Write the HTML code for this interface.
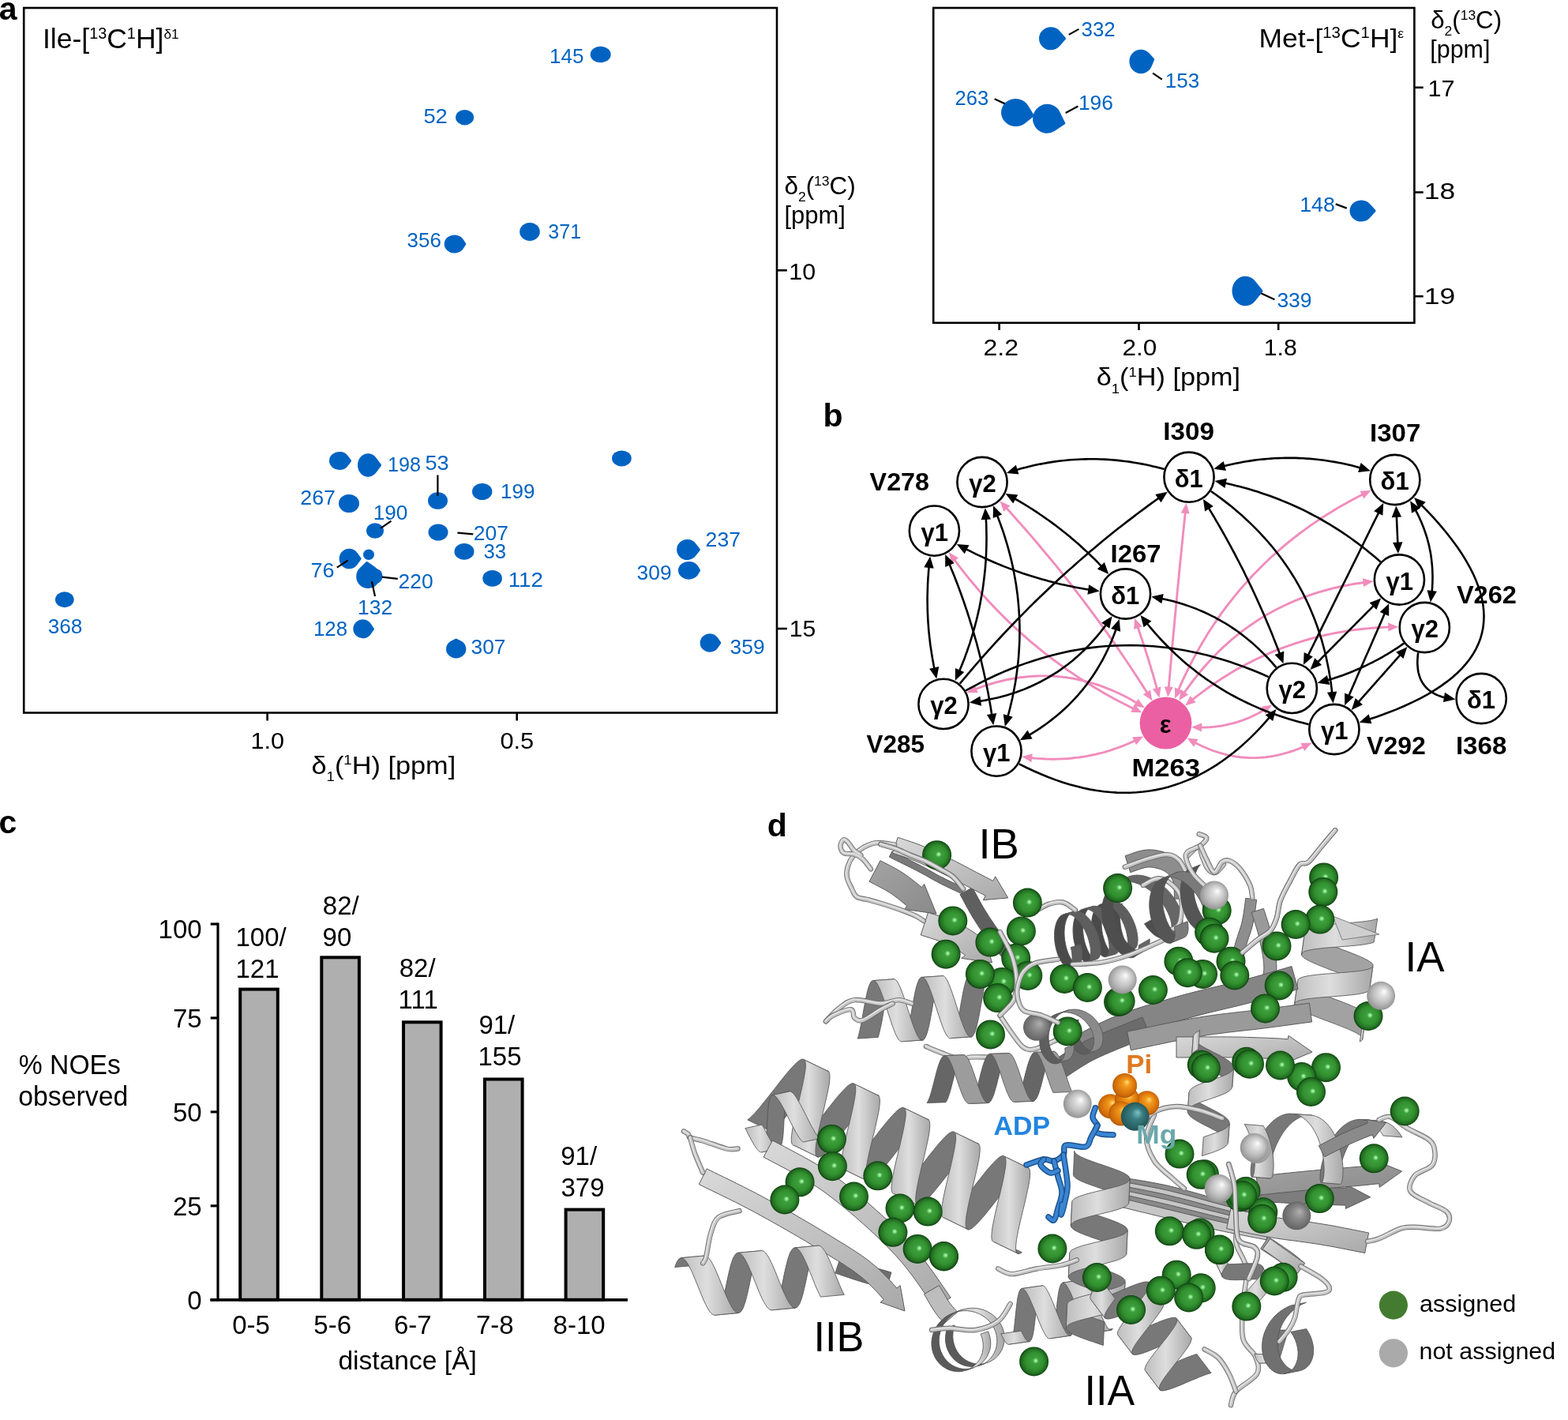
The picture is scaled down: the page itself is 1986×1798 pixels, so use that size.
<!DOCTYPE html>
<html><head><meta charset="utf-8"><title>Figure</title>
<style>html,body{margin:0;padding:0;background:#fff;}svg{display:block;}text{font-family:"Liberation Sans", Arial, Helvetica, sans-serif;}</style></head>
<body><svg width="1986" height="1798" viewBox="0 0 1986 1798" font-family='"Liberation Sans", Arial, Helvetica, sans-serif'>
<defs>
<radialGradient id="gG" cx="0.5" cy="0.5" r="0.5" fx="0.57" fy="0.47">
<stop offset="0" stop-color="#b2ffb2"/><stop offset="0.07" stop-color="#8fe88f"/><stop offset="0.2" stop-color="#3d9f3d"/><stop offset="0.6" stop-color="#32912f"/><stop offset="0.86" stop-color="#226e22"/><stop offset="1" stop-color="#0d3f0d"/></radialGradient>
<radialGradient id="gD" cx="0.5" cy="0.5" r="0.55" fx="0.62" fy="0.35">
<stop offset="0" stop-color="#5aa55a"/><stop offset="0.3" stop-color="#236f23"/><stop offset="0.8" stop-color="#195519"/><stop offset="1" stop-color="#0f3c0f"/></radialGradient>
<radialGradient id="gW" cx="0.5" cy="0.5" r="0.55" fx="0.62" fy="0.35">
<stop offset="0" stop-color="#ffffff"/><stop offset="0.2" stop-color="#e4e4e4"/><stop offset="0.6" stop-color="#bdbdbd"/><stop offset="1" stop-color="#8a8a8a"/></radialGradient>
<radialGradient id="gK" cx="0.5" cy="0.5" r="0.55" fx="0.62" fy="0.35">
<stop offset="0" stop-color="#b0b0b0"/><stop offset="0.4" stop-color="#8a8a8a"/><stop offset="1" stop-color="#5e5e5e"/></radialGradient>
<radialGradient id="gO" cx="0.5" cy="0.5" r="0.55" fx="0.6" fy="0.35">
<stop offset="0" stop-color="#ffe27a"/><stop offset="0.25" stop-color="#f39a1c"/><stop offset="0.8" stop-color="#d06a08"/><stop offset="1" stop-color="#9a4d05"/></radialGradient>
<radialGradient id="gT" cx="0.5" cy="0.5" r="0.55" fx="0.6" fy="0.35">
<stop offset="0" stop-color="#7fc4c4"/><stop offset="0.35" stop-color="#3b7f82"/><stop offset="1" stop-color="#1f4f52"/></radialGradient>
<linearGradient id="gS" x1="0" y1="0" x2="1" y2="1">
<stop offset="0" stop-color="#d9d9d9"/><stop offset="0.5" stop-color="#c2c2c2"/><stop offset="1" stop-color="#a9a9a9"/></linearGradient>
<linearGradient id="gS2" x1="0" y1="0" x2="1" y2="1">
<stop offset="0" stop-color="#a4a4a4"/><stop offset="1" stop-color="#8a8a8a"/></linearGradient>
<linearGradient id="gHf" x1="0" y1="0" x2="1" y2="0">
<stop offset="0" stop-color="#bdbdbd"/><stop offset="0.45" stop-color="#dedede"/><stop offset="1" stop-color="#a8a8a8"/></linearGradient>
</defs>
<rect width="1986" height="1798" fill="#fff"/>
<text x="-1.2" y="24.5" font-size="41" font-weight="bold" fill="#000">a</text>
<rect x="30.2" y="10" width="953.8" height="892.5" fill="none" stroke="#000" stroke-width="2.6"/>
<line x1="338.6" y1="902.5" x2="338.6" y2="912.5" stroke="#000" stroke-width="2.6"/>
<line x1="654.7" y1="902.5" x2="654.7" y2="912.5" stroke="#000" stroke-width="2.6"/>
<line x1="984" y1="342.3" x2="996.8" y2="342.3" stroke="#000" stroke-width="2.6"/>
<line x1="984" y1="796" x2="996.8" y2="796" stroke="#000" stroke-width="2.6"/>
<text x="317.4" y="948.2" font-size="29" fill="#000" textLength="42.6" lengthAdjust="spacingAndGlyphs">1.0</text>
<text x="633.4" y="948.3" font-size="29" fill="#000" textLength="42.8" lengthAdjust="spacingAndGlyphs">0.5</text>
<text x="999.3" y="354.1" font-size="30" fill="#000" textLength="33.8" lengthAdjust="spacingAndGlyphs">10</text>
<text x="999.7" y="806.3" font-size="30" fill="#000" textLength="33.5" lengthAdjust="spacingAndGlyphs">15</text>
<text id="ta1" x="54.0" y="61.0" font-size="35" fill="#000" textLength="172.6" lengthAdjust="spacingAndGlyphs">Ile-[<tspan font-size="19.5" dy="-12.5">13</tspan><tspan dy="12.5">C</tspan><tspan font-size="19.5" dy="-12.5">1</tspan><tspan dy="12.5">H]</tspan><tspan font-size="17" dy="-12.5">δ1</tspan></text>
<text id="ta2" x="993.4" y="246.3" font-size="30.5" fill="#000" textLength="90.4" lengthAdjust="spacingAndGlyphs">δ<tspan font-size="17" dy="9">2</tspan><tspan dy="-9">(</tspan><tspan font-size="17" dy="-11">13</tspan><tspan dy="11">C)</tspan></text>
<text id="ta3" x="993.4" y="283.2" font-size="30.5" fill="#000" textLength="77.5" lengthAdjust="spacingAndGlyphs">[ppm]</text>
<text id="ta4" x="394.5" y="979.8" font-size="30.5" fill="#000" textLength="182.7" lengthAdjust="spacingAndGlyphs">δ<tspan font-size="16.5" dy="9.5">1</tspan><tspan dy="-9.5">(</tspan><tspan font-size="16.5" dy="-11.5">1</tspan><tspan dy="11.5">H) [ppm]</tspan></text>
<ellipse cx="760.7" cy="69" rx="13.0" ry="10.25" fill="#0063c2"/>
<ellipse cx="588.6" cy="148.7" rx="11.5" ry="9.7" fill="#0063c2"/>
<path d="M1.150,0 L0.870,0.494 A1,1 0 1 1 0.870,-0.494 Z" fill="#0063c2" stroke="#0063c2" stroke-width="3" stroke-linejoin="round" vector-effect="non-scaling-stroke" transform="translate(576.5,309) rotate(0) scale(11.442,10.000) translate(-0.075,0)"/>
<ellipse cx="671" cy="293.4" rx="12.8" ry="11.5" fill="#0063c2"/>
<path d="M1.200,0 L0.833,0.553 A1,1 0 1 1 0.833,-0.553 Z" fill="#0063c2" stroke="#0063c2" stroke-width="3" stroke-linejoin="round" vector-effect="non-scaling-stroke" transform="translate(431,583.5) rotate(0) scale(11.364,10.000) translate(-0.100,0)"/>
<path d="M1.300,0 L0.769,0.639 A1,1 0 1 1 0.769,-0.639 Z" fill="#0063c2" stroke="#0063c2" stroke-width="3" stroke-linejoin="round" vector-effect="non-scaling-stroke" transform="translate(468,589) rotate(0) scale(11.739,13.250) translate(-0.150,0)"/>
<ellipse cx="554.5" cy="634" rx="12.5" ry="10.8" fill="#0063c2"/>
<ellipse cx="610.7" cy="622.5" rx="12.7" ry="10.5" fill="#0063c2"/>
<ellipse cx="442" cy="637.5" rx="13.0" ry="11.5" fill="#0063c2"/>
<ellipse cx="475" cy="672" rx="11.0" ry="9.75" fill="#0063c2"/>
<ellipse cx="555" cy="674" rx="12.5" ry="10.5" fill="#0063c2"/>
<ellipse cx="588" cy="698.4" rx="12.5" ry="10.35" fill="#0063c2"/>
<path d="M1.250,0 L0.800,0.600 A1,1 0 1 1 0.800,-0.600 Z" fill="#0063c2" stroke="#0063c2" stroke-width="3" stroke-linejoin="round" vector-effect="non-scaling-stroke" transform="translate(443.6,707.5) rotate(0) scale(11.111,11.250) translate(-0.125,0)"/>
<ellipse cx="467" cy="702.3" rx="7.0" ry="6.8" fill="#0063c2"/>
<path d="M1.300,0 L0.769,0.639 A1,1 0 1 1 0.769,-0.639 Z" fill="#0063c2" stroke="#0063c2" stroke-width="3" stroke-linejoin="round" vector-effect="non-scaling-stroke" transform="translate(466,728) rotate(-95) scale(13.478,13.500) translate(-0.150,0)"/>
<ellipse cx="477.5" cy="729.5" rx="7.0" ry="9.0" fill="#0063c2"/>
<path d="M1.200,0 L0.833,0.553 A1,1 0 1 1 0.833,-0.553 Z" fill="#0063c2" stroke="#0063c2" stroke-width="3" stroke-linejoin="round" vector-effect="non-scaling-stroke" transform="translate(460.6,796.3) rotate(0) scale(10.727,10.500) translate(-0.100,0)"/>
<path d="M1.150,0 L0.870,0.494 A1,1 0 1 1 0.870,-0.494 Z" fill="#0063c2" stroke="#0063c2" stroke-width="3" stroke-linejoin="round" vector-effect="non-scaling-stroke" transform="translate(577.7,821) rotate(-90) scale(10.233,11.200) translate(-0.075,0)"/>
<ellipse cx="623.6" cy="732.4" rx="12.3" ry="10.3" fill="#0063c2"/>
<ellipse cx="787.4" cy="580.4" rx="12.35" ry="10.0" fill="#0063c2"/>
<path d="M1.250,0 L0.800,0.600 A1,1 0 1 1 0.800,-0.600 Z" fill="#0063c2" stroke="#0063c2" stroke-width="3" stroke-linejoin="round" vector-effect="non-scaling-stroke" transform="translate(872,696) rotate(0) scale(11.867,11.500) translate(-0.125,0)"/>
<path d="M1.100,0 L0.909,0.417 A1,1 0 1 1 0.909,-0.417 Z" fill="#0063c2" stroke="#0063c2" stroke-width="3" stroke-linejoin="round" vector-effect="non-scaling-stroke" transform="translate(873,722.3) rotate(0) scale(11.905,9.800) translate(-0.050,0)"/>
<path d="M1.200,0 L0.833,0.553 A1,1 0 1 1 0.833,-0.553 Z" fill="#0063c2" stroke="#0063c2" stroke-width="3" stroke-linejoin="round" vector-effect="non-scaling-stroke" transform="translate(900,814) rotate(0) scale(10.773,10.200) translate(-0.100,0)"/>
<ellipse cx="81.8" cy="759.2" rx="11.85" ry="10.0" fill="#0063c2"/>
<line x1="554.4" y1="601.5" x2="554.4" y2="627.8" stroke="#000" stroke-width="2.2"/>
<line x1="495.5" y1="659.7" x2="482.2" y2="668.8" stroke="#000" stroke-width="2.2"/>
<line x1="579.4" y1="674.7" x2="599.3" y2="676.3" stroke="#000" stroke-width="2.2"/>
<line x1="440.6" y1="709.6" x2="426.8" y2="718.6" stroke="#000" stroke-width="2.2"/>
<line x1="483.8" y1="730.7" x2="503.8" y2="732.9" stroke="#000" stroke-width="2.2"/>
<line x1="470.9" y1="736.2" x2="475" y2="755.1" stroke="#000" stroke-width="2.2"/>
<text x="695.9" y="80.3" font-size="25.2" fill="#0063c2" textLength="43.5" lengthAdjust="spacingAndGlyphs">145</text>
<text x="536.4" y="156.3" font-size="25.2" fill="#0063c2" textLength="30.4" lengthAdjust="spacingAndGlyphs">52</text>
<text x="515.6" y="312.6" font-size="25.2" fill="#0063c2" textLength="43.2" lengthAdjust="spacingAndGlyphs">356</text>
<text x="694.3" y="302.3" font-size="25.2" fill="#0063c2" textLength="41.8" lengthAdjust="spacingAndGlyphs">371</text>
<text x="491.1" y="597.0" font-size="25.2" fill="#0063c2" textLength="42.0" lengthAdjust="spacingAndGlyphs">198</text>
<text x="538.4" y="594.6" font-size="25.2" fill="#0063c2" textLength="30.2" lengthAdjust="spacingAndGlyphs">53</text>
<text x="633.9" y="631.1" font-size="25.2" fill="#0063c2" textLength="43.5" lengthAdjust="spacingAndGlyphs">199</text>
<text x="380.3" y="639.0" font-size="25.2" fill="#0063c2" textLength="44.6" lengthAdjust="spacingAndGlyphs">267</text>
<text x="472.7" y="658.4" font-size="25.2" fill="#0063c2" textLength="43.7" lengthAdjust="spacingAndGlyphs">190</text>
<text x="599.7" y="683.8" font-size="25.2" fill="#0063c2" textLength="44.2" lengthAdjust="spacingAndGlyphs">207</text>
<text x="612.4" y="707.0" font-size="25.2" fill="#0063c2" textLength="28.7" lengthAdjust="spacingAndGlyphs">33</text>
<text x="393.5" y="730.7" font-size="25.2" fill="#0063c2" textLength="30.0" lengthAdjust="spacingAndGlyphs">76</text>
<text x="504.6" y="745.2" font-size="25.2" fill="#0063c2" textLength="44.0" lengthAdjust="spacingAndGlyphs">220</text>
<text x="453.0" y="777.7" font-size="25.2" fill="#0063c2" textLength="44.1" lengthAdjust="spacingAndGlyphs">132</text>
<text x="397.0" y="804.7" font-size="25.2" fill="#0063c2" textLength="43.1" lengthAdjust="spacingAndGlyphs">128</text>
<text x="596.6" y="828.0" font-size="25.2" fill="#0063c2" textLength="43.9" lengthAdjust="spacingAndGlyphs">307</text>
<text x="643.7" y="743.2" font-size="25.2" fill="#0063c2" textLength="44.2" lengthAdjust="spacingAndGlyphs">112</text>
<text x="893.6" y="692.2" font-size="25.2" fill="#0063c2" textLength="44.4" lengthAdjust="spacingAndGlyphs">237</text>
<text x="806.6" y="734.4" font-size="25.2" fill="#0063c2" textLength="44.0" lengthAdjust="spacingAndGlyphs">309</text>
<text x="924.6" y="828.4" font-size="25.2" fill="#0063c2" textLength="44.0" lengthAdjust="spacingAndGlyphs">359</text>
<text x="60.7" y="802.0" font-size="25.2" fill="#0063c2" textLength="43.6" lengthAdjust="spacingAndGlyphs">368</text>
<rect x="1182.2" y="10" width="609.2" height="398.8" fill="none" stroke="#000" stroke-width="2.6"/>
<line x1="1265.6" y1="408.8" x2="1265.6" y2="418" stroke="#000" stroke-width="2.6"/>
<line x1="1442.5" y1="408.8" x2="1442.5" y2="418" stroke="#000" stroke-width="2.6"/>
<line x1="1619.2" y1="408.8" x2="1619.2" y2="418" stroke="#000" stroke-width="2.6"/>
<line x1="1791.4" y1="110.8" x2="1802.7" y2="110.8" stroke="#000" stroke-width="2.6"/>
<line x1="1791.4" y1="243.5" x2="1802.7" y2="243.5" stroke="#000" stroke-width="2.6"/>
<line x1="1791.4" y1="375.2" x2="1802.7" y2="375.2" stroke="#000" stroke-width="2.6"/>
<text x="1245.5" y="450.0" font-size="29" fill="#000" textLength="44.5" lengthAdjust="spacingAndGlyphs">2.2</text>
<text x="1421.4" y="450.0" font-size="29" fill="#000" textLength="43.8" lengthAdjust="spacingAndGlyphs">2.0</text>
<text x="1600.8" y="450.0" font-size="29" fill="#000" textLength="41.9" lengthAdjust="spacingAndGlyphs">1.8</text>
<text x="1808.5" y="121.9" font-size="29" fill="#000" textLength="34.1" lengthAdjust="spacingAndGlyphs">17</text>
<text x="1803.8" y="252.4" font-size="29" fill="#000" textLength="39.3" lengthAdjust="spacingAndGlyphs">18</text>
<text x="1803.8" y="385.3" font-size="29" fill="#000" textLength="39.5" lengthAdjust="spacingAndGlyphs">19</text>
<text id="tm1" x="1594.5" y="60.4" font-size="34" fill="#000" textLength="183.8" lengthAdjust="spacingAndGlyphs">Met-[<tspan font-size="19.5" dy="-12.5">13</tspan><tspan dy="12.5">C</tspan><tspan font-size="19.5" dy="-12.5">1</tspan><tspan dy="12.5">H]</tspan><tspan font-size="17" dy="-12.5">ε</tspan></text>
<text id="tm2" x="1812.2" y="36.3" font-size="30.5" fill="#000" textLength="89.9" lengthAdjust="spacingAndGlyphs">δ<tspan font-size="17" dy="9">2</tspan><tspan dy="-9">(</tspan><tspan font-size="17" dy="-11">13</tspan><tspan dy="11">C)</tspan></text>
<text id="tm3" x="1811.3" y="72.5" font-size="30.5" fill="#000" textLength="76.1" lengthAdjust="spacingAndGlyphs">[ppm]</text>
<text id="tm4" x="1388.7" y="488.1" font-size="30.5" fill="#000" textLength="182.3" lengthAdjust="spacingAndGlyphs">δ<tspan font-size="16.5" dy="9.5">1</tspan><tspan dy="-9.5">(</tspan><tspan font-size="16.5" dy="-11.5">1</tspan><tspan dy="11.5">H) [ppm]</tspan></text>
<path d="M1.300,0 L0.769,0.639 A1,1 0 1 1 0.769,-0.639 Z" fill="#0063c2" stroke="#0063c2" stroke-width="3" stroke-linejoin="round" vector-effect="non-scaling-stroke" transform="translate(1333,48.8) rotate(0) scale(13.478,13.000) translate(-0.150,0)"/>
<path d="M1.200,0 L0.833,0.553 A1,1 0 1 1 0.833,-0.553 Z" fill="#0063c2" stroke="#0063c2" stroke-width="3" stroke-linejoin="round" vector-effect="non-scaling-stroke" transform="translate(1446.4,77.7) rotate(-10) scale(13.182,13.800) translate(-0.100,0)"/>
<path d="M1.300,0 L0.769,0.639 A1,1 0 1 1 0.769,-0.639 Z" fill="#0063c2" stroke="#0063c2" stroke-width="3" stroke-linejoin="round" vector-effect="non-scaling-stroke" transform="translate(1289,143) rotate(10) scale(16.957,16.000) translate(-0.150,0)"/>
<path d="M1.350,0 L0.741,0.672 A1,1 0 1 1 0.741,-0.672 Z" fill="#0063c2" stroke="#0063c2" stroke-width="3" stroke-linejoin="round" vector-effect="non-scaling-stroke" transform="translate(1329,151) rotate(15) scale(16.596,17.000) translate(-0.175,0)"/>
<path d="M1.300,0 L0.769,0.639 A1,1 0 1 1 0.769,-0.639 Z" fill="#0063c2" stroke="#0063c2" stroke-width="3" stroke-linejoin="round" vector-effect="non-scaling-stroke" transform="translate(1726,267) rotate(0) scale(13.043,12.000) translate(-0.150,0)"/>
<path d="M1.350,0 L0.741,0.672 A1,1 0 1 1 0.741,-0.672 Z" fill="#0063c2" stroke="#0063c2" stroke-width="3" stroke-linejoin="round" vector-effect="non-scaling-stroke" transform="translate(1580,368.5) rotate(0) scale(15.319,17.250) translate(-0.175,0)"/>
<line x1="1353.8" y1="43.9" x2="1366.4" y2="36.9" stroke="#000" stroke-width="2.2"/>
<line x1="1460.1" y1="92.6" x2="1471.8" y2="100.7" stroke="#000" stroke-width="2.2"/>
<line x1="1259.7" y1="125.3" x2="1272.8" y2="131.3" stroke="#000" stroke-width="2.2"/>
<line x1="1349.7" y1="143" x2="1365.4" y2="134.5" stroke="#000" stroke-width="2.2"/>
<line x1="1691.7" y1="258.4" x2="1705.8" y2="263.6" stroke="#000" stroke-width="2.2"/>
<line x1="1597" y1="371.2" x2="1614.4" y2="379.3" stroke="#000" stroke-width="2.2"/>
<text x="1369.5" y="46.3" font-size="25.5" fill="#0063c2" textLength="43.2" lengthAdjust="spacingAndGlyphs">332</text>
<text x="1475.8" y="110.8" font-size="25.5" fill="#0063c2" textLength="43.4" lengthAdjust="spacingAndGlyphs">153</text>
<text x="1209.5" y="133.0" font-size="25.5" fill="#0063c2" textLength="42.6" lengthAdjust="spacingAndGlyphs">263</text>
<text x="1365.9" y="139.0" font-size="25.5" fill="#0063c2" textLength="44.0" lengthAdjust="spacingAndGlyphs">196</text>
<text x="1646.2" y="267.7" font-size="25.5" fill="#0063c2" textLength="44.7" lengthAdjust="spacingAndGlyphs">148</text>
<text x="1617.4" y="388.5" font-size="25.5" fill="#0063c2" textLength="44.2" lengthAdjust="spacingAndGlyphs">339</text>
<text x="-1.6" y="1054.6" font-size="41" font-weight="bold" fill="#000">c</text>
<line x1="276" y1="1168.5" x2="276" y2="1647.3" stroke="#000" stroke-width="3.2"/>
<line x1="266.5" y1="1645.8" x2="795" y2="1645.8" stroke="#000" stroke-width="3.2"/>
<line x1="266.7" y1="1170.0" x2="276" y2="1170.0" stroke="#000" stroke-width="3.2"/>
<line x1="266.7" y1="1288.95" x2="276" y2="1288.95" stroke="#000" stroke-width="3.2"/>
<line x1="266.7" y1="1407.9" x2="276" y2="1407.9" stroke="#000" stroke-width="3.2"/>
<line x1="266.7" y1="1526.85" x2="276" y2="1526.85" stroke="#000" stroke-width="3.2"/>
<line x1="266.7" y1="1645.8" x2="276" y2="1645.8" stroke="#000" stroke-width="3.2"/>
<text x="200.6" y="1187.5" font-size="33" fill="#000" textLength="55.0" lengthAdjust="spacingAndGlyphs">100</text>
<text x="219.0" y="1300.7" font-size="33" fill="#000">75</text>
<text x="218.9" y="1419.6" font-size="33" fill="#000">50</text>
<text x="219.0" y="1538.5" font-size="33" fill="#000">25</text>
<text x="237.2" y="1657.5" font-size="33" fill="#000">0</text>
<rect x="304.2" y="1252.6" width="47.6" height="393.2" fill="#afafaf" stroke="#000" stroke-width="4"/>
<rect x="407.3" y="1212.3" width="47.6" height="433.5" fill="#afafaf" stroke="#000" stroke-width="4"/>
<rect x="511.0" y="1294.3" width="47.6" height="351.5" fill="#afafaf" stroke="#000" stroke-width="4"/>
<rect x="614.0" y="1366.5" width="47.6" height="279.3" fill="#afafaf" stroke="#000" stroke-width="4"/>
<rect x="716.6" y="1531.6" width="47.6" height="114.2" fill="#afafaf" stroke="#000" stroke-width="4"/>
<line x1="266.5" y1="1645.8" x2="795" y2="1645.8" stroke="#000" stroke-width="3.2"/>
<text x="298.5" y="1198.4" font-size="33" fill="#000">100/</text>
<text x="298.5" y="1238.2" font-size="33" fill="#000">121</text>
<text x="408.8" y="1157.9" font-size="33" fill="#000">82/</text>
<text x="408.6" y="1197.7" font-size="33" fill="#000">90</text>
<text x="505.7" y="1237.2" font-size="33" fill="#000">82/</text>
<text x="504.6" y="1277.0" font-size="33" fill="#000">111</text>
<text x="606.4" y="1309.0" font-size="33" fill="#000">91/</text>
<text x="605.5" y="1348.8" font-size="33" fill="#000">155</text>
<text x="710.2" y="1475.2" font-size="33" fill="#000">91/</text>
<text x="710.5" y="1515.0" font-size="33" fill="#000">379</text>
<text x="294.2" y="1689.0" font-size="33" fill="#000">0-5</text>
<text x="397.3" y="1689.0" font-size="33" fill="#000">5-6</text>
<text x="498.9" y="1689.0" font-size="33" fill="#000">6-7</text>
<text x="602.9" y="1689.0" font-size="33" fill="#000">7-8</text>
<text x="700.6" y="1689.0" font-size="33" fill="#000">8-10</text>
<text x="428.4" y="1734.2" font-size="34" fill="#000" textLength="175.5" lengthAdjust="spacingAndGlyphs">distance [Å]</text>
<text x="23.8" y="1359.8" font-size="34.5" fill="#000" textLength="129.1" lengthAdjust="spacingAndGlyphs">% NOEs</text>
<text x="23.3" y="1400.0" font-size="34.5" fill="#000" textLength="138.9" lengthAdjust="spacingAndGlyphs">observed</text>
<text x="1042.4" y="540.3" font-size="41" font-weight="bold" fill="#000">b</text>
<path d="M1272.8,641.2 L1277.9,646.8 L1282.9,652.4 L1287.9,658.0 L1292.9,663.6 L1297.9,669.2 L1302.8,674.9 L1307.7,680.6 L1312.6,686.3 L1317.4,692.0 L1322.2,697.8 L1327.0,703.5 L1331.8,709.3 L1336.6,715.1 L1341.3,720.9 L1346.0,726.8 L1350.6,732.7 L1355.3,738.5 L1359.9,744.5 L1364.4,750.4 L1369.0,756.3 L1373.5,762.3 L1378.0,768.3 L1382.5,774.3 L1387.0,780.3 L1391.4,786.4 L1395.8,792.4 L1400.1,798.5 L1404.5,804.6 L1408.8,810.8 L1413.1,816.9 L1417.3,823.1 L1421.6,829.3 L1425.8,835.5 L1430.0,841.7 L1434.1,848.0 L1438.2,854.3 L1442.4,860.6 L1446.4,866.9 L1450.5,873.2 L1454.5,879.6" fill="none" stroke="#f08cbc" stroke-width="2.9"/>
<polygon points="1266.6,634.5 1279.5,640.4 1271.3,647.8" fill="#f08cbc"/>
<polygon points="1459.4,887.3 1447.8,879.2 1457.1,873.4" fill="#f08cbc"/>
<path d="M1207.3,706.8 L1211.9,713.0 L1216.6,719.1 L1221.3,725.1 L1226.1,731.1 L1231.0,737.0 L1235.9,742.8 L1240.8,748.6 L1245.8,754.3 L1250.9,759.9 L1256.1,765.4 L1261.3,770.9 L1266.5,776.3 L1271.9,781.6 L1277.2,786.9 L1282.7,792.0 L1288.2,797.1 L1293.7,802.2 L1299.4,807.2 L1305.0,812.1 L1310.8,816.9 L1316.6,821.6 L1322.4,826.3 L1328.4,830.9 L1334.3,835.5 L1340.4,839.9 L1346.5,844.3 L1352.6,848.7 L1358.8,852.9 L1365.1,857.1 L1371.4,861.2 L1377.8,865.2 L1384.3,869.2 L1390.8,873.1 L1397.3,876.9 L1404.0,880.7 L1410.7,884.4 L1417.4,888.0 L1424.2,891.5 L1431.1,895.0 L1438.0,898.4" fill="none" stroke="#f08cbc" stroke-width="2.9"/>
<polygon points="1201.9,699.3 1214.0,706.6 1205.1,713.1" fill="#f08cbc"/>
<polygon points="1446.3,902.3 1432.2,901.7 1437.0,891.8" fill="#f08cbc"/>
<path d="M1501.6,646.2 L1501.0,651.8 L1500.4,657.5 L1499.8,663.2 L1499.2,668.9 L1498.6,674.5 L1498.1,680.2 L1497.5,685.9 L1496.9,691.6 L1496.3,697.3 L1495.8,702.9 L1495.2,708.6 L1494.6,714.3 L1494.1,720.0 L1493.5,725.7 L1493.0,731.3 L1492.4,737.0 L1491.9,742.7 L1491.3,748.4 L1490.8,754.1 L1490.3,759.8 L1489.7,765.4 L1489.2,771.1 L1488.7,776.8 L1488.1,782.5 L1487.6,788.2 L1487.1,793.9 L1486.5,799.5 L1486.0,805.2 L1485.5,810.9 L1485.0,816.6 L1484.5,822.3 L1484.0,828.0 L1483.5,833.7 L1483.0,839.3 L1482.5,845.0 L1482.0,850.7 L1481.5,856.4 L1481.0,862.1 L1480.5,867.8 L1480.0,873.5" fill="none" stroke="#f08cbc" stroke-width="2.9"/>
<polygon points="1502.5,637.0 1506.6,650.5 1495.7,649.4" fill="#f08cbc"/>
<polygon points="1479.2,882.6 1474.9,869.2 1485.8,870.1" fill="#f08cbc"/>
<path d="M1728.3,624.9 L1720.1,629.0 L1712.1,633.3 L1704.1,637.7 L1696.3,642.1 L1688.6,646.7 L1680.9,651.4 L1673.5,656.2 L1666.1,661.1 L1658.8,666.1 L1651.7,671.3 L1644.7,676.5 L1637.8,681.9 L1631.0,687.3 L1624.3,692.9 L1617.8,698.6 L1611.3,704.3 L1605.0,710.2 L1598.8,716.2 L1592.7,722.4 L1586.7,728.6 L1580.9,734.9 L1575.1,741.4 L1569.5,747.9 L1564.0,754.6 L1558.6,761.3 L1553.3,768.2 L1548.1,775.2 L1543.1,782.3 L1538.2,789.5 L1533.3,796.8 L1528.6,804.3 L1524.1,811.8 L1519.6,819.4 L1515.3,827.2 L1511.0,835.1 L1506.9,843.0 L1502.9,851.1 L1499.0,859.3 L1495.2,867.6 L1491.6,876.0" fill="none" stroke="#f08cbc" stroke-width="2.9"/>
<polygon points="1736.6,620.9 1727.3,631.5 1722.5,621.7" fill="#f08cbc"/>
<polygon points="1488.1,884.5 1488.0,870.4 1498.2,874.7" fill="#f08cbc"/>
<path d="M1440.1,791.4 L1440.8,793.5 L1441.6,795.6 L1442.3,797.6 L1443.0,799.7 L1443.7,801.7 L1444.4,803.8 L1445.1,805.9 L1445.8,807.9 L1446.5,810.0 L1447.2,812.1 L1447.9,814.2 L1448.5,816.2 L1449.2,818.3 L1449.9,820.4 L1450.6,822.5 L1451.2,824.5 L1451.9,826.6 L1452.6,828.7 L1453.2,830.8 L1453.9,832.9 L1454.5,834.9 L1455.2,837.0 L1455.8,839.1 L1456.4,841.2 L1457.1,843.3 L1457.7,845.4 L1458.3,847.5 L1458.9,849.6 L1459.6,851.7 L1460.2,853.7 L1460.8,855.8 L1461.4,857.9 L1462.0,860.0 L1462.6,862.1 L1463.2,864.2 L1463.8,866.3 L1464.4,868.4 L1465.0,870.5 L1465.5,872.6 L1466.1,874.7" fill="none" stroke="#f08cbc" stroke-width="2.9"/>
<polygon points="1437.1,782.8 1446.6,793.3 1436.2,796.9" fill="#f08cbc"/>
<polygon points="1468.5,883.6 1459.8,872.4 1470.4,869.6" fill="#f08cbc"/>
<path d="M1730.3,737.2 L1722.9,738.2 L1715.7,739.3 L1708.5,740.6 L1701.3,742.0 L1694.3,743.5 L1687.3,745.2 L1680.5,747.0 L1673.7,748.9 L1666.9,750.9 L1660.3,753.1 L1653.7,755.4 L1647.3,757.9 L1640.9,760.4 L1634.5,763.1 L1628.3,766.0 L1622.1,769.0 L1616.1,772.0 L1610.1,775.3 L1604.1,778.6 L1598.3,782.1 L1592.5,785.8 L1586.9,789.5 L1581.3,793.4 L1575.8,797.4 L1570.3,801.5 L1565.0,805.8 L1559.7,810.2 L1554.5,814.8 L1549.4,819.4 L1544.3,824.2 L1539.4,829.2 L1534.5,834.2 L1529.7,839.4 L1525.0,844.7 L1520.4,850.2 L1515.8,855.8 L1511.4,861.5 L1507.0,867.3 L1502.6,873.3 L1498.4,879.4" fill="none" stroke="#f08cbc" stroke-width="2.9"/>
<polygon points="1739.5,736.1 1727.2,743.1 1725.9,732.2" fill="#f08cbc"/>
<polygon points="1493.3,887.1 1496.0,873.3 1505.1,879.4" fill="#f08cbc"/>
<path d="M1762.0,793.9 L1754.9,794.1 L1747.8,794.5 L1740.8,795.0 L1733.8,795.6 L1726.9,796.2 L1719.9,797.0 L1713.1,797.9 L1706.2,798.9 L1699.4,800.1 L1692.7,801.3 L1685.9,802.6 L1679.3,804.0 L1672.6,805.6 L1666.0,807.2 L1659.5,809.0 L1652.9,810.8 L1646.5,812.8 L1640.0,814.9 L1633.6,817.1 L1627.2,819.4 L1620.9,821.7 L1614.6,824.2 L1608.4,826.9 L1602.2,829.6 L1596.0,832.4 L1589.9,835.3 L1583.8,838.4 L1577.7,841.5 L1571.7,844.8 L1565.8,848.1 L1559.8,851.6 L1553.9,855.2 L1548.1,858.8 L1542.3,862.6 L1536.5,866.5 L1530.8,870.5 L1525.1,874.6 L1519.4,878.8 L1513.8,883.1 L1508.2,887.6" fill="none" stroke="#f08cbc" stroke-width="2.9"/>
<polygon points="1771.2,793.7 1758.4,799.5 1758.1,788.5" fill="#f08cbc"/>
<polygon points="1501.1,893.4 1507.7,880.9 1514.7,889.5" fill="#f08cbc"/>
<path d="M1603.4,897.6 L1601.4,898.8 L1599.4,899.9 L1597.5,901.1 L1595.5,902.2 L1593.5,903.3 L1591.5,904.3 L1589.5,905.3 L1587.4,906.3 L1585.4,907.3 L1583.4,908.2 L1581.3,909.1 L1579.3,909.9 L1577.2,910.7 L1575.1,911.5 L1573.1,912.3 L1571.0,913.0 L1568.9,913.7 L1566.8,914.4 L1564.6,915.0 L1562.5,915.6 L1560.4,916.2 L1558.2,916.7 L1556.1,917.2 L1553.9,917.7 L1551.8,918.2 L1549.6,918.6 L1547.4,919.0 L1545.2,919.3 L1543.0,919.6 L1540.8,919.9 L1538.6,920.2 L1536.3,920.4 L1534.1,920.6 L1531.9,920.8 L1529.6,920.9 L1527.3,921.0 L1525.1,921.1 L1522.8,921.1 L1520.5,921.1 L1518.2,921.1" fill="none" stroke="#f08cbc" stroke-width="2.9"/>
<polygon points="1611.0,892.5 1603.1,904.2 1597.1,894.9" fill="#f08cbc"/>
<polygon points="1509.1,920.7 1522.2,915.6 1521.9,926.6" fill="#f08cbc"/>
<path d="M1653.3,944.5 L1649.7,946.1 L1646.1,947.6 L1642.5,949.0 L1638.9,950.3 L1635.3,951.5 L1631.7,952.7 L1628.1,953.7 L1624.5,954.7 L1620.9,955.6 L1617.3,956.4 L1613.8,957.1 L1610.2,957.7 L1606.6,958.2 L1603.0,958.7 L1599.5,959.0 L1595.9,959.3 L1592.4,959.5 L1588.8,959.6 L1585.2,959.6 L1581.7,959.5 L1578.2,959.3 L1574.6,959.0 L1571.1,958.7 L1567.5,958.2 L1564.0,957.7 L1560.5,957.1 L1557.0,956.4 L1553.4,955.6 L1549.9,954.7 L1546.4,953.7 L1542.9,952.7 L1539.4,951.5 L1535.9,950.3 L1532.4,949.0 L1528.9,947.5 L1525.4,946.0 L1521.9,944.5 L1518.4,942.8 L1514.9,941.0 L1511.4,939.2" fill="none" stroke="#f08cbc" stroke-width="2.9"/>
<polygon points="1661.6,940.5 1652.1,951.0 1647.5,941.0" fill="#f08cbc"/>
<polygon points="1503.5,934.6 1517.5,936.1 1512.1,945.7" fill="#f08cbc"/>
<path d="M1233.1,873.5 L1238.6,871.4 L1244.0,869.5 L1249.4,867.6 L1254.8,866.0 L1260.2,864.4 L1265.6,863.0 L1271.0,861.7 L1276.3,860.5 L1281.7,859.5 L1287.0,858.6 L1292.3,857.8 L1297.6,857.2 L1302.9,856.6 L1308.2,856.3 L1313.5,856.0 L1318.8,855.9 L1324.0,855.9 L1329.3,856.0 L1334.5,856.2 L1339.8,856.6 L1345.0,857.1 L1350.2,857.8 L1355.4,858.5 L1360.6,859.4 L1365.7,860.5 L1370.9,861.6 L1376.0,862.9 L1381.2,864.3 L1386.3,865.9 L1391.4,867.5 L1396.5,869.3 L1401.6,871.3 L1406.7,873.3 L1411.8,875.5 L1416.8,877.8 L1421.9,880.3 L1426.9,882.8 L1432.0,885.5 L1437.0,888.4 L1442.0,891.3" fill="none" stroke="#f08cbc" stroke-width="2.9"/>
<polygon points="1224.6,877.0 1234.6,867.0 1238.7,877.2" fill="#f08cbc"/>
<polygon points="1449.8,896.2 1435.8,894.1 1441.6,884.7" fill="#f08cbc"/>
<path d="M1303.3,959.3 L1306.9,959.7 L1310.5,960.1 L1314.0,960.4 L1317.6,960.6 L1321.1,960.8 L1324.7,961.0 L1328.2,961.1 L1331.7,961.2 L1335.2,961.2 L1338.7,961.1 L1342.2,961.0 L1345.7,960.9 L1349.2,960.7 L1352.7,960.5 L1356.1,960.2 L1359.6,959.8 L1363.0,959.4 L1366.5,959.0 L1369.9,958.5 L1373.3,958.0 L1376.8,957.4 L1380.2,956.7 L1383.6,956.0 L1387.0,955.3 L1390.3,954.5 L1393.7,953.7 L1397.1,952.8 L1400.4,951.8 L1403.8,950.8 L1407.1,949.8 L1410.4,948.7 L1413.8,947.5 L1417.1,946.4 L1420.4,945.1 L1423.7,943.8 L1427.0,942.5 L1430.3,941.1 L1433.5,939.6 L1436.8,938.1 L1440.1,936.6" fill="none" stroke="#f08cbc" stroke-width="2.9"/>
<polygon points="1294.2,958.0 1307.8,954.3 1306.4,965.2" fill="#f08cbc"/>
<polygon points="1448.2,932.5 1439.0,943.2 1434.1,933.3" fill="#f08cbc"/>
<path d="M1474.7,594.1 L1469.9,592.8 L1465.1,591.6 L1460.3,590.4 L1455.6,589.3 L1450.8,588.3 L1446.0,587.4 L1441.2,586.5 L1436.4,585.7 L1431.7,584.9 L1426.9,584.3 L1422.1,583.7 L1417.4,583.1 L1412.6,582.6 L1407.8,582.2 L1403.1,581.9 L1398.3,581.6 L1393.6,581.5 L1388.8,581.3 L1384.0,581.3 L1379.3,581.3 L1374.5,581.4 L1369.8,581.5 L1365.0,581.7 L1360.3,582.0 L1355.5,582.3 L1350.8,582.8 L1346.0,583.3 L1341.3,583.8 L1336.6,584.4 L1331.8,585.1 L1327.1,585.9 L1322.4,586.7 L1317.6,587.6 L1312.9,588.6 L1308.2,589.6 L1303.4,590.7 L1298.7,591.9 L1294.0,593.1 L1289.3,594.5 L1284.5,595.8" fill="none" stroke="#000" stroke-width="2.6"/>
<polygon points="1274.8,598.9 1286.8,588.7 1290.5,600.6" fill="#000"/>
<path d="M1547.2,590.9 L1551.7,589.8 L1556.2,588.7 L1560.6,587.7 L1565.1,586.8 L1569.6,585.9 L1574.1,585.0 L1578.6,584.3 L1583.0,583.6 L1587.5,582.9 L1592.0,582.3 L1596.5,581.8 L1601.0,581.4 L1605.4,581.0 L1609.9,580.6 L1614.4,580.3 L1618.8,580.1 L1623.3,580.0 L1627.8,579.9 L1632.3,579.8 L1636.7,579.9 L1641.2,579.9 L1645.7,580.1 L1650.1,580.3 L1654.6,580.6 L1659.1,580.9 L1663.5,581.3 L1668.0,581.7 L1672.5,582.3 L1676.9,582.8 L1681.4,583.5 L1685.8,584.2 L1690.3,584.9 L1694.8,585.7 L1699.2,586.6 L1703.7,587.6 L1708.1,588.6 L1712.6,589.6 L1717.0,590.8 L1721.5,591.9 L1726.0,593.2" fill="none" stroke="#000" stroke-width="2.6"/>
<polygon points="1537.3,593.7 1549.7,583.9 1552.9,595.9" fill="#000"/>
<polygon points="1735.8,596.2 1720.1,598.0 1723.6,586.1" fill="#000"/>
<path d="M1282.5,629.9 L1285.7,631.7 L1288.9,633.5 L1292.1,635.4 L1295.2,637.2 L1298.4,639.1 L1301.5,641.0 L1304.6,643.0 L1307.7,644.9 L1310.7,646.9 L1313.8,648.9 L1316.8,651.0 L1319.8,653.0 L1322.8,655.1 L1325.8,657.2 L1328.8,659.3 L1331.7,661.4 L1334.7,663.6 L1337.6,665.8 L1340.5,668.0 L1343.4,670.2 L1346.2,672.5 L1349.1,674.7 L1351.9,677.0 L1354.7,679.3 L1357.5,681.7 L1360.3,684.0 L1363.0,686.4 L1365.8,688.8 L1368.5,691.2 L1371.2,693.7 L1373.9,696.2 L1376.6,698.6 L1379.2,701.2 L1381.8,703.7 L1384.5,706.3 L1387.1,708.8 L1389.7,711.4 L1392.2,714.1 L1394.8,716.7 L1397.3,719.4" fill="none" stroke="#000" stroke-width="2.6"/>
<polygon points="1273.6,625.0 1289.3,626.5 1283.2,637.5" fill="#000"/>
<polygon points="1404.2,726.9 1389.8,720.5 1398.9,712.0" fill="#000"/>
<path d="M1220.8,693.8 L1224.6,695.8 L1228.5,697.7 L1232.3,699.7 L1236.2,701.6 L1240.1,703.4 L1243.9,705.2 L1247.8,707.0 L1251.7,708.8 L1255.6,710.5 L1259.6,712.2 L1263.5,713.9 L1267.5,715.5 L1271.4,717.1 L1275.4,718.6 L1279.4,720.1 L1283.4,721.6 L1287.4,723.1 L1291.4,724.5 L1295.4,725.9 L1299.4,727.2 L1303.5,728.6 L1307.5,729.8 L1311.6,731.1 L1315.7,732.3 L1319.8,733.5 L1323.9,734.6 L1328.0,735.8 L1332.1,736.8 L1336.3,737.9 L1340.4,738.9 L1344.6,739.9 L1348.8,740.8 L1352.9,741.7 L1357.1,742.6 L1361.3,743.4 L1365.5,744.3 L1369.8,745.0 L1374.0,745.8 L1378.3,746.5 L1382.5,747.1" fill="none" stroke="#000" stroke-width="2.6"/>
<polygon points="1211.8,688.9 1227.5,690.2 1221.7,701.3" fill="#000"/>
<polygon points="1392.7,748.6 1377.4,752.7 1379.2,740.3" fill="#000"/>
<path d="M1176.9,714.7 L1176.6,718.1 L1176.3,721.5 L1176.0,724.9 L1175.8,728.3 L1175.5,731.7 L1175.3,735.1 L1175.1,738.5 L1175.0,741.9 L1174.9,745.3 L1174.8,748.7 L1174.7,752.1 L1174.6,755.5 L1174.6,758.8 L1174.6,762.2 L1174.7,765.6 L1174.7,769.0 L1174.8,772.4 L1174.9,775.7 L1175.1,779.1 L1175.2,782.5 L1175.4,785.9 L1175.6,789.2 L1175.9,792.6 L1176.1,796.0 L1176.4,799.3 L1176.8,802.7 L1177.1,806.1 L1177.5,809.4 L1177.9,812.8 L1178.3,816.2 L1178.8,819.5 L1179.3,822.9 L1179.8,826.2 L1180.3,829.6 L1180.9,832.9 L1181.5,836.3 L1182.1,839.6 L1182.7,843.0 L1183.4,846.3 L1184.1,849.7" fill="none" stroke="#000" stroke-width="2.6"/>
<polygon points="1178.1,704.6 1182.7,719.7 1170.3,718.3" fill="#000"/>
<polygon points="1186.3,859.6 1177.1,846.8 1189.3,844.1" fill="#000"/>
<path d="M1201.3,711.5 L1203.3,716.2 L1205.2,721.0 L1207.2,725.7 L1209.1,730.5 L1210.9,735.3 L1212.8,740.1 L1214.6,744.9 L1216.4,749.7 L1218.1,754.5 L1219.8,759.3 L1221.5,764.2 L1223.1,769.0 L1224.8,773.9 L1226.3,778.7 L1227.9,783.6 L1229.4,788.5 L1230.9,793.4 L1232.4,798.3 L1233.8,803.2 L1235.2,808.1 L1236.6,813.0 L1237.9,817.9 L1239.2,822.9 L1240.5,827.8 L1241.8,832.8 L1243.0,837.7 L1244.1,842.7 L1245.3,847.7 L1246.4,852.7 L1247.5,857.7 L1248.6,862.7 L1249.6,867.7 L1250.6,872.7 L1251.6,877.8 L1252.5,882.8 L1253.4,887.9 L1254.3,892.9 L1255.1,898.0 L1255.9,903.1 L1256.7,908.2" fill="none" stroke="#000" stroke-width="2.6"/>
<polygon points="1197.2,702.1 1208.7,713.0 1197.2,717.9" fill="#000"/>
<polygon points="1258.2,918.3 1249.9,904.9 1262.2,903.1" fill="#000"/>
<path d="M1248.6,653.5 L1248.9,658.6 L1249.2,663.8 L1249.3,669.0 L1249.4,674.1 L1249.5,679.3 L1249.5,684.4 L1249.4,689.5 L1249.3,694.6 L1249.1,699.7 L1248.9,704.8 L1248.6,709.9 L1248.2,714.9 L1247.8,720.0 L1247.3,725.0 L1246.7,730.1 L1246.1,735.1 L1245.5,740.1 L1244.8,745.1 L1244.0,750.1 L1243.1,755.1 L1242.2,760.0 L1241.3,765.0 L1240.3,770.0 L1239.2,774.9 L1238.1,779.8 L1236.9,784.7 L1235.6,789.7 L1234.3,794.6 L1232.9,799.4 L1231.5,804.3 L1230.0,809.2 L1228.5,814.1 L1226.8,818.9 L1225.2,823.7 L1223.4,828.6 L1221.7,833.4 L1219.8,838.2 L1217.9,843.0 L1215.9,847.8 L1213.9,852.5" fill="none" stroke="#000" stroke-width="2.6"/>
<polygon points="1247.9,643.3 1255.1,657.4 1242.6,658.2" fill="#000"/>
<polygon points="1209.8,861.8 1209.9,846.1 1221.3,851.1" fill="#000"/>
<path d="M1261.9,649.8 L1264.4,656.2 L1266.8,662.6 L1269.1,669.0 L1271.3,675.4 L1273.3,681.8 L1275.3,688.3 L1277.1,694.7 L1278.8,701.1 L1280.5,707.6 L1282.0,714.0 L1283.4,720.5 L1284.6,726.9 L1285.8,733.4 L1286.9,739.9 L1287.8,746.3 L1288.7,752.8 L1289.4,759.3 L1290.0,765.8 L1290.5,772.3 L1290.9,778.8 L1291.2,785.3 L1291.4,791.8 L1291.5,798.3 L1291.4,804.9 L1291.3,811.4 L1291.0,817.9 L1290.6,824.5 L1290.2,831.0 L1289.6,837.6 L1288.8,844.2 L1288.0,850.7 L1287.1,857.3 L1286.1,863.9 L1284.9,870.5 L1283.6,877.1 L1282.3,883.7 L1280.8,890.3 L1279.2,896.9 L1277.5,903.5 L1275.7,910.1" fill="none" stroke="#000" stroke-width="2.6"/>
<polygon points="1258.0,640.3 1269.2,651.4 1257.7,656.1" fill="#000"/>
<polygon points="1272.8,920.0 1270.8,904.3 1282.8,907.8" fill="#000"/>
<path d="M1215.7,865.7 L1221.3,859.0 L1226.9,852.3 L1232.6,845.6 L1238.3,839.0 L1244.1,832.4 L1249.9,825.9 L1255.8,819.4 L1261.6,812.9 L1267.6,806.5 L1273.5,800.1 L1279.5,793.8 L1285.6,787.5 L1291.6,781.3 L1297.8,775.1 L1303.9,768.9 L1310.1,762.8 L1316.3,756.7 L1322.6,750.7 L1328.9,744.7 L1335.3,738.7 L1341.7,732.8 L1348.1,727.0 L1354.6,721.1 L1361.1,715.4 L1367.6,709.6 L1374.2,703.9 L1380.8,698.3 L1387.5,692.7 L1394.2,687.1 L1400.9,681.6 L1407.7,676.1 L1414.5,670.6 L1421.4,665.2 L1428.3,659.9 L1435.2,654.6 L1442.2,649.3 L1449.2,644.1 L1456.2,638.9 L1463.3,633.7 L1470.5,628.6" fill="none" stroke="#000" stroke-width="2.6"/>
<polygon points="1478.8,622.8 1470.5,636.2 1463.3,626.0" fill="#000"/>
<path d="M1238.0,888.3 L1243.2,887.5 L1248.3,886.6 L1253.3,885.6 L1258.3,884.6 L1263.2,883.5 L1268.1,882.2 L1272.9,880.9 L1277.7,879.5 L1282.4,878.0 L1287.1,876.5 L1291.7,874.8 L1296.3,873.1 L1300.8,871.2 L1305.3,869.3 L1309.7,867.3 L1314.1,865.2 L1318.4,863.0 L1322.6,860.7 L1326.8,858.4 L1330.9,855.9 L1335.0,853.4 L1339.1,850.8 L1343.1,848.1 L1347.0,845.3 L1350.9,842.4 L1354.7,839.4 L1358.5,836.4 L1362.2,833.2 L1365.9,830.0 L1369.5,826.6 L1373.1,823.2 L1376.6,819.7 L1380.0,816.2 L1383.4,812.5 L1386.8,808.7 L1390.1,804.9 L1393.3,801.0 L1396.5,796.9 L1399.7,792.8 L1402.7,788.6" fill="none" stroke="#000" stroke-width="2.6"/>
<polygon points="1227.9,889.5 1241.4,881.4 1243.1,893.8" fill="#000"/>
<polygon points="1408.6,780.2 1405.3,795.7 1395.1,788.5" fill="#000"/>
<path d="M1300.9,932.3 L1305.0,929.8 L1309.0,927.4 L1313.0,924.9 L1316.9,922.3 L1320.8,919.6 L1324.6,917.0 L1328.3,914.2 L1332.0,911.4 L1335.6,908.6 L1339.1,905.7 L1342.6,902.7 L1346.0,899.7 L1349.3,896.7 L1352.6,893.6 L1355.8,890.4 L1358.9,887.2 L1362.0,883.9 L1365.0,880.6 L1367.9,877.2 L1370.8,873.8 L1373.6,870.3 L1376.4,866.7 L1379.0,863.1 L1381.6,859.5 L1384.2,855.8 L1386.7,852.0 L1389.1,848.2 L1391.4,844.3 L1393.7,840.4 L1396.0,836.5 L1398.1,832.4 L1400.2,828.4 L1402.2,824.2 L1404.2,820.0 L1406.1,815.8 L1407.9,811.5 L1409.7,807.1 L1411.4,802.7 L1413.0,798.3 L1414.6,793.8" fill="none" stroke="#000" stroke-width="2.6"/>
<polygon points="1291.9,937.2 1301.5,924.6 1307.6,935.5" fill="#000"/>
<polygon points="1417.7,784.1 1419.1,799.8 1407.2,795.9" fill="#000"/>
<path d="M1616.4,845.1 L1613.4,841.6 L1610.4,838.2 L1607.4,834.8 L1604.3,831.5 L1601.2,828.3 L1598.0,825.2 L1594.8,822.1 L1591.6,819.1 L1588.3,816.1 L1585.0,813.2 L1581.7,810.4 L1578.3,807.7 L1574.9,805.0 L1571.4,802.4 L1567.9,799.8 L1564.4,797.3 L1560.8,794.9 L1557.2,792.5 L1553.5,790.2 L1549.9,788.0 L1546.1,785.9 L1542.4,783.8 L1538.6,781.7 L1534.8,779.8 L1530.9,777.9 L1527.0,776.0 L1523.1,774.3 L1519.1,772.6 L1515.1,770.9 L1511.0,769.4 L1506.9,767.9 L1502.8,766.4 L1498.6,765.1 L1494.4,763.8 L1490.2,762.5 L1485.9,761.3 L1481.6,760.2 L1477.2,759.2 L1472.8,758.2 L1468.4,757.3" fill="none" stroke="#000" stroke-width="2.6"/>
<polygon points="1458.3,755.5 1473.7,752.0 1471.4,764.3" fill="#000"/>
<path d="M1657.6,917.2 L1651.3,915.6 L1645.1,914.0 L1638.9,912.3 L1632.8,910.5 L1626.7,908.6 L1620.7,906.6 L1614.8,904.6 L1608.9,902.4 L1603.1,900.2 L1597.3,897.9 L1591.6,895.4 L1585.9,892.9 L1580.3,890.3 L1574.8,887.7 L1569.3,884.9 L1563.9,882.0 L1558.5,879.1 L1553.2,876.1 L1547.9,872.9 L1542.7,869.7 L1537.6,866.4 L1532.5,863.0 L1527.5,859.6 L1522.5,856.0 L1517.6,852.4 L1512.8,848.6 L1508.0,844.8 L1503.2,840.9 L1498.5,836.9 L1493.9,832.8 L1489.3,828.6 L1484.8,824.3 L1480.4,820.0 L1476.0,815.5 L1471.6,811.0 L1467.4,806.4 L1463.1,801.7 L1459.0,796.9 L1454.9,792.0 L1450.8,787.0" fill="none" stroke="#000" stroke-width="2.6"/>
<polygon points="1444.5,778.9 1458.4,786.4 1448.6,794.2" fill="#000"/>
<path d="M1223.2,874.4 L1232.6,869.3 L1242.0,864.4 L1251.4,859.7 L1260.8,855.3 L1270.2,851.1 L1279.6,847.2 L1289.0,843.5 L1298.5,840.1 L1308.0,836.9 L1317.4,833.9 L1326.9,831.2 L1336.4,828.7 L1345.9,826.4 L1355.4,824.4 L1365.0,822.7 L1374.5,821.1 L1384.0,819.9 L1393.6,818.8 L1403.2,818.0 L1412.8,817.5 L1422.3,817.2 L1431.9,817.1 L1441.6,817.2 L1451.2,817.7 L1460.8,818.3 L1470.5,819.2 L1480.1,820.3 L1489.8,821.7 L1499.5,823.3 L1509.2,825.2 L1518.9,827.3 L1528.6,829.6 L1538.3,832.2 L1548.0,835.0 L1557.8,838.1 L1567.5,841.4 L1577.3,845.0 L1587.1,848.8 L1596.9,852.8 L1606.7,857.1" fill="none" stroke="#000" stroke-width="2.6"/>
<path d="M1290.9,967.3 L1300.2,972.0 L1309.4,976.3 L1318.6,980.3 L1327.7,984.0 L1336.7,987.4 L1345.6,990.5 L1354.5,993.2 L1363.4,995.6 L1372.1,997.8 L1380.8,999.6 L1389.4,1001.0 L1398.0,1002.2 L1406.5,1003.0 L1414.9,1003.6 L1423.2,1003.8 L1431.5,1003.7 L1439.7,1003.3 L1447.9,1002.5 L1455.9,1001.5 L1464.0,1000.1 L1471.9,998.4 L1479.8,996.4 L1487.6,994.0 L1495.3,991.4 L1503.0,988.4 L1510.6,985.2 L1518.1,981.6 L1525.6,977.6 L1533.0,973.4 L1540.4,968.9 L1547.6,964.0 L1554.8,958.8 L1562.0,953.3 L1569.0,947.5 L1576.0,941.4 L1583.0,934.9 L1589.8,928.1 L1596.6,921.1 L1603.3,913.7 L1610.0,905.9" fill="none" stroke="#000" stroke-width="2.6"/>
<polygon points="1616.5,898.0 1612.1,913.1 1602.5,905.2" fill="#000"/>
<path d="M1529.2,640.6 L1532.0,645.1 L1534.7,649.7 L1537.5,654.2 L1540.1,658.8 L1542.8,663.4 L1545.5,668.0 L1548.1,672.6 L1550.7,677.2 L1553.3,681.8 L1555.8,686.4 L1558.4,691.1 L1560.9,695.8 L1563.4,700.4 L1565.8,705.1 L1568.3,709.8 L1570.7,714.5 L1573.1,719.2 L1575.5,723.9 L1577.8,728.7 L1580.1,733.4 L1582.4,738.2 L1584.7,742.9 L1587.0,747.7 L1589.2,752.5 L1591.4,757.3 L1593.6,762.1 L1595.8,767.0 L1597.9,771.8 L1600.1,776.6 L1602.2,781.5 L1604.3,786.4 L1606.3,791.2 L1608.3,796.1 L1610.4,801.0 L1612.3,805.9 L1614.3,810.9 L1616.2,815.8 L1618.2,820.8 L1620.1,825.7 L1621.9,830.7" fill="none" stroke="#000" stroke-width="2.6"/>
<polygon points="1523.9,631.9 1536.8,640.9 1526.1,647.5" fill="#000"/>
<polygon points="1625.5,840.3 1614.6,828.9 1626.3,824.5" fill="#000"/>
<path d="M1533.8,622.0 L1540.6,626.8 L1547.2,631.6 L1553.7,636.6 L1560.0,641.6 L1566.1,646.7 L1572.2,651.9 L1578.0,657.2 L1583.7,662.6 L1589.3,668.1 L1594.7,673.6 L1600.0,679.3 L1605.1,685.0 L1610.1,690.8 L1614.9,696.7 L1619.6,702.7 L1624.1,708.7 L1628.5,714.9 L1632.7,721.1 L1636.7,727.5 L1640.7,733.9 L1644.4,740.4 L1648.1,747.0 L1651.5,753.7 L1654.8,760.4 L1658.0,767.3 L1661.0,774.2 L1663.9,781.2 L1666.6,788.3 L1669.2,795.5 L1671.6,802.8 L1673.9,810.2 L1676.0,817.6 L1678.0,825.2 L1679.8,832.8 L1681.4,840.5 L1683.0,848.3 L1684.3,856.2 L1685.6,864.1 L1686.6,872.2 L1687.5,880.3" fill="none" stroke="#000" stroke-width="2.6"/>
<polygon points="1688.5,890.5 1680.9,876.7 1693.3,875.5" fill="#000"/>
<path d="M1748.5,711.4 L1744.1,707.6 L1739.7,703.8 L1735.3,700.2 L1730.8,696.6 L1726.3,693.0 L1721.8,689.5 L1717.2,686.1 L1712.6,682.8 L1708.0,679.5 L1703.4,676.3 L1698.7,673.2 L1694.0,670.1 L1689.2,667.1 L1684.4,664.2 L1679.6,661.3 L1674.7,658.5 L1669.9,655.7 L1664.9,653.1 L1660.0,650.5 L1655.0,647.9 L1650.0,645.4 L1644.9,643.0 L1639.9,640.7 L1634.8,638.4 L1629.6,636.2 L1624.4,634.1 L1619.2,632.0 L1614.0,630.0 L1608.7,628.0 L1603.4,626.2 L1598.1,624.4 L1592.7,622.6 L1587.3,620.9 L1581.9,619.3 L1576.4,617.8 L1570.9,616.3 L1565.4,614.9 L1559.8,613.6 L1554.2,612.3 L1548.6,611.1" fill="none" stroke="#000" stroke-width="2.6"/>
<polygon points="1538.6,609.1 1554.0,605.8 1551.5,618.1" fill="#000"/>
<path d="M1747.7,646.2 L1745.4,650.9 L1743.1,655.5 L1740.7,660.2 L1738.4,664.9 L1736.1,669.5 L1733.8,674.2 L1731.5,678.8 L1729.2,683.5 L1726.9,688.2 L1724.6,692.8 L1722.3,697.5 L1720.0,702.2 L1717.7,706.8 L1715.4,711.5 L1713.1,716.1 L1710.8,720.8 L1708.5,725.5 L1706.2,730.1 L1703.9,734.8 L1701.5,739.5 L1699.2,744.1 L1696.9,748.8 L1694.6,753.4 L1692.3,758.1 L1690.0,762.8 L1687.7,767.4 L1685.4,772.1 L1683.1,776.7 L1680.8,781.4 L1678.5,786.1 L1676.2,790.7 L1673.9,795.4 L1671.6,800.1 L1669.3,804.7 L1667.0,809.4 L1664.7,814.0 L1662.4,818.7 L1660.0,823.4 L1657.7,828.0 L1655.4,832.7" fill="none" stroke="#000" stroke-width="2.6"/>
<polygon points="1752.2,637.1 1751.4,652.8 1740.2,647.3" fill="#000"/>
<polygon points="1650.9,841.8 1651.7,826.1 1662.9,831.6" fill="#000"/>
<path d="M1768.7,650.6 L1768.8,651.6 L1768.8,652.6 L1768.8,653.6 L1768.9,654.6 L1768.9,655.6 L1769.0,656.6 L1769.0,657.6 L1769.1,658.6 L1769.1,659.7 L1769.2,660.7 L1769.2,661.7 L1769.2,662.7 L1769.3,663.7 L1769.3,664.7 L1769.4,665.7 L1769.4,666.7 L1769.5,667.7 L1769.5,668.7 L1769.6,669.7 L1769.6,670.8 L1769.6,671.8 L1769.7,672.8 L1769.7,673.8 L1769.8,674.8 L1769.8,675.8 L1769.9,676.8 L1769.9,677.8 L1770.0,678.8 L1770.0,679.8 L1770.0,680.8 L1770.1,681.8 L1770.1,682.9 L1770.2,683.9 L1770.2,684.9 L1770.3,685.9 L1770.3,686.9 L1770.4,687.9 L1770.4,688.9 L1770.4,689.9 L1770.5,690.9" fill="none" stroke="#000" stroke-width="2.6"/>
<polygon points="1768.3,640.4 1775.1,654.6 1762.7,655.2" fill="#000"/>
<polygon points="1770.9,701.1 1764.1,686.9 1776.5,686.3" fill="#000"/>
<path d="M1791.4,643.0 L1792.8,645.5 L1794.1,648.1 L1795.4,650.7 L1796.7,653.3 L1797.9,655.9 L1799.1,658.5 L1800.2,661.1 L1801.3,663.7 L1802.4,666.4 L1803.4,669.0 L1804.3,671.6 L1805.3,674.3 L1806.1,677.0 L1807.0,679.6 L1807.8,682.3 L1808.5,685.0 L1809.2,687.7 L1809.9,690.4 L1810.5,693.2 L1811.0,695.9 L1811.6,698.6 L1812.1,701.4 L1812.5,704.1 L1812.9,706.9 L1813.2,709.7 L1813.5,712.4 L1813.8,715.2 L1814.0,718.0 L1814.2,720.8 L1814.3,723.6 L1814.4,726.5 L1814.5,729.3 L1814.5,732.1 L1814.4,735.0 L1814.4,737.9 L1814.2,740.7 L1814.1,743.6 L1813.9,746.5 L1813.6,749.4 L1813.3,752.3" fill="none" stroke="#000" stroke-width="2.6"/>
<polygon points="1786.2,634.2 1798.8,643.6 1788.0,649.8" fill="#000"/>
<polygon points="1811.9,762.4 1807.5,747.3 1819.9,748.8" fill="#000"/>
<path d="M1798.4,637.3 L1807.6,646.8 L1816.3,656.2 L1824.4,665.4 L1832.0,674.5 L1839.0,683.5 L1845.5,692.3 L1851.4,701.0 L1856.7,709.6 L1861.5,718.0 L1865.7,726.3 L1869.3,734.4 L1872.4,742.5 L1875.0,750.3 L1876.9,758.1 L1878.4,765.7 L1879.2,773.2 L1879.5,780.5 L1879.2,787.7 L1878.4,794.8 L1877.0,801.7 L1875.1,808.5 L1872.6,815.1 L1869.5,821.6 L1865.9,828.0 L1861.7,834.3 L1856.9,840.4 L1851.6,846.3 L1845.7,852.2 L1839.3,857.9 L1832.3,863.4 L1824.8,868.9 L1816.7,874.2 L1808.0,879.3 L1798.8,884.3 L1789.0,889.2 L1778.6,894.0 L1767.7,898.6 L1756.2,903.0 L1744.2,907.4 L1731.6,911.6" fill="none" stroke="#000" stroke-width="2.6"/>
<polygon points="1791.0,630.0 1805.7,635.8 1796.8,644.6" fill="#000"/>
<polygon points="1721.7,914.7 1733.6,904.3 1737.4,916.3" fill="#000"/>
<path d="M1742.0,764.6 L1740.2,766.5 L1738.3,768.4 L1736.4,770.3 L1734.5,772.3 L1732.6,774.2 L1730.7,776.1 L1728.9,778.0 L1727.0,779.9 L1725.1,781.8 L1723.2,783.7 L1721.3,785.6 L1719.4,787.5 L1717.5,789.4 L1715.7,791.3 L1713.8,793.2 L1711.9,795.1 L1710.0,797.0 L1708.1,798.9 L1706.2,800.8 L1704.3,802.7 L1702.5,804.6 L1700.6,806.5 L1698.7,808.4 L1696.8,810.3 L1694.9,812.2 L1693.0,814.1 L1691.2,816.0 L1689.3,817.9 L1687.4,819.8 L1685.5,821.7 L1683.6,823.6 L1681.7,825.5 L1679.8,827.4 L1678.0,829.3 L1676.1,831.2 L1674.2,833.1 L1672.3,835.1 L1670.4,837.0 L1668.5,838.9 L1666.7,840.8" fill="none" stroke="#000" stroke-width="2.6"/>
<polygon points="1749.2,757.4 1743.4,772.1 1734.6,763.3" fill="#000"/>
<polygon points="1659.5,848.0 1665.3,833.3 1674.1,842.1" fill="#000"/>
<path d="M1755.2,773.6 L1754.0,776.3 L1752.8,779.1 L1751.6,781.9 L1750.4,784.6 L1749.2,787.4 L1748.0,790.1 L1746.8,792.9 L1745.6,795.6 L1744.4,798.4 L1743.2,801.2 L1742.0,803.9 L1740.8,806.7 L1739.6,809.4 L1738.4,812.2 L1737.2,815.0 L1736.0,817.7 L1734.8,820.5 L1733.6,823.2 L1732.4,826.0 L1731.1,828.8 L1729.9,831.5 L1728.7,834.3 L1727.5,837.0 L1726.3,839.8 L1725.1,842.5 L1723.9,845.3 L1722.7,848.1 L1721.5,850.8 L1720.3,853.6 L1719.1,856.3 L1717.9,859.1 L1716.7,861.9 L1715.5,864.6 L1714.3,867.4 L1713.1,870.1 L1711.9,872.9 L1710.7,875.6 L1709.5,878.4 L1708.3,881.2 L1707.1,883.9" fill="none" stroke="#000" stroke-width="2.6"/>
<polygon points="1759.2,764.2 1759.2,780.0 1747.7,775.0" fill="#000"/>
<polygon points="1703.1,893.3 1703.1,877.5 1714.6,882.5" fill="#000"/>
<path d="M1775.7,826.8 L1774.3,828.4 L1772.8,830.0 L1771.4,831.6 L1770.0,833.2 L1768.5,834.8 L1767.1,836.4 L1765.7,838.1 L1764.2,839.7 L1762.8,841.3 L1761.4,842.9 L1760.0,844.5 L1758.5,846.1 L1757.1,847.7 L1755.7,849.3 L1754.2,850.9 L1752.8,852.6 L1751.4,854.2 L1750.0,855.8 L1748.5,857.4 L1747.1,859.0 L1745.7,860.6 L1744.2,862.2 L1742.8,863.8 L1741.4,865.4 L1740.0,867.1 L1738.5,868.7 L1737.1,870.3 L1735.7,871.9 L1734.2,873.5 L1732.8,875.1 L1731.4,876.7 L1730.0,878.3 L1728.5,879.9 L1727.1,881.6 L1725.7,883.2 L1724.2,884.8 L1722.8,886.4 L1721.4,888.0 L1719.9,889.6 L1718.5,891.2" fill="none" stroke="#000" stroke-width="2.6"/>
<polygon points="1782.4,819.1 1777.5,834.1 1768.2,825.8" fill="#000"/>
<polygon points="1711.8,898.9 1716.7,883.9 1726.0,892.2" fill="#000"/>
<path d="M1778.3,814.6 L1775.9,816.2 L1773.6,817.8 L1771.3,819.4 L1769.0,820.9 L1766.6,822.4 L1764.3,823.9 L1761.9,825.4 L1759.5,826.9 L1757.1,828.3 L1754.7,829.7 L1752.3,831.1 L1749.9,832.5 L1747.5,833.8 L1745.1,835.1 L1742.6,836.4 L1740.2,837.7 L1737.7,839.0 L1735.2,840.2 L1732.7,841.4 L1730.3,842.6 L1727.7,843.8 L1725.2,845.0 L1722.7,846.1 L1720.2,847.2 L1717.6,848.3 L1715.1,849.4 L1712.5,850.5 L1710.0,851.5 L1707.4,852.5 L1704.8,853.5 L1702.2,854.5 L1699.6,855.4 L1697.0,856.3 L1694.3,857.2 L1691.7,858.1 L1689.1,859.0 L1686.4,859.8 L1683.7,860.6 L1681.1,861.4 L1678.4,862.2" fill="none" stroke="#000" stroke-width="2.6"/>
<polygon points="1668.6,864.8 1680.9,855.0 1684.2,867.0" fill="#000"/>
<path d="M1796.2,826.4 L1795.9,828.8 L1795.7,831.2 L1795.5,833.5 L1795.4,835.8 L1795.3,838.0 L1795.3,840.1 L1795.4,842.2 L1795.6,844.3 L1795.8,846.3 L1796.0,848.3 L1796.3,850.2 L1796.7,852.0 L1797.2,853.8 L1797.7,855.6 L1798.3,857.3 L1798.9,859.0 L1799.6,860.6 L1800.4,862.2 L1801.2,863.7 L1802.1,865.1 L1803.1,866.5 L1804.1,867.9 L1805.1,869.2 L1806.3,870.5 L1807.5,871.7 L1808.7,872.9 L1810.1,874.0 L1811.5,875.0 L1812.9,876.0 L1814.4,877.0 L1816.0,877.9 L1817.6,878.8 L1819.3,879.6 L1821.1,880.4 L1822.9,881.1 L1824.8,881.7 L1826.8,882.4 L1828.8,882.9 L1830.8,883.4 L1833.0,883.9" fill="none" stroke="#000" stroke-width="2.6"/>
<polygon points="1843.3,885.4 1827.9,889.1 1830.0,876.8" fill="#000"/>
<circle cx="1244" cy="610.5" r="31.6" fill="#fff" stroke="#000" stroke-width="2.6"/>
<text x="1227.3" y="623.1" font-size="31" font-weight="bold" fill="#000">γ2</text>
<circle cx="1183.4" cy="672.1" r="31.6" fill="#fff" stroke="#000" stroke-width="2.6"/>
<text x="1166.5" y="684.7" font-size="31" font-weight="bold" fill="#000">γ1</text>
<circle cx="1506" cy="604.2" r="31.6" fill="#fff" stroke="#000" stroke-width="2.6"/>
<text x="1487.8" y="616.8" font-size="31" font-weight="bold" fill="#000">δ1</text>
<circle cx="1766.8" cy="607.5" r="31.6" fill="#fff" stroke="#000" stroke-width="2.6"/>
<text x="1748.6" y="620.1" font-size="31" font-weight="bold" fill="#000">δ1</text>
<circle cx="1425.5" cy="752" r="31.6" fill="#fff" stroke="#000" stroke-width="2.6"/>
<text x="1407.3" y="764.6" font-size="31" font-weight="bold" fill="#000">δ1</text>
<circle cx="1772.4" cy="734" r="31.6" fill="#fff" stroke="#000" stroke-width="2.6"/>
<text x="1755.5" y="746.6" font-size="31" font-weight="bold" fill="#000">γ1</text>
<circle cx="1804.3" cy="794.5" r="31.6" fill="#fff" stroke="#000" stroke-width="2.6"/>
<text x="1787.6" y="807.1" font-size="31" font-weight="bold" fill="#000">γ2</text>
<circle cx="1636.3" cy="871.4" r="31.6" fill="#fff" stroke="#000" stroke-width="2.6"/>
<text x="1619.6" y="884.0" font-size="31" font-weight="bold" fill="#000">γ2</text>
<circle cx="1689.9" cy="923.5" r="31.6" fill="#fff" stroke="#000" stroke-width="2.6"/>
<text x="1673.0" y="936.1" font-size="31" font-weight="bold" fill="#000">γ1</text>
<circle cx="1876.2" cy="884.5" r="31.6" fill="#fff" stroke="#000" stroke-width="2.6"/>
<text x="1858.0" y="897.1" font-size="31" font-weight="bold" fill="#000">δ1</text>
<circle cx="1195" cy="891.4" r="31.6" fill="#fff" stroke="#000" stroke-width="2.6"/>
<text x="1178.3" y="904.0" font-size="31" font-weight="bold" fill="#000">γ2</text>
<circle cx="1262" cy="951.1" r="31.6" fill="#fff" stroke="#000" stroke-width="2.6"/>
<text x="1245.1" y="963.7" font-size="31" font-weight="bold" fill="#000">γ1</text>
<circle cx="1476.5" cy="915.5" r="32.9" fill="#eb5fa3"/>
<text x="1468.8" y="928.1" font-size="31" font-weight="bold" fill="#000">ε</text>
<text x="1101.6" y="621.4" font-size="32" font-weight="bold" fill="#000" textLength="75.4" lengthAdjust="spacingAndGlyphs">V278</text>
<text x="1473.3" y="556.8" font-size="32" font-weight="bold" fill="#000" textLength="64.6" lengthAdjust="spacingAndGlyphs">I309</text>
<text x="1735.0" y="559.4" font-size="32" font-weight="bold" fill="#000" textLength="64.3" lengthAdjust="spacingAndGlyphs">I307</text>
<text x="1406.6" y="711.6" font-size="32" font-weight="bold" fill="#000" textLength="63.9" lengthAdjust="spacingAndGlyphs">I267</text>
<text x="1844.9" y="763.7" font-size="32" font-weight="bold" fill="#000" textLength="76.1" lengthAdjust="spacingAndGlyphs">V262</text>
<text x="1097.5" y="953.1" font-size="32" font-weight="bold" fill="#000" textLength="73.4" lengthAdjust="spacingAndGlyphs">V285</text>
<text x="1433.4" y="983.3" font-size="32" font-weight="bold" fill="#000" textLength="86.7" lengthAdjust="spacingAndGlyphs">M263</text>
<text x="1731.1" y="955.0" font-size="32" font-weight="bold" fill="#000" textLength="74.7" lengthAdjust="spacingAndGlyphs">V292</text>
<text x="1843.9" y="955.0" font-size="32" font-weight="bold" fill="#000" textLength="64.5" lengthAdjust="spacingAndGlyphs">I368</text>
<g><polygon points="1215.9,1132.5 1216.9,1134.3 1218.2,1136.7 1219.8,1139.6 1221.5,1142.8 1223.4,1146.4 1225.5,1150.0 1227.5,1153.8 1229.7,1157.5 1231.7,1161.0 1233.8,1164.3 1235.7,1167.4 1237.7,1170.4 1239.6,1173.4 1241.6,1176.4 1243.6,1179.3 1245.7,1182.2 1247.8,1185.1 1249.9,1188.1 1252.1,1191.0 1254.4,1194.0 1256.9,1197.2 1259.7,1200.7 1262.6,1204.2 1265.6,1207.8 1268.5,1211.3 1271.4,1214.6 1274.0,1217.7 1276.4,1220.5 1278.3,1222.8 1279.8,1224.6 1293.6,1212.9 1292.1,1211.1 1290.1,1208.8 1287.7,1206.0 1285.1,1202.9 1282.3,1199.6 1279.4,1196.2 1276.5,1192.7 1273.6,1189.3 1271.0,1186.1 1268.7,1183.0 1266.5,1180.2 1264.4,1177.4 1262.3,1174.6 1260.3,1171.8 1258.4,1169.0 1256.5,1166.2 1254.6,1163.4 1252.7,1160.6 1250.9,1157.7 1249.1,1154.8 1247.2,1151.8 1245.2,1148.4 1243.2,1144.9 1241.2,1141.3 1239.2,1137.7 1237.4,1134.3 1235.6,1131.1 1234.1,1128.2 1232.7,1125.7 1231.7,1123.8" fill="#5f5f5f" stroke="#5a5a5a" stroke-width="1.0" stroke-linejoin="round"/>
<polygon points="1126.3,1085.1 1128.6,1086.3 1131.7,1087.8 1135.3,1089.6 1139.3,1091.6 1143.6,1093.7 1148.1,1095.9 1152.5,1098.1 1156.7,1100.2 1160.6,1102.2 1164.0,1104.0 1167.0,1105.5 1169.7,1107.0 1172.3,1108.4 1174.7,1109.8 1177.0,1111.1 1179.3,1112.5 1181.7,1113.8 1184.1,1115.1 1186.6,1116.4 1189.2,1117.8 1192.1,1119.3 1195.3,1120.9 1198.6,1122.5 1202.0,1124.1 1205.4,1125.7 1208.6,1127.2 1211.6,1128.6 1214.3,1129.9 1216.6,1130.9 1218.3,1131.7 1221.7,1124.5 1220.0,1123.7 1217.7,1122.6 1215.0,1121.4 1212.0,1120.0 1208.8,1118.4 1205.5,1116.9 1202.1,1115.3 1198.8,1113.7 1195.7,1112.1 1192.9,1110.7 1190.3,1109.4 1187.9,1108.1 1185.6,1106.8 1183.3,1105.5 1181.0,1104.2 1178.7,1102.8 1176.2,1101.5 1173.6,1100.0 1170.8,1098.5 1167.7,1096.9 1164.3,1095.1 1160.3,1093.1 1156.1,1091.0 1151.7,1088.7 1147.2,1086.5 1142.9,1084.4 1138.8,1082.4 1135.2,1080.6 1132.2,1079.1 1129.9,1078.0" fill="#7a7a7a" stroke="#5a5a5a" stroke-width="1.0" stroke-linejoin="round"/>
<polygon points="1101.0,1116.2 1102.7,1117.1 1104.9,1118.3 1107.5,1119.5 1110.2,1120.9 1113.2,1122.5 1116.2,1124.1 1119.2,1125.7 1122.2,1127.4 1124.9,1129.0 1127.4,1130.6 1129.9,1132.2 1132.4,1134.1 1135.0,1136.0 1137.7,1138.1 1140.5,1140.3 1143.2,1142.5 1146.0,1144.8 1148.7,1147.0 1145.7,1151.3 1186.0,1157.1 1170.6,1119.3 1167.6,1123.6 1164.9,1121.4 1162.1,1119.2 1159.2,1116.9 1156.2,1114.5 1153.2,1112.2 1150.2,1109.9 1147.1,1107.7 1143.9,1105.5 1140.6,1103.4 1137.2,1101.4 1133.8,1099.5 1130.3,1097.6 1127.0,1095.9 1123.9,1094.2 1121.0,1092.8 1118.5,1091.5 1116.5,1090.5 1115.0,1089.7" fill="url(#gS2)" stroke="#5a5a5a" stroke-width="1.0" stroke-linejoin="round"/>
<polygon points="1130.4,1080.1 1132.3,1080.8 1134.8,1081.6 1137.6,1082.6 1140.7,1083.6 1144.1,1084.7 1147.7,1085.9 1151.3,1087.2 1154.9,1088.5 1158.5,1089.9 1161.9,1091.2 1165.3,1092.7 1168.9,1094.3 1172.6,1096.0 1176.5,1097.7 1180.3,1099.5 1184.2,1101.4 1188.0,1103.2 1191.8,1105.1 1195.5,1106.9 1199.0,1108.6 1202.3,1110.2 1205.4,1111.8 1208.4,1113.3 1211.3,1114.9 1214.2,1116.4 1217.2,1118.0 1220.2,1119.6 1223.4,1121.2 1226.7,1123.0 1230.3,1124.9 1234.2,1126.9 1238.6,1129.2 1243.3,1131.6 1248.2,1134.1 1245.3,1139.7 1276.7,1136.9 1260.7,1109.8 1257.8,1115.4 1253.0,1112.9 1248.3,1110.5 1243.9,1108.2 1239.9,1106.2 1236.5,1104.4 1233.2,1102.7 1230.1,1101.0 1227.0,1099.4 1224.1,1097.8 1221.1,1096.3 1218.1,1094.7 1215.0,1093.1 1211.7,1091.4 1208.3,1089.7 1204.7,1088.0 1201.0,1086.2 1197.2,1084.3 1193.3,1082.4 1189.3,1080.5 1185.3,1078.7 1181.3,1076.9 1177.4,1075.1 1173.6,1073.4 1169.9,1071.8 1166.1,1070.3 1162.2,1068.8 1158.4,1067.4 1154.5,1066.1 1150.8,1064.8 1147.4,1063.7 1144.2,1062.6 1141.4,1061.7 1139.0,1060.9 1137.2,1060.3" fill="url(#gS)" stroke="#5a5a5a" stroke-width="1.0" stroke-linejoin="round"/>
<polygon points="1166.2,1183.9 1168.3,1184.6 1171.0,1185.4 1174.0,1186.4 1177.4,1187.4 1180.9,1188.6 1184.6,1189.8 1188.2,1191.0 1191.6,1192.3 1194.7,1193.5 1197.5,1194.7 1200.1,1195.9 1202.7,1197.2 1205.2,1198.6 1207.8,1200.0 1210.3,1201.4 1212.7,1202.9 1215.2,1204.5 1217.7,1206.1 1220.1,1207.8 1222.5,1209.5 1217.7,1213.4 1256.5,1218.8 1244.9,1181.4 1240.1,1185.2 1237.2,1183.2 1234.4,1181.2 1231.5,1179.3 1228.6,1177.5 1225.7,1175.7 1222.6,1173.9 1219.6,1172.2 1216.4,1170.5 1213.2,1168.9 1209.8,1167.3 1206.1,1165.7 1202.2,1164.2 1198.2,1162.7 1194.1,1161.3 1190.2,1160.0 1186.4,1158.8 1183.0,1157.7 1179.9,1156.8 1177.5,1156.0 1175.6,1155.4" fill="url(#gS)" stroke="#5a5a5a" stroke-width="1.0" stroke-linejoin="round"/>
<path d="M1133.2,1069.6 C1129.4,1069.2 1117.0,1066.5 1110.5,1067.1 C1104.0,1067.6 1099.0,1070.1 1094.1,1072.7 C1089.3,1075.4 1084.9,1078.8 1081.5,1082.8 C1078.2,1086.8 1075.5,1092.0 1074.0,1096.6 C1072.5,1101.3 1071.9,1105.7 1072.7,1110.5 C1073.6,1115.3 1076.9,1121.4 1079.0,1125.6 C1081.1,1129.8 1081.8,1133.4 1085.3,1135.7 C1088.9,1138.0 1095.0,1138.0 1100.4,1139.4 C1105.9,1140.9 1111.3,1142.4 1118.0,1144.5 C1124.8,1146.6 1133.8,1149.5 1140.7,1152.0 C1147.6,1154.6 1154.8,1157.3 1159.6,1159.6 C1164.4,1161.9 1168.0,1164.8 1169.7,1165.9" fill="none" stroke="#6d6d6d" stroke-width="6.3999999999999995" stroke-linecap="round" stroke-linejoin="round"/>
<path d="M1133.2,1069.6 C1129.4,1069.2 1117.0,1066.5 1110.5,1067.1 C1104.0,1067.6 1099.0,1070.1 1094.1,1072.7 C1089.3,1075.4 1084.9,1078.8 1081.5,1082.8 C1078.2,1086.8 1075.5,1092.0 1074.0,1096.6 C1072.5,1101.3 1071.9,1105.7 1072.7,1110.5 C1073.6,1115.3 1076.9,1121.4 1079.0,1125.6 C1081.1,1129.8 1081.8,1133.4 1085.3,1135.7 C1088.9,1138.0 1095.0,1138.0 1100.4,1139.4 C1105.9,1140.9 1111.3,1142.4 1118.0,1144.5 C1124.8,1146.6 1133.8,1149.5 1140.7,1152.0 C1147.6,1154.6 1154.8,1157.3 1159.6,1159.6 C1164.4,1161.9 1168.0,1164.8 1169.7,1165.9" fill="none" stroke="#c4c4c4" stroke-width="4.6" stroke-linecap="round" stroke-linejoin="round"/>
<path d="M1133.2,1069.6 C1129.4,1069.2 1117.0,1066.5 1110.5,1067.1 C1104.0,1067.6 1099.0,1070.1 1094.1,1072.7 C1089.3,1075.4 1084.9,1078.8 1081.5,1082.8 C1078.2,1086.8 1075.5,1092.0 1074.0,1096.6 C1072.5,1101.3 1071.9,1105.7 1072.7,1110.5 C1073.6,1115.3 1076.9,1121.4 1079.0,1125.6 C1081.1,1129.8 1081.8,1133.4 1085.3,1135.7 C1088.9,1138.0 1095.0,1138.0 1100.4,1139.4 C1105.9,1140.9 1111.3,1142.4 1118.0,1144.5 C1124.8,1146.6 1133.8,1149.5 1140.7,1152.0 C1147.6,1154.6 1154.8,1157.3 1159.6,1159.6 C1164.4,1161.9 1168.0,1164.8 1169.7,1165.9" fill="none" stroke="#e6e6e6" stroke-width="1.4" stroke-linecap="round" transform="translate(-0.6,-0.6)"/>
<path d="M1102.9,1100.4 C1101.3,1098.3 1096.4,1091.0 1092.9,1087.8 C1089.3,1084.7 1085.5,1082.8 1081.5,1081.5 C1077.6,1080.3 1071.8,1082.0 1069.0,1080.3 C1066.1,1078.6 1064.7,1074.3 1064.5,1071.5 C1064.4,1068.6 1066.7,1064.1 1068.3,1063.3 C1069.9,1062.4 1071.8,1064.2 1074.0,1066.4 C1076.2,1068.6 1078.8,1073.8 1081.5,1076.5 C1084.3,1079.2 1088.9,1081.8 1090.4,1082.8" fill="none" stroke="#6d6d6d" stroke-width="6.3999999999999995" stroke-linecap="round" stroke-linejoin="round"/>
<path d="M1102.9,1100.4 C1101.3,1098.3 1096.4,1091.0 1092.9,1087.8 C1089.3,1084.7 1085.5,1082.8 1081.5,1081.5 C1077.6,1080.3 1071.8,1082.0 1069.0,1080.3 C1066.1,1078.6 1064.7,1074.3 1064.5,1071.5 C1064.4,1068.6 1066.7,1064.1 1068.3,1063.3 C1069.9,1062.4 1071.8,1064.2 1074.0,1066.4 C1076.2,1068.6 1078.8,1073.8 1081.5,1076.5 C1084.3,1079.2 1088.9,1081.8 1090.4,1082.8" fill="none" stroke="#c4c4c4" stroke-width="4.6" stroke-linecap="round" stroke-linejoin="round"/>
<path d="M1102.9,1100.4 C1101.3,1098.3 1096.4,1091.0 1092.9,1087.8 C1089.3,1084.7 1085.5,1082.8 1081.5,1081.5 C1077.6,1080.3 1071.8,1082.0 1069.0,1080.3 C1066.1,1078.6 1064.7,1074.3 1064.5,1071.5 C1064.4,1068.6 1066.7,1064.1 1068.3,1063.3 C1069.9,1062.4 1071.8,1064.2 1074.0,1066.4 C1076.2,1068.6 1078.8,1073.8 1081.5,1076.5 C1084.3,1079.2 1088.9,1081.8 1090.4,1082.8" fill="none" stroke="#e6e6e6" stroke-width="1.4" stroke-linecap="round" transform="translate(-0.6,-0.6)"/>
<path d="M1115.5,1069.0 C1118.7,1069.9 1128.1,1072.3 1134.4,1074.6 C1140.7,1076.9 1147.0,1080.2 1153.3,1082.8 C1159.6,1085.4 1165.9,1087.4 1172.2,1090.4 C1178.5,1093.3 1185.2,1097.1 1191.1,1100.4 C1196.9,1103.8 1202.6,1106.3 1207.4,1110.5 C1212.2,1114.7 1217.9,1123.1 1220.0,1125.6" fill="none" stroke="#6d6d6d" stroke-width="6.3999999999999995" stroke-linecap="round" stroke-linejoin="round"/>
<path d="M1115.5,1069.0 C1118.7,1069.9 1128.1,1072.3 1134.4,1074.6 C1140.7,1076.9 1147.0,1080.2 1153.3,1082.8 C1159.6,1085.4 1165.9,1087.4 1172.2,1090.4 C1178.5,1093.3 1185.2,1097.1 1191.1,1100.4 C1196.9,1103.8 1202.6,1106.3 1207.4,1110.5 C1212.2,1114.7 1217.9,1123.1 1220.0,1125.6" fill="none" stroke="#c4c4c4" stroke-width="4.6" stroke-linecap="round" stroke-linejoin="round"/>
<path d="M1115.5,1069.0 C1118.7,1069.9 1128.1,1072.3 1134.4,1074.6 C1140.7,1076.9 1147.0,1080.2 1153.3,1082.8 C1159.6,1085.4 1165.9,1087.4 1172.2,1090.4 C1178.5,1093.3 1185.2,1097.1 1191.1,1100.4 C1196.9,1103.8 1202.6,1106.3 1207.4,1110.5 C1212.2,1114.7 1217.9,1123.1 1220.0,1125.6" fill="none" stroke="#e6e6e6" stroke-width="1.4" stroke-linecap="round" transform="translate(-0.6,-0.6)"/>
<polygon points="1365.4,1221.0 1363.9,1220.9 1362.3,1220.3 1360.7,1219.1 1359.0,1217.4 1357.3,1215.2 1355.6,1212.5 1354.0,1209.4 1352.6,1206.0 1351.3,1202.2 1350.2,1198.2 1349.3,1194.0 1348.6,1189.7 1348.2,1185.3 1348.0,1181.0 1348.2,1176.8 1348.6,1172.7 1349.3,1169.0 1350.3,1165.5 1351.6,1162.4 1353.1,1159.7 1354.9,1157.4 1356.9,1155.7 1359.1,1154.5 1361.5,1153.8 1348.9,1157.2 1346.5,1157.9 1344.3,1159.1 1342.3,1160.8 1340.6,1163.1 1339.0,1165.8 1337.8,1168.9 1336.8,1172.4 1336.0,1176.2 1335.6,1180.2 1335.5,1184.4 1335.6,1188.7 1336.0,1193.1 1336.7,1197.4 1337.6,1201.6 1338.7,1205.6 1340.0,1209.4 1341.5,1212.8 1343.1,1215.9 1344.7,1218.6 1346.4,1220.8 1348.1,1222.5 1349.8,1223.7 1351.4,1224.3 1352.9,1224.4" fill="#4a4a4a" stroke="#4f4f4f" stroke-width="0.8" stroke-linejoin="round"/>
<polygon points="1388.6,1214.7 1387.1,1214.4 1385.5,1213.7 1383.8,1212.4 1382.1,1210.6 1380.4,1208.2 1378.7,1205.5 1377.2,1202.3 1375.8,1198.8 1374.5,1194.9 1373.4,1190.9 1372.6,1186.6 1372.0,1182.3 1371.6,1178.0 1371.5,1173.7 1371.7,1169.5 1372.2,1165.5 1373.0,1161.8 1374.1,1158.4 1375.4,1155.3 1377.0,1152.7 1378.8,1150.6 1380.9,1149.0 1383.1,1147.9 1385.5,1147.3 1373.0,1150.7 1370.6,1151.3 1368.3,1152.4 1366.3,1154.0 1364.4,1156.2 1362.8,1158.8 1361.5,1161.8 1360.4,1165.2 1359.7,1168.9 1359.2,1172.9 1359.0,1177.1 1359.1,1181.4 1359.4,1185.7 1360.0,1190.0 1360.9,1194.3 1362.0,1198.3 1363.2,1202.2 1364.6,1205.7 1366.2,1208.9 1367.8,1211.7 1369.5,1214.0 1371.2,1215.8 1372.9,1217.1 1374.5,1217.9 1376.1,1218.1" fill="#4a4a4a" stroke="#4f4f4f" stroke-width="0.8" stroke-linejoin="round"/>
<polygon points="1411.8,1208.3 1410.2,1207.9 1408.6,1207.1 1406.9,1205.6 1405.2,1203.7 1403.5,1201.3 1401.9,1198.4 1400.4,1195.2 1399.0,1191.6 1397.8,1187.7 1396.7,1183.6 1395.9,1179.3 1395.4,1175.0 1395.1,1170.6 1395.0,1166.3 1395.3,1162.2 1395.9,1158.3 1396.7,1154.6 1397.8,1151.3 1399.2,1148.4 1400.9,1145.9 1402.8,1143.8 1404.8,1142.3 1407.1,1141.3 1409.6,1140.9 1397.0,1144.3 1394.6,1144.7 1392.3,1145.7 1390.2,1147.2 1388.3,1149.3 1386.7,1151.8 1385.3,1154.7 1384.2,1158.0 1383.3,1161.7 1382.8,1165.6 1382.5,1169.8 1382.5,1174.0 1382.8,1178.4 1383.4,1182.7 1384.2,1187.0 1385.2,1191.1 1386.4,1195.0 1387.8,1198.6 1389.3,1201.8 1391.0,1204.7 1392.6,1207.1 1394.3,1209.1 1396.0,1210.5 1397.7,1211.4 1399.2,1211.7" fill="#4a4a4a" stroke="#4f4f4f" stroke-width="0.8" stroke-linejoin="round"/>
<polygon points="1436.4,1201.8 1434.9,1201.9 1433.4,1201.4 1431.7,1200.4 1430.0,1198.9 1428.3,1196.8 1426.6,1194.3 1425.0,1191.4 1423.5,1188.0 1422.2,1184.3 1421.0,1180.4 1420.0,1176.3 1419.3,1172.0 1418.8,1167.6 1418.5,1163.3 1418.6,1159.0 1418.9,1154.9 1419.5,1151.1 1420.4,1147.5 1421.6,1144.2 1409.1,1147.6 1407.9,1150.9 1407.0,1154.5 1406.4,1158.3 1406.0,1162.4 1406.0,1166.7 1406.2,1171.0 1406.7,1175.4 1407.5,1179.7 1408.5,1183.8 1409.6,1187.7 1411.0,1191.4 1412.5,1194.8 1414.1,1197.7 1415.8,1200.2 1417.5,1202.3 1419.2,1203.8 1420.8,1204.8 1422.4,1205.3 1423.9,1205.2" fill="#4a4a4a" stroke="#4f4f4f" stroke-width="0.8" stroke-linejoin="round"/>
<polygon points="1368.8,1196.0 1369.7,1200.0 1370.2,1203.8 1370.5,1207.3 1370.6,1210.6 1370.3,1213.5 1369.8,1216.0 1369.0,1218.0 1368.0,1219.5 1366.8,1220.5 1365.4,1221.0 1352.9,1224.4 1354.3,1223.9 1355.5,1222.9 1356.5,1221.4 1357.2,1219.4 1357.8,1216.9 1358.0,1214.0 1358.0,1210.8 1357.7,1207.2 1357.1,1203.4 1356.2,1199.5" fill="#5e5e5e" stroke="#5a5a5a" stroke-width="0.9" stroke-linejoin="round"/>
<polygon points="1361.5,1153.8 1364.0,1153.7 1366.6,1154.1 1369.2,1155.1 1371.9,1156.6 1374.6,1158.6 1377.2,1161.0 1379.8,1163.9 1382.2,1167.1 1384.5,1170.7 1386.5,1174.4 1388.4,1178.4 1390.0,1182.4 1391.4,1186.5 1392.5,1190.6 1393.3,1194.5 1393.8,1198.2 1394.1,1201.7 1394.0,1204.9 1393.7,1207.7 1393.1,1210.1 1392.3,1212.0 1391.3,1213.4 1390.0,1214.3 1388.6,1214.7 1376.1,1218.1 1377.5,1217.7 1378.7,1216.8 1379.8,1215.4 1380.6,1213.5 1381.2,1211.1 1381.5,1208.3 1381.5,1205.1 1381.3,1201.6 1380.8,1197.9 1379.9,1194.0 1378.8,1189.9 1377.5,1185.8 1375.8,1181.8 1374.0,1177.8 1371.9,1174.1 1369.6,1170.5 1367.2,1167.3 1364.7,1164.4 1362.1,1162.0 1359.4,1160.0 1356.7,1158.5 1354.0,1157.5 1351.4,1157.1 1348.9,1157.2" fill="#5e5e5e" stroke="#5a5a5a" stroke-width="0.9" stroke-linejoin="round"/>
<polygon points="1385.5,1147.3 1388.0,1147.3 1390.7,1147.9 1393.3,1149.0 1396.0,1150.6 1398.7,1152.7 1401.3,1155.3 1403.8,1158.2 1406.2,1161.5 1408.4,1165.1 1410.5,1168.9 1412.3,1172.9 1413.8,1177.0 1415.2,1181.0 1416.2,1185.1 1416.9,1189.0 1417.4,1192.6 1417.6,1196.1 1417.5,1199.2 1417.1,1201.9 1416.5,1204.2 1415.6,1206.0 1414.5,1207.3 1413.2,1208.1 1411.8,1208.3 1399.2,1211.7 1400.7,1211.5 1402.0,1210.7 1403.0,1209.4 1403.9,1207.6 1404.6,1205.3 1404.9,1202.6 1405.0,1199.5 1404.9,1196.1 1404.4,1192.4 1403.6,1188.5 1402.6,1184.5 1401.3,1180.4 1399.7,1176.3 1397.9,1172.3 1395.9,1168.5 1393.7,1164.9 1391.3,1161.6 1388.8,1158.7 1386.1,1156.1 1383.5,1154.0 1380.8,1152.4 1378.1,1151.3 1375.5,1150.7 1373.0,1150.7" fill="#5e5e5e" stroke="#5a5a5a" stroke-width="0.9" stroke-linejoin="round"/>
<polygon points="1409.6,1140.9 1412.1,1141.0 1414.7,1141.7 1417.4,1142.9 1420.1,1144.6 1422.8,1146.9 1425.4,1149.5 1427.9,1152.5 1430.2,1155.9 1432.4,1159.6 1434.4,1163.4 1436.1,1167.4 1437.7,1171.5 1438.9,1175.6 1439.9,1179.6 1440.6,1183.4 1441.0,1187.1 1441.1,1190.4 1440.9,1193.4 1440.5,1196.1 1439.8,1198.2 1438.9,1199.9 1437.7,1201.1 1436.4,1201.8 1423.9,1205.2 1425.2,1204.5 1426.3,1203.3 1427.2,1201.6 1427.9,1199.5 1428.4,1196.8 1428.5,1193.8 1428.4,1190.5 1428.0,1186.8 1427.3,1183.0 1426.4,1179.0 1425.1,1174.9 1423.6,1170.8 1421.8,1166.8 1419.9,1163.0 1417.7,1159.3 1415.3,1155.9 1412.8,1152.9 1410.2,1150.3 1407.6,1148.1 1404.9,1146.3 1402.2,1145.1 1399.6,1144.4 1397.0,1144.3" fill="#5e5e5e" stroke="#5a5a5a" stroke-width="0.9" stroke-linejoin="round"/>
<polygon points="1448.5,1204.5 1445.8,1204.8 1442.7,1204.3 1439.4,1203.2 1436.0,1201.3 1432.5,1198.8 1429.0,1195.6 1425.7,1191.7 1422.4,1187.3 1419.4,1182.5 1416.7,1177.2 1414.3,1171.6 1412.4,1165.7 1410.9,1159.7 1409.9,1153.7 1409.5,1147.6 1409.6,1141.8 1410.3,1136.1 1411.5,1130.8 1413.4,1125.9 1415.7,1121.5 1418.7,1117.6 1422.0,1114.3 1425.9,1111.7 1412.0,1119.7 1408.2,1122.3 1404.8,1125.6 1401.9,1129.5 1399.5,1133.9 1397.7,1138.8 1396.4,1144.1 1395.7,1149.8 1395.6,1155.6 1396.1,1161.7 1397.0,1167.7 1398.5,1173.7 1400.5,1179.6 1402.8,1185.2 1405.5,1190.5 1408.6,1195.3 1411.8,1199.7 1415.2,1203.6 1418.7,1206.8 1422.2,1209.3 1425.6,1211.2 1428.8,1212.4 1431.9,1212.8 1434.7,1212.5" fill="#4e4e4e" stroke="#4f4f4f" stroke-width="0.8" stroke-linejoin="round"/>
<polygon points="1492.1,1179.6 1489.5,1180.5 1486.7,1180.5 1483.5,1179.9 1480.2,1178.5 1476.8,1176.5 1473.3,1173.7 1469.8,1170.3 1466.5,1166.3 1463.3,1161.7 1449.4,1169.7 1452.6,1174.3 1456.0,1178.3 1459.4,1181.7 1462.9,1184.5 1466.4,1186.5 1469.7,1187.9 1472.8,1188.6 1475.7,1188.5 1478.2,1187.7" fill="#4e4e4e" stroke="#4f4f4f" stroke-width="0.8" stroke-linejoin="round"/>
<polygon points="1456.2,1188.9 1456.2,1192.9 1455.6,1196.4 1454.5,1199.3 1453.0,1201.7 1451.0,1203.4 1448.5,1204.5 1434.7,1212.5 1437.1,1211.4 1439.1,1209.7 1440.7,1207.4 1441.8,1204.4 1442.3,1200.9 1442.3,1196.9" fill="#666666" stroke="#5a5a5a" stroke-width="0.9" stroke-linejoin="round"/>
<polygon points="1425.9,1111.7 1430.1,1109.7 1434.7,1108.5 1439.6,1108.0 1444.6,1108.3 1449.8,1109.2 1455.0,1110.9 1460.3,1113.2 1465.4,1116.1 1470.4,1119.5 1475.1,1123.5 1479.5,1127.8 1483.5,1132.4 1487.2,1137.3 1490.3,1142.3 1493.0,1147.4 1495.1,1152.3 1496.7,1157.2 1497.6,1161.8 1498.0,1166.0 1497.9,1169.8 1497.2,1173.2 1495.9,1176.0 1494.2,1178.1 1492.1,1179.6 1478.2,1187.7 1480.4,1186.1 1482.1,1184.0 1483.3,1181.2 1484.0,1177.9 1484.2,1174.0 1483.8,1169.8 1482.8,1165.2 1481.3,1160.4 1479.1,1155.4 1476.5,1150.3 1473.3,1145.3 1469.7,1140.5 1465.6,1135.8 1461.2,1131.5 1456.5,1127.5 1451.5,1124.1 1446.4,1121.2 1441.2,1118.9 1435.9,1117.2 1430.8,1116.3 1425.7,1116.0 1420.9,1116.5 1416.3,1117.7 1412.0,1119.7" fill="#666666" stroke="#5a5a5a" stroke-width="0.9" stroke-linejoin="round"/>
<polygon points="1431.7,1104.7 1433.5,1104.1 1435.8,1103.3 1438.2,1102.4 1440.8,1101.5 1443.5,1100.5 1446.3,1099.7 1448.9,1098.9 1451.4,1098.4 1453.5,1098.0 1455.2,1097.9 1457.0,1098.0 1459.2,1098.2 1461.5,1098.5 1463.8,1099.0 1466.2,1099.6 1468.4,1100.2 1470.6,1101.0 1472.6,1101.8 1474.3,1102.7 1475.8,1103.5 1477.1,1104.4 1478.4,1105.4 1479.5,1106.4 1480.6,1107.6 1481.7,1108.9 1482.7,1110.2 1483.6,1111.6 1484.4,1113.1 1485.2,1114.7 1485.8,1116.1 1486.2,1117.4 1486.6,1119.2 1486.9,1121.4 1487.1,1123.9 1487.2,1126.6 1487.3,1129.3 1487.4,1131.9 1487.4,1134.3 1487.4,1136.5 1487.5,1138.3 1509.5,1137.0 1509.4,1135.7 1509.4,1133.9 1509.4,1131.5 1509.3,1128.7 1509.2,1125.6 1509.0,1122.4 1508.7,1118.9 1508.2,1115.5 1507.5,1111.9 1506.4,1108.5 1505.2,1105.6 1503.9,1102.9 1502.5,1100.3 1500.8,1097.8 1499.0,1095.3 1497.1,1093.0 1494.9,1090.7 1492.6,1088.6 1490.1,1086.6 1487.4,1084.8 1484.5,1083.2 1481.5,1081.8 1478.5,1080.5 1475.3,1079.3 1472.0,1078.3 1468.6,1077.5 1465.2,1076.8 1461.8,1076.3 1458.4,1076.0 1454.9,1075.9 1451.0,1076.2 1447.2,1076.8 1443.5,1077.6 1440.0,1078.6 1436.6,1079.6 1433.5,1080.7 1430.7,1081.7 1428.3,1082.6 1426.5,1083.2 1425.1,1083.7" fill="#8d8d8d" stroke="#5a5a5a" stroke-width="1.0" stroke-linejoin="round"/>
<path d="M1310.0,1154.6 C1313.0,1153.0 1322.1,1146.9 1328.1,1144.9 C1334.2,1142.9 1340.6,1141.3 1346.3,1142.5 C1351.9,1143.7 1359.3,1150.6 1362.0,1152.2" fill="none" stroke="#6d6d6d" stroke-width="6.3999999999999995" stroke-linecap="round" stroke-linejoin="round"/>
<path d="M1310.0,1154.6 C1313.0,1153.0 1322.1,1146.9 1328.1,1144.9 C1334.2,1142.9 1340.6,1141.3 1346.3,1142.5 C1351.9,1143.7 1359.3,1150.6 1362.0,1152.2" fill="none" stroke="#c4c4c4" stroke-width="4.6" stroke-linecap="round" stroke-linejoin="round"/>
<path d="M1310.0,1154.6 C1313.0,1153.0 1322.1,1146.9 1328.1,1144.9 C1334.2,1142.9 1340.6,1141.3 1346.3,1142.5 C1351.9,1143.7 1359.3,1150.6 1362.0,1152.2" fill="none" stroke="#e6e6e6" stroke-width="1.4" stroke-linecap="round" transform="translate(-0.6,-0.6)"/>
<path d="M1447.8,1120.8 C1451.0,1119.3 1460.9,1112.3 1467.1,1112.3 C1473.3,1112.3 1480.4,1116.5 1485.2,1120.8 C1490.1,1125.0 1494.7,1129.6 1496.1,1137.7 C1497.5,1145.7 1496.5,1162.2 1493.7,1169.1 C1490.9,1175.9 1481.6,1177.2 1479.2,1178.8" fill="none" stroke="#6d6d6d" stroke-width="6.3999999999999995" stroke-linecap="round" stroke-linejoin="round"/>
<path d="M1447.8,1120.8 C1451.0,1119.3 1460.9,1112.3 1467.1,1112.3 C1473.3,1112.3 1480.4,1116.5 1485.2,1120.8 C1490.1,1125.0 1494.7,1129.6 1496.1,1137.7 C1497.5,1145.7 1496.5,1162.2 1493.7,1169.1 C1490.9,1175.9 1481.6,1177.2 1479.2,1178.8" fill="none" stroke="#c4c4c4" stroke-width="4.6" stroke-linecap="round" stroke-linejoin="round"/>
<path d="M1447.8,1120.8 C1451.0,1119.3 1460.9,1112.3 1467.1,1112.3 C1473.3,1112.3 1480.4,1116.5 1485.2,1120.8 C1490.1,1125.0 1494.7,1129.6 1496.1,1137.7 C1497.5,1145.7 1496.5,1162.2 1493.7,1169.1 C1490.9,1175.9 1481.6,1177.2 1479.2,1178.8" fill="none" stroke="#e6e6e6" stroke-width="1.4" stroke-linecap="round" transform="translate(-0.6,-0.6)"/>
<path d="M1424.8,1097.8 C1429.8,1096.0 1446.0,1089.5 1455.0,1086.9 C1464.1,1084.3 1472.7,1081.7 1479.2,1082.1 C1485.6,1082.5 1489.7,1085.3 1493.7,1089.3 C1497.7,1093.4 1499.7,1099.8 1503.4,1106.3 C1507.0,1112.7 1513.4,1124.4 1515.4,1128.0" fill="none" stroke="#6d6d6d" stroke-width="6.3999999999999995" stroke-linecap="round" stroke-linejoin="round"/>
<path d="M1424.8,1097.8 C1429.8,1096.0 1446.0,1089.5 1455.0,1086.9 C1464.1,1084.3 1472.7,1081.7 1479.2,1082.1 C1485.6,1082.5 1489.7,1085.3 1493.7,1089.3 C1497.7,1093.4 1499.7,1099.8 1503.4,1106.3 C1507.0,1112.7 1513.4,1124.4 1515.4,1128.0" fill="none" stroke="#c4c4c4" stroke-width="4.6" stroke-linecap="round" stroke-linejoin="round"/>
<path d="M1424.8,1097.8 C1429.8,1096.0 1446.0,1089.5 1455.0,1086.9 C1464.1,1084.3 1472.7,1081.7 1479.2,1082.1 C1485.6,1082.5 1489.7,1085.3 1493.7,1089.3 C1497.7,1093.4 1499.7,1099.8 1503.4,1106.3 C1507.0,1112.7 1513.4,1124.4 1515.4,1128.0" fill="none" stroke="#e6e6e6" stroke-width="1.4" stroke-linecap="round" transform="translate(-0.6,-0.6)"/>
<path d="M1503.4,1084.5 C1505.8,1082.5 1514.6,1072.4 1517.9,1072.4 C1521.1,1072.4 1520.7,1079.9 1522.7,1084.5 C1524.7,1089.1 1527.1,1096.8 1529.9,1100.2 C1532.8,1103.6 1536.3,1106.1 1539.6,1105.0 C1543.0,1104.0 1548.3,1096.0 1550.0,1094.2" fill="none" stroke="#6d6d6d" stroke-width="6.3999999999999995" stroke-linecap="round" stroke-linejoin="round"/>
<path d="M1503.4,1084.5 C1505.8,1082.5 1514.6,1072.4 1517.9,1072.4 C1521.1,1072.4 1520.7,1079.9 1522.7,1084.5 C1524.7,1089.1 1527.1,1096.8 1529.9,1100.2 C1532.8,1103.6 1536.3,1106.1 1539.6,1105.0 C1543.0,1104.0 1548.3,1096.0 1550.0,1094.2" fill="none" stroke="#c4c4c4" stroke-width="4.6" stroke-linecap="round" stroke-linejoin="round"/>
<path d="M1503.4,1084.5 C1505.8,1082.5 1514.6,1072.4 1517.9,1072.4 C1521.1,1072.4 1520.7,1079.9 1522.7,1084.5 C1524.7,1089.1 1527.1,1096.8 1529.9,1100.2 C1532.8,1103.6 1536.3,1106.1 1539.6,1105.0 C1543.0,1104.0 1548.3,1096.0 1550.0,1094.2" fill="none" stroke="#e6e6e6" stroke-width="1.4" stroke-linecap="round" transform="translate(-0.6,-0.6)"/>
<path d="M1358.3,1221.1 C1364.4,1220.7 1382.5,1220.7 1394.6,1218.6 C1406.7,1216.6 1418.8,1213.2 1430.8,1209.0 C1442.9,1204.7 1457.0,1197.7 1467.1,1193.3 C1477.2,1188.8 1487.2,1184.2 1491.3,1182.4" fill="none" stroke="#6d6d6d" stroke-width="6.3999999999999995" stroke-linecap="round" stroke-linejoin="round"/>
<path d="M1358.3,1221.1 C1364.4,1220.7 1382.5,1220.7 1394.6,1218.6 C1406.7,1216.6 1418.8,1213.2 1430.8,1209.0 C1442.9,1204.7 1457.0,1197.7 1467.1,1193.3 C1477.2,1188.8 1487.2,1184.2 1491.3,1182.4" fill="none" stroke="#c4c4c4" stroke-width="4.6" stroke-linecap="round" stroke-linejoin="round"/>
<path d="M1358.3,1221.1 C1364.4,1220.7 1382.5,1220.7 1394.6,1218.6 C1406.7,1216.6 1418.8,1213.2 1430.8,1209.0 C1442.9,1204.7 1457.0,1197.7 1467.1,1193.3 C1477.2,1188.8 1487.2,1184.2 1491.3,1182.4" fill="none" stroke="#e6e6e6" stroke-width="1.4" stroke-linecap="round" transform="translate(-0.6,-0.6)"/>
<polygon points="1498.6,1187.5 1496.5,1187.5 1494.2,1186.8 1491.7,1185.5 1489.2,1183.6 1486.7,1181.0 1484.2,1177.8 1481.8,1174.2 1479.6,1170.0 1477.6,1165.5 1475.9,1160.7 1474.5,1155.6 1473.4,1150.3 1472.7,1144.9 1472.4,1139.6 1472.5,1134.4 1473.1,1129.3 1474.1,1124.5 1475.6,1120.1 1477.5,1116.0 1479.8,1112.5 1482.5,1109.4 1485.5,1107.0 1488.9,1105.2 1492.5,1104.0 1475.8,1110.8 1472.2,1112.0 1468.9,1113.8 1465.8,1116.3 1463.1,1119.3 1460.8,1122.8 1458.9,1126.9 1457.5,1131.3 1456.5,1136.1 1455.9,1141.2 1455.7,1146.4 1456.0,1151.8 1456.7,1157.1 1457.8,1162.4 1459.2,1167.5 1461.0,1172.3 1463.0,1176.9 1465.2,1181.0 1467.5,1184.7 1470.0,1187.8 1472.5,1190.4 1475.1,1192.3 1477.5,1193.7 1479.8,1194.3 1482.0,1194.3" fill="#555555" stroke="#4f4f4f" stroke-width="0.8" stroke-linejoin="round"/>
<polygon points="1538.9,1171.1 1536.9,1171.5 1534.6,1171.1 1532.2,1170.1 1529.7,1168.5 1527.2,1166.2 1524.7,1163.4 1522.3,1160.0 1520.0,1156.1 1517.9,1151.7 1516.0,1147.0 1514.4,1142.0 1513.1,1136.8 1512.3,1131.5 1511.8,1126.1 1511.7,1120.8 1512.0,1115.7 1512.8,1110.7 1514.1,1106.1 1515.8,1101.9 1517.9,1098.1 1520.4,1094.8 1503.7,1101.6 1501.2,1104.9 1499.1,1108.7 1497.4,1112.9 1496.2,1117.6 1495.4,1122.5 1495.0,1127.7 1495.1,1133.0 1495.6,1138.3 1496.5,1143.6 1497.7,1148.8 1499.3,1153.8 1501.2,1158.5 1503.3,1162.9 1505.6,1166.8 1508.0,1170.2 1510.6,1173.1 1513.1,1175.3 1515.6,1177.0 1518.0,1178.0 1520.2,1178.3 1522.2,1178.0" fill="#555555" stroke="#4f4f4f" stroke-width="0.8" stroke-linejoin="round"/>
<polygon points="1504.0,1166.6 1504.8,1170.8 1505.1,1174.7 1504.9,1178.1 1504.4,1181.1 1503.5,1183.6 1502.2,1185.5 1500.5,1186.8 1498.6,1187.5 1482.0,1194.3 1483.9,1193.7 1485.5,1192.4 1486.8,1190.4 1487.7,1188.0 1488.3,1185.0 1488.4,1181.5 1488.1,1177.6 1487.4,1173.4" fill="#7a7a7a" stroke="#5a5a5a" stroke-width="0.9" stroke-linejoin="round"/>
<polygon points="1492.5,1104.0 1496.3,1103.5 1500.3,1103.6 1504.5,1104.4 1508.6,1105.9 1512.8,1107.9 1516.9,1110.5 1520.9,1113.6 1524.7,1117.2 1528.3,1121.1 1531.6,1125.4 1534.6,1129.8 1537.3,1134.5 1539.5,1139.1 1541.4,1143.8 1542.8,1148.3 1543.7,1152.6 1544.3,1156.7 1544.3,1160.3 1544.0,1163.6 1543.2,1166.3 1542.1,1168.5 1540.7,1170.1 1538.9,1171.1 1522.2,1178.0 1524.0,1177.0 1525.5,1175.4 1526.6,1173.2 1527.3,1170.4 1527.7,1167.2 1527.6,1163.5 1527.1,1159.5 1526.1,1155.1 1524.7,1150.6 1522.9,1146.0 1520.6,1141.3 1518.0,1136.7 1515.0,1132.2 1511.7,1127.9 1508.1,1124.0 1504.3,1120.4 1500.3,1117.3 1496.2,1114.7 1492.0,1112.7 1487.8,1111.3 1483.7,1110.5 1479.7,1110.3 1475.8,1110.8" fill="#7a7a7a" stroke="#5a5a5a" stroke-width="0.9" stroke-linejoin="round"/>
<polygon points="1577.8,1137.3 1577.5,1139.1 1577.2,1141.5 1576.9,1144.3 1576.4,1147.3 1576.0,1150.6 1575.5,1154.0 1575.0,1157.5 1574.4,1161.0 1573.7,1164.3 1573.1,1167.3 1572.4,1170.2 1571.5,1173.1 1570.6,1176.0 1569.6,1179.1 1568.5,1182.2 1567.5,1185.4 1566.4,1188.7 1565.3,1192.2 1564.3,1195.8 1563.4,1199.6 1562.6,1203.7 1561.7,1208.1 1561.0,1212.8 1560.2,1217.5 1559.5,1222.3 1558.8,1226.8 1558.2,1231.1 1557.7,1234.8 1557.2,1238.0 1556.9,1240.4 1570.7,1242.5 1571.1,1240.0 1571.5,1236.8 1572.1,1233.0 1572.7,1228.8 1573.3,1224.3 1574.0,1219.7 1574.8,1215.0 1575.5,1210.5 1576.3,1206.4 1577.1,1202.7 1577.9,1199.3 1578.8,1196.1 1579.7,1192.9 1580.7,1189.8 1581.8,1186.7 1582.9,1183.5 1583.9,1180.4 1584.9,1177.1 1585.9,1173.9 1586.7,1170.5 1587.5,1167.0 1588.1,1163.4 1588.8,1159.8 1589.3,1156.1 1589.9,1152.6 1590.3,1149.2 1590.7,1146.1 1591.1,1143.4 1591.4,1141.1 1591.7,1139.3" fill="#8e8e8e" stroke="#5a5a5a" stroke-width="1.0" stroke-linejoin="round"/>
<polygon points="1585.2,1155.2 1585.8,1157.1 1586.6,1159.6 1587.5,1162.3 1588.5,1165.5 1589.6,1168.8 1590.7,1172.4 1591.8,1176.0 1592.9,1179.7 1593.8,1183.3 1594.7,1186.8 1595.5,1190.5 1596.3,1194.4 1597.2,1198.4 1598.0,1202.5 1598.8,1206.6 1599.5,1210.6 1600.1,1214.6 1600.5,1218.4 1600.8,1222.0 1600.9,1225.3 1600.8,1228.4 1600.4,1231.7 1599.9,1235.1 1599.1,1238.6 1598.3,1242.0 1597.5,1245.3 1596.6,1248.3 1595.8,1251.2 1595.2,1253.7 1594.7,1255.7 1610.3,1259.4 1610.7,1257.6 1611.3,1255.4 1612.0,1252.6 1612.9,1249.4 1613.8,1245.9 1614.8,1242.1 1615.6,1238.0 1616.3,1233.9 1616.7,1229.6 1616.9,1225.4 1616.8,1221.1 1616.5,1216.9 1616.0,1212.5 1615.3,1208.1 1614.6,1203.7 1613.7,1199.4 1612.9,1195.1 1612.0,1191.0 1611.1,1187.0 1610.3,1183.2 1609.3,1179.4 1608.3,1175.4 1607.2,1171.5 1606.0,1167.6 1604.8,1164.0 1603.7,1160.5 1602.7,1157.3 1601.8,1154.5 1601.0,1152.2 1600.4,1150.4" fill="#9a9a9a" stroke="#5a5a5a" stroke-width="1.0" stroke-linejoin="round"/>
<path d="M1518.7,1056.1 C1520.3,1056.9 1528.1,1058.5 1528.3,1060.9 C1528.6,1063.4 1524.3,1067.7 1520.3,1070.6 C1516.3,1073.6 1507.1,1075.7 1504.2,1078.7 C1501.2,1081.6 1501.2,1083.5 1502.6,1088.3 C1503.9,1093.2 1507.9,1101.8 1512.2,1107.7 C1516.5,1113.6 1525.7,1121.1 1528.3,1123.8" fill="none" stroke="#6d6d6d" stroke-width="6.3999999999999995" stroke-linecap="round" stroke-linejoin="round"/>
<path d="M1518.7,1056.1 C1520.3,1056.9 1528.1,1058.5 1528.3,1060.9 C1528.6,1063.4 1524.3,1067.7 1520.3,1070.6 C1516.3,1073.6 1507.1,1075.7 1504.2,1078.7 C1501.2,1081.6 1501.2,1083.5 1502.6,1088.3 C1503.9,1093.2 1507.9,1101.8 1512.2,1107.7 C1516.5,1113.6 1525.7,1121.1 1528.3,1123.8" fill="none" stroke="#c4c4c4" stroke-width="4.6" stroke-linecap="round" stroke-linejoin="round"/>
<path d="M1518.7,1056.1 C1520.3,1056.9 1528.1,1058.5 1528.3,1060.9 C1528.6,1063.4 1524.3,1067.7 1520.3,1070.6 C1516.3,1073.6 1507.1,1075.7 1504.2,1078.7 C1501.2,1081.6 1501.2,1083.5 1502.6,1088.3 C1503.9,1093.2 1507.9,1101.8 1512.2,1107.7 C1516.5,1113.6 1525.7,1121.1 1528.3,1123.8" fill="none" stroke="#e6e6e6" stroke-width="1.4" stroke-linecap="round" transform="translate(-0.6,-0.6)"/>
<path d="M1520.3,1070.6 C1521.6,1073.6 1525.4,1082.7 1528.3,1088.3 C1531.3,1094.0 1534.8,1103.9 1538.0,1104.5 C1541.2,1105.0 1544.5,1094.0 1547.7,1091.6 C1550.9,1089.1 1553.6,1088.6 1557.3,1090.0 C1561.1,1091.3 1565.9,1094.5 1570.2,1099.6 C1574.5,1104.7 1580.4,1114.4 1583.1,1120.6 C1585.8,1126.7 1585.8,1134.0 1586.3,1136.7" fill="none" stroke="#6d6d6d" stroke-width="6.3999999999999995" stroke-linecap="round" stroke-linejoin="round"/>
<path d="M1520.3,1070.6 C1521.6,1073.6 1525.4,1082.7 1528.3,1088.3 C1531.3,1094.0 1534.8,1103.9 1538.0,1104.5 C1541.2,1105.0 1544.5,1094.0 1547.7,1091.6 C1550.9,1089.1 1553.6,1088.6 1557.3,1090.0 C1561.1,1091.3 1565.9,1094.5 1570.2,1099.6 C1574.5,1104.7 1580.4,1114.4 1583.1,1120.6 C1585.8,1126.7 1585.8,1134.0 1586.3,1136.7" fill="none" stroke="#c4c4c4" stroke-width="4.6" stroke-linecap="round" stroke-linejoin="round"/>
<path d="M1520.3,1070.6 C1521.6,1073.6 1525.4,1082.7 1528.3,1088.3 C1531.3,1094.0 1534.8,1103.9 1538.0,1104.5 C1541.2,1105.0 1544.5,1094.0 1547.7,1091.6 C1550.9,1089.1 1553.6,1088.6 1557.3,1090.0 C1561.1,1091.3 1565.9,1094.5 1570.2,1099.6 C1574.5,1104.7 1580.4,1114.4 1583.1,1120.6 C1585.8,1126.7 1585.8,1134.0 1586.3,1136.7" fill="none" stroke="#e6e6e6" stroke-width="1.4" stroke-linecap="round" transform="translate(-0.6,-0.6)"/>
<path d="M1691.1,1051.3 C1688.1,1054.8 1679.0,1065.5 1673.4,1072.2 C1667.7,1078.9 1661.8,1087.8 1657.2,1091.6 C1652.7,1095.3 1649.7,1091.0 1646.0,1094.8 C1642.2,1098.5 1638.7,1106.6 1634.7,1114.1 C1630.7,1121.6 1624.8,1131.8 1621.8,1139.9 C1618.8,1148.0 1619.1,1156.0 1617.0,1162.5 C1614.8,1168.9 1612.9,1174.0 1608.9,1178.6 C1604.9,1183.1 1598.7,1185.3 1592.8,1189.9 C1586.9,1194.4 1576.7,1203.3 1573.5,1206.0" fill="none" stroke="#6d6d6d" stroke-width="6.3999999999999995" stroke-linecap="round" stroke-linejoin="round"/>
<path d="M1691.1,1051.3 C1688.1,1054.8 1679.0,1065.5 1673.4,1072.2 C1667.7,1078.9 1661.8,1087.8 1657.2,1091.6 C1652.7,1095.3 1649.7,1091.0 1646.0,1094.8 C1642.2,1098.5 1638.7,1106.6 1634.7,1114.1 C1630.7,1121.6 1624.8,1131.8 1621.8,1139.9 C1618.8,1148.0 1619.1,1156.0 1617.0,1162.5 C1614.8,1168.9 1612.9,1174.0 1608.9,1178.6 C1604.9,1183.1 1598.7,1185.3 1592.8,1189.9 C1586.9,1194.4 1576.7,1203.3 1573.5,1206.0" fill="none" stroke="#c4c4c4" stroke-width="4.6" stroke-linecap="round" stroke-linejoin="round"/>
<path d="M1691.1,1051.3 C1688.1,1054.8 1679.0,1065.5 1673.4,1072.2 C1667.7,1078.9 1661.8,1087.8 1657.2,1091.6 C1652.7,1095.3 1649.7,1091.0 1646.0,1094.8 C1642.2,1098.5 1638.7,1106.6 1634.7,1114.1 C1630.7,1121.6 1624.8,1131.8 1621.8,1139.9 C1618.8,1148.0 1619.1,1156.0 1617.0,1162.5 C1614.8,1168.9 1612.9,1174.0 1608.9,1178.6 C1604.9,1183.1 1598.7,1185.3 1592.8,1189.9 C1586.9,1194.4 1576.7,1203.3 1573.5,1206.0" fill="none" stroke="#e6e6e6" stroke-width="1.4" stroke-linecap="round" transform="translate(-0.6,-0.6)"/>
<polygon points="1648.5,1209.3 1649.3,1210.7 1650.9,1212.3 1653.3,1214.0 1656.3,1215.7 1659.9,1217.6 1664.1,1219.5 1668.8,1221.5 1673.9,1223.6 1679.3,1225.7 1684.9,1227.9 1690.7,1230.0 1696.5,1232.2 1702.1,1234.3 1707.6,1236.5 1712.8,1238.5 1717.7,1240.6 1722.1,1242.5 1725.9,1244.4 1729.1,1246.2 1731.7,1247.9 1733.5,1249.5 1734.6,1251.0 1735.0,1252.4 1734.5,1253.7 1738.8,1224.0 1739.2,1222.7 1738.9,1221.3 1737.8,1219.8 1735.9,1218.2 1733.4,1216.5 1730.1,1214.7 1726.3,1212.8 1721.9,1210.9 1717.1,1208.8 1711.9,1206.8 1706.4,1204.6 1700.7,1202.5 1694.9,1200.3 1689.2,1198.2 1683.6,1196.0 1678.2,1193.9 1673.1,1191.8 1668.4,1189.8 1664.2,1187.9 1660.5,1186.0 1657.5,1184.3 1655.2,1182.6 1653.6,1181.0 1652.7,1179.6" fill="#a2a2a2" stroke="#4f4f4f" stroke-width="0.8" stroke-linejoin="round"/>
<polygon points="1639.5,1272.3 1640.3,1273.7 1641.9,1275.3 1644.3,1277.0 1647.3,1278.7 1650.9,1280.6 1655.1,1282.5 1659.8,1284.5 1664.9,1286.6 1670.3,1288.7 1675.9,1290.9 1681.7,1293.0 1687.5,1295.2 1693.1,1297.3 1698.6,1299.5 1703.8,1301.5 1708.7,1303.6 1713.1,1305.5 1716.9,1307.4 1720.1,1309.2 1722.7,1310.9 1724.5,1312.5 1725.6,1314.0 1726.0,1315.4 1725.5,1316.7 1729.8,1287.0 1730.2,1285.7 1729.9,1284.3 1728.8,1282.8 1726.9,1281.2 1724.4,1279.5 1721.1,1277.7 1717.3,1275.8 1712.9,1273.9 1708.1,1271.8 1702.9,1269.8 1697.4,1267.6 1691.7,1265.5 1685.9,1263.3 1680.2,1261.2 1674.6,1259.0 1669.2,1256.9 1664.1,1254.8 1659.4,1252.8 1655.2,1250.9 1651.5,1249.0 1648.5,1247.3 1646.2,1245.6 1644.6,1244.0 1643.7,1242.6" fill="#a2a2a2" stroke="#4f4f4f" stroke-width="0.8" stroke-linejoin="round"/>
<polygon points="1740.3,1192.9 1737.6,1193.9 1734.2,1194.7 1730.2,1195.5 1725.6,1196.2 1720.6,1196.8 1715.1,1197.3 1709.3,1197.9 1703.3,1198.3 1697.2,1198.8 1691.1,1199.3 1685.0,1199.7 1679.1,1200.2 1673.5,1200.8 1668.3,1201.4 1663.6,1202.0 1659.4,1202.8 1655.8,1203.6 1652.8,1204.5 1650.6,1205.5 1649.1,1206.7 1648.4,1207.9 1648.5,1209.3 1652.7,1179.6 1652.7,1178.2 1653.4,1177.0 1654.8,1175.8 1657.1,1174.8 1660.0,1173.9 1663.6,1173.1 1667.8,1172.3 1672.6,1171.7 1677.8,1171.1 1683.4,1170.5 1689.2,1170.0 1695.3,1169.6 1701.4,1169.1 1707.6,1168.6 1713.6,1168.2 1719.3,1167.6 1724.8,1167.1 1729.9,1166.5 1734.5,1165.8 1738.5,1165.0 1741.9,1164.2 1744.6,1163.2" fill="url(#gHf)" stroke="#5a5a5a" stroke-width="0.9" stroke-linejoin="round"/>
<polygon points="1734.5,1253.7 1733.3,1254.9 1731.3,1255.9 1728.6,1256.9 1725.2,1257.7 1721.2,1258.5 1716.6,1259.2 1711.6,1259.8 1706.1,1260.3 1700.3,1260.9 1694.3,1261.3 1688.2,1261.8 1682.1,1262.3 1676.0,1262.7 1670.1,1263.2 1664.5,1263.8 1659.3,1264.4 1654.6,1265.0 1650.4,1265.8 1646.8,1266.6 1643.8,1267.5 1641.6,1268.5 1640.1,1269.7 1639.4,1270.9 1639.5,1272.3 1643.7,1242.6 1643.7,1241.2 1644.4,1240.0 1645.8,1238.8 1648.1,1237.8 1651.0,1236.9 1654.6,1236.1 1658.8,1235.3 1663.6,1234.7 1668.8,1234.1 1674.4,1233.5 1680.2,1233.0 1686.3,1232.6 1692.4,1232.1 1698.6,1231.6 1704.6,1231.2 1710.3,1230.6 1715.8,1230.1 1720.9,1229.5 1725.5,1228.8 1729.5,1228.0 1732.9,1227.2 1735.6,1226.2 1737.5,1225.2 1738.8,1224.0" fill="url(#gHf)" stroke="#5a5a5a" stroke-width="0.9" stroke-linejoin="round"/>
<polygon points="1725.5,1316.7 1724.3,1317.9 1722.3,1318.9 1726.6,1289.2 1728.5,1288.2 1729.8,1287.0" fill="url(#gHf)" stroke="#5a5a5a" stroke-width="0.9" stroke-linejoin="round"/>
<polygon points="1688.0,1160.0 1747.0,1183.0 1700.0,1190.0" fill="#cfcfcf" stroke="#6a6a6a" stroke-width="0.8" stroke-linejoin="round"/>
<polygon points="1635.9,1223.6 1632.4,1224.6 1628.0,1225.9 1622.8,1227.4 1617.1,1229.0 1610.8,1230.8 1604.2,1232.7 1597.3,1234.7 1590.2,1236.7 1583.2,1238.6 1576.2,1240.5 1569.1,1242.3 1561.7,1244.2 1554.0,1246.0 1546.0,1248.0 1537.8,1249.9 1529.4,1251.9 1521.0,1254.0 1512.6,1256.1 1504.2,1258.3 1496.0,1260.5 1487.8,1262.8 1479.6,1265.2 1471.2,1267.6 1462.8,1270.0 1454.4,1272.5 1446.1,1275.1 1437.9,1277.7 1429.8,1280.4 1422.0,1283.2 1414.5,1286.1 1407.0,1289.2 1399.4,1292.6 1392.0,1296.1 1384.8,1299.7 1378.0,1303.3 1371.6,1306.7 1365.8,1309.9 1360.7,1312.7 1356.4,1314.9 1353.1,1316.7 1366.9,1343.3 1370.5,1341.4 1375.0,1339.0 1380.1,1336.2 1385.8,1333.1 1392.0,1329.8 1398.5,1326.4 1405.3,1323.0 1412.1,1319.8 1418.9,1316.7 1425.5,1313.9 1432.4,1311.4 1439.6,1308.8 1447.2,1306.2 1455.1,1303.7 1463.1,1301.2 1471.3,1298.8 1479.5,1296.4 1487.8,1294.0 1496.0,1291.7 1504.0,1289.5 1512.0,1287.3 1520.0,1285.2 1528.2,1283.1 1536.5,1281.1 1544.7,1279.1 1552.9,1277.1 1561.0,1275.2 1568.9,1273.3 1576.5,1271.4 1583.8,1269.5 1591.0,1267.6 1598.2,1265.6 1605.4,1263.6 1612.4,1261.6 1619.2,1259.7 1625.5,1257.8 1631.2,1256.2 1636.4,1254.7 1640.7,1253.4 1644.1,1252.4" fill="#858585" stroke="#5a5a5a" stroke-width="1.0" stroke-linejoin="round"/>
<polygon points="1447.1,1288.0 1442.8,1289.7 1437.1,1291.9 1430.3,1294.6 1422.6,1297.7 1414.3,1300.9 1405.7,1304.4 1397.2,1307.9 1388.9,1311.5 1381.1,1315.0 1374.1,1318.4 1367.6,1321.9 1361.1,1325.6 1354.9,1329.5 1348.9,1333.3 1343.2,1337.1 1338.0,1340.7 1333.2,1344.0 1329.0,1346.9 1325.6,1349.3 1322.8,1351.2 1337.2,1372.8 1340.2,1370.8 1343.9,1368.3 1348.1,1365.3 1352.7,1362.1 1357.8,1358.6 1363.1,1355.1 1368.7,1351.5 1374.4,1348.0 1380.2,1344.6 1385.9,1341.6 1392.1,1338.6 1399.4,1335.3 1407.3,1331.9 1415.6,1328.4 1424.0,1325.1 1432.1,1321.8 1439.7,1318.8 1446.6,1316.1 1452.4,1313.9 1456.9,1312.0" fill="#6c6c6c" stroke="#5a5a5a" stroke-width="1.0" stroke-linejoin="round"/>
<polygon points="1432.4,1329.8 1437.8,1328.6 1444.9,1327.2 1453.2,1325.4 1462.5,1323.5 1472.4,1321.4 1482.8,1319.2 1493.2,1317.2 1503.4,1315.2 1513.1,1313.4 1522.0,1311.8 1530.3,1310.5 1538.6,1309.3 1546.9,1308.3 1555.1,1307.2 1563.2,1306.3 1571.2,1305.4 1579.1,1304.5 1586.8,1303.7 1594.3,1302.8 1601.5,1301.9 1608.6,1301.0 1615.8,1300.0 1622.9,1299.1 1629.9,1298.2 1636.6,1297.3 1642.9,1296.4 1648.6,1295.6 1653.8,1294.9 1658.1,1294.4 1661.6,1293.9 1658.4,1270.1 1654.9,1270.6 1650.6,1271.2 1645.4,1271.9 1639.7,1272.6 1633.4,1273.5 1626.7,1274.4 1619.8,1275.3 1612.7,1276.2 1605.5,1277.2 1598.5,1278.1 1591.4,1279.0 1584.1,1279.8 1576.5,1280.7 1568.6,1281.5 1560.5,1282.5 1552.3,1283.4 1543.8,1284.4 1535.3,1285.6 1526.7,1286.8 1518.0,1288.2 1508.9,1289.7 1499.0,1291.6 1488.6,1293.6 1478.0,1295.7 1467.6,1297.9 1457.5,1300.0 1448.2,1301.9 1439.9,1303.7 1433.0,1305.1 1427.6,1306.2" fill="#9a9a9a" stroke="#5a5a5a" stroke-width="1.0" stroke-linejoin="round"/>
<polygon points="1490.0,1339.0 1494.3,1339.0 1499.7,1339.0 1506.2,1338.9 1513.5,1338.9 1521.3,1338.9 1529.4,1338.9 1537.5,1338.9 1545.5,1338.9 1553.0,1338.9 1559.8,1339.0 1566.2,1339.1 1572.6,1339.2 1579.0,1339.4 1585.2,1339.6 1591.3,1339.7 1597.3,1340.0 1603.1,1340.2 1608.7,1340.4 1614.1,1340.7 1619.2,1341.0 1624.2,1341.3 1629.1,1341.7 1628.4,1346.2 1662.0,1332.0 1632.0,1311.3 1631.3,1315.8 1626.1,1315.4 1620.8,1315.0 1615.5,1314.7 1609.9,1314.5 1604.2,1314.2 1598.3,1314.0 1592.2,1313.8 1586.0,1313.6 1579.6,1313.4 1573.2,1313.2 1566.7,1313.1 1560.2,1313.0 1553.2,1312.9 1545.6,1312.9 1537.5,1312.9 1529.3,1312.9 1521.2,1312.9 1513.4,1312.9 1506.1,1312.9 1499.6,1313.0 1494.2,1313.0 1490.0,1313.0" fill="url(#gS)" stroke="#5a5a5a" stroke-width="1.0" stroke-linejoin="round"/>
<polygon points="1112.2,1313.4 1113.2,1310.0 1114.2,1306.0 1115.2,1301.7 1116.2,1296.9 1117.2,1291.9 1118.1,1286.8 1119.0,1281.5 1120.0,1276.1 1120.9,1270.9 1121.9,1265.8 1122.8,1261.0 1123.8,1256.5 1124.8,1252.4 1125.9,1248.8 1127.0,1245.7 1128.1,1243.2 1129.3,1241.3 1130.5,1240.1 1131.7,1239.6 1133.0,1239.7 1107.1,1241.5 1105.8,1241.3 1104.5,1241.9 1103.3,1243.1 1102.2,1245.0 1101.0,1247.5 1099.9,1250.5 1098.9,1254.2 1097.9,1258.3 1096.9,1262.8 1095.9,1267.6 1095.0,1272.7 1094.0,1277.9 1093.1,1283.2 1092.2,1288.5 1091.2,1293.7 1090.3,1298.7 1089.3,1303.4 1088.3,1307.8 1087.3,1311.7 1086.2,1315.1" fill="#787878" stroke="#4f4f4f" stroke-width="0.8" stroke-linejoin="round"/>
<polygon points="1169.3,1316.9 1170.5,1315.9 1171.7,1314.2 1172.8,1311.9 1173.9,1309.0 1175.0,1305.5 1176.0,1301.5 1177.0,1297.1 1178.0,1292.4 1178.9,1287.4 1179.9,1282.2 1180.8,1276.9 1181.7,1271.5 1182.7,1266.3 1183.6,1261.3 1184.6,1256.5 1185.6,1252.0 1186.6,1247.9 1187.6,1244.3 1188.7,1241.3 1189.9,1238.9 1191.0,1237.0 1192.2,1235.9 1193.5,1235.4 1194.8,1235.6 1168.9,1237.3 1167.6,1237.1 1166.3,1237.6 1165.1,1238.8 1163.9,1240.6 1162.8,1243.1 1161.7,1246.1 1160.6,1249.7 1159.6,1253.7 1158.6,1258.2 1157.7,1263.0 1156.7,1268.1 1155.8,1273.3 1154.8,1278.6 1153.9,1283.9 1153.0,1289.1 1152.0,1294.1 1151.0,1298.9 1150.0,1303.3 1149.0,1307.2 1148.0,1310.7 1146.9,1313.6 1145.7,1316.0 1144.6,1317.7 1143.3,1318.7" fill="#787878" stroke="#4f4f4f" stroke-width="0.8" stroke-linejoin="round"/>
<polygon points="1231.0,1312.7 1232.3,1311.6 1233.4,1309.9 1234.6,1307.5 1235.7,1304.5 1236.7,1301.0 1237.7,1297.0 1238.7,1292.6 1239.7,1287.8 1240.7,1282.8 1241.6,1277.5 1242.5,1272.2 1243.5,1266.9 1244.4,1261.7 1245.4,1256.7 1246.3,1251.9 1247.3,1247.5 1248.3,1243.4 1249.4,1239.9 1250.5,1236.9 1251.6,1234.5 1252.8,1232.7 1254.0,1231.6 1255.3,1231.2 1229.3,1233.0 1228.1,1233.4 1226.9,1234.5 1225.7,1236.3 1224.5,1238.7 1223.5,1241.7 1222.4,1245.2 1221.4,1249.2 1220.4,1253.6 1219.4,1258.4 1218.5,1263.5 1217.5,1268.7 1216.6,1274.0 1215.7,1279.3 1214.7,1284.5 1213.8,1289.5 1212.8,1294.3 1211.8,1298.7 1210.8,1302.8 1209.7,1306.3 1208.6,1309.3 1207.5,1311.6 1206.3,1313.4 1205.1,1314.5" fill="#787878" stroke="#4f4f4f" stroke-width="0.8" stroke-linejoin="round"/>
<polygon points="1133.0,1239.7 1134.4,1240.5 1135.8,1242.0 1137.2,1244.2 1138.7,1246.9 1140.2,1250.2 1141.7,1254.0 1143.3,1258.2 1144.9,1262.7 1146.5,1267.6 1148.2,1272.6 1149.8,1277.7 1151.5,1282.8 1153.1,1287.9 1154.7,1292.8 1156.3,1297.4 1157.9,1301.7 1159.5,1305.6 1161.0,1309.1 1162.5,1312.0 1163.9,1314.3 1165.3,1315.9 1166.7,1317.0 1168.0,1317.3 1169.3,1316.9 1143.3,1318.7 1142.1,1319.0 1140.7,1318.7 1139.4,1317.7 1138.0,1316.0 1136.5,1313.7 1135.0,1310.8 1133.5,1307.4 1132.0,1303.5 1130.4,1299.2 1128.8,1294.5 1127.2,1289.6 1125.5,1284.6 1123.9,1279.5 1122.2,1274.3 1120.6,1269.3 1119.0,1264.5 1117.4,1259.9 1115.8,1255.7 1114.3,1251.9 1112.7,1248.7 1111.3,1245.9 1109.8,1243.8 1108.4,1242.3 1107.1,1241.5" fill="url(#gHf)" stroke="#5a5a5a" stroke-width="0.9" stroke-linejoin="round"/>
<polygon points="1194.8,1235.6 1196.2,1236.5 1197.6,1238.0 1199.0,1240.2 1200.5,1243.0 1202.0,1246.3 1203.5,1250.1 1205.1,1254.4 1206.7,1258.9 1208.3,1263.8 1210.0,1268.8 1211.6,1274.0 1213.3,1279.1 1214.9,1284.1 1216.5,1289.0 1218.1,1293.6 1219.7,1297.9 1221.3,1301.8 1222.8,1305.2 1224.3,1308.0 1225.7,1310.3 1227.1,1311.9 1228.5,1312.8 1229.8,1313.1 1231.0,1312.7 1205.1,1314.5 1203.8,1314.9 1202.5,1314.6 1201.2,1313.6 1199.8,1312.0 1198.3,1309.8 1196.8,1306.9 1195.3,1303.5 1193.8,1299.7 1192.2,1295.4 1190.6,1290.8 1189.0,1285.9 1187.3,1280.8 1185.7,1275.7 1184.0,1270.6 1182.4,1265.6 1180.8,1260.7 1179.2,1256.1 1177.6,1251.9 1176.1,1248.1 1174.5,1244.7 1173.1,1242.0 1171.6,1239.8 1170.2,1238.2 1168.9,1237.3" fill="url(#gHf)" stroke="#5a5a5a" stroke-width="0.9" stroke-linejoin="round"/>
<polygon points="1255.3,1231.2 1229.3,1233.0" fill="url(#gHf)" stroke="#5a5a5a" stroke-width="0.9" stroke-linejoin="round"/>
<path d="M1046.0,1293.3 C1048.8,1290.5 1056.6,1281.2 1062.7,1276.7 C1068.7,1272.1 1073.5,1267.1 1082.3,1266.1 C1091.1,1265.1 1106.2,1270.6 1115.5,1270.6 C1124.8,1270.6 1131.6,1266.1 1138.2,1266.1 C1144.7,1266.1 1152.0,1269.9 1154.8,1270.6" fill="none" stroke="#6d6d6d" stroke-width="6.3999999999999995" stroke-linecap="round" stroke-linejoin="round"/>
<path d="M1046.0,1293.3 C1048.8,1290.5 1056.6,1281.2 1062.7,1276.7 C1068.7,1272.1 1073.5,1267.1 1082.3,1266.1 C1091.1,1265.1 1106.2,1270.6 1115.5,1270.6 C1124.8,1270.6 1131.6,1266.1 1138.2,1266.1 C1144.7,1266.1 1152.0,1269.9 1154.8,1270.6" fill="none" stroke="#c4c4c4" stroke-width="4.6" stroke-linecap="round" stroke-linejoin="round"/>
<path d="M1046.0,1293.3 C1048.8,1290.5 1056.6,1281.2 1062.7,1276.7 C1068.7,1272.1 1073.5,1267.1 1082.3,1266.1 C1091.1,1265.1 1106.2,1270.6 1115.5,1270.6 C1124.8,1270.6 1131.6,1266.1 1138.2,1266.1 C1144.7,1266.1 1152.0,1269.9 1154.8,1270.6" fill="none" stroke="#e6e6e6" stroke-width="1.4" stroke-linecap="round" transform="translate(-0.6,-0.6)"/>
<path d="M1046.0,1293.3 C1047.6,1292.0 1049.8,1288.3 1055.1,1285.7 C1060.4,1283.2 1073.2,1277.7 1077.8,1278.2 C1082.3,1278.7 1079.8,1286.5 1082.3,1288.8 C1084.8,1291.0 1087.3,1293.5 1092.9,1291.8 C1098.4,1290.0 1109.2,1281.7 1115.5,1278.2 C1121.8,1274.7 1128.1,1271.9 1130.6,1270.6" fill="none" stroke="#6d6d6d" stroke-width="6.3999999999999995" stroke-linecap="round" stroke-linejoin="round"/>
<path d="M1046.0,1293.3 C1047.6,1292.0 1049.8,1288.3 1055.1,1285.7 C1060.4,1283.2 1073.2,1277.7 1077.8,1278.2 C1082.3,1278.7 1079.8,1286.5 1082.3,1288.8 C1084.8,1291.0 1087.3,1293.5 1092.9,1291.8 C1098.4,1290.0 1109.2,1281.7 1115.5,1278.2 C1121.8,1274.7 1128.1,1271.9 1130.6,1270.6" fill="none" stroke="#c4c4c4" stroke-width="4.6" stroke-linecap="round" stroke-linejoin="round"/>
<path d="M1046.0,1293.3 C1047.6,1292.0 1049.8,1288.3 1055.1,1285.7 C1060.4,1283.2 1073.2,1277.7 1077.8,1278.2 C1082.3,1278.7 1079.8,1286.5 1082.3,1288.8 C1084.8,1291.0 1087.3,1293.5 1092.9,1291.8 C1098.4,1290.0 1109.2,1281.7 1115.5,1278.2 C1121.8,1274.7 1128.1,1271.9 1130.6,1270.6" fill="none" stroke="#e6e6e6" stroke-width="1.4" stroke-linecap="round" transform="translate(-0.6,-0.6)"/>
<path d="M1172.9,1325.0 C1176.0,1326.3 1183.8,1329.8 1191.1,1332.6 C1198.4,1335.3 1210.4,1340.6 1216.7,1341.6 C1223.0,1342.6 1223.0,1339.1 1228.8,1338.6 C1234.6,1338.1 1247.7,1338.6 1251.5,1338.6" fill="none" stroke="#6d6d6d" stroke-width="6.3999999999999995" stroke-linecap="round" stroke-linejoin="round"/>
<path d="M1172.9,1325.0 C1176.0,1326.3 1183.8,1329.8 1191.1,1332.6 C1198.4,1335.3 1210.4,1340.6 1216.7,1341.6 C1223.0,1342.6 1223.0,1339.1 1228.8,1338.6 C1234.6,1338.1 1247.7,1338.6 1251.5,1338.6" fill="none" stroke="#c4c4c4" stroke-width="4.6" stroke-linecap="round" stroke-linejoin="round"/>
<path d="M1172.9,1325.0 C1176.0,1326.3 1183.8,1329.8 1191.1,1332.6 C1198.4,1335.3 1210.4,1340.6 1216.7,1341.6 C1223.0,1342.6 1223.0,1339.1 1228.8,1338.6 C1234.6,1338.1 1247.7,1338.6 1251.5,1338.6" fill="none" stroke="#e6e6e6" stroke-width="1.4" stroke-linecap="round" transform="translate(-0.6,-0.6)"/>
<path d="M1266.6,1285.7 C1269.1,1289.5 1276.7,1301.6 1281.7,1308.4 C1286.7,1315.2 1291.8,1323.3 1296.8,1326.5 C1301.8,1329.8 1304.7,1329.8 1311.9,1328.0 C1319.1,1326.3 1335.3,1318.0 1340.0,1316.0" fill="none" stroke="#6d6d6d" stroke-width="6.3999999999999995" stroke-linecap="round" stroke-linejoin="round"/>
<path d="M1266.6,1285.7 C1269.1,1289.5 1276.7,1301.6 1281.7,1308.4 C1286.7,1315.2 1291.8,1323.3 1296.8,1326.5 C1301.8,1329.8 1304.7,1329.8 1311.9,1328.0 C1319.1,1326.3 1335.3,1318.0 1340.0,1316.0" fill="none" stroke="#c4c4c4" stroke-width="4.6" stroke-linecap="round" stroke-linejoin="round"/>
<path d="M1266.6,1285.7 C1269.1,1289.5 1276.7,1301.6 1281.7,1308.4 C1286.7,1315.2 1291.8,1323.3 1296.8,1326.5 C1301.8,1329.8 1304.7,1329.8 1311.9,1328.0 C1319.1,1326.3 1335.3,1318.0 1340.0,1316.0" fill="none" stroke="#e6e6e6" stroke-width="1.4" stroke-linecap="round" transform="translate(-0.6,-0.6)"/>
<polygon points="1198.0,1395.7 1199.2,1393.7 1200.3,1391.3 1201.4,1388.5 1202.4,1385.3 1203.5,1381.8 1204.6,1378.0 1205.6,1374.1 1206.6,1370.0 1207.7,1365.9 1208.7,1361.8 1209.8,1357.8 1210.8,1354.0 1211.9,1350.4 1213.0,1347.1 1214.0,1344.1 1215.1,1341.5 1216.3,1339.3 1217.4,1337.6 1218.5,1336.5 1219.7,1335.8 1220.9,1335.7 1196.9,1336.6 1195.7,1336.7 1194.6,1337.4 1193.4,1338.5 1192.3,1340.2 1191.2,1342.4 1190.1,1345.0 1189.0,1347.9 1187.9,1351.3 1186.8,1354.9 1185.8,1358.7 1184.8,1362.7 1183.7,1366.8 1182.7,1370.9 1181.6,1375.0 1180.6,1378.9 1179.5,1382.7 1178.5,1386.2 1177.4,1389.4 1176.3,1392.2 1175.2,1394.6 1174.1,1396.6" fill="#666666" stroke="#4f4f4f" stroke-width="0.8" stroke-linejoin="round"/>
<polygon points="1251.9,1396.5 1253.1,1395.9 1254.2,1394.9 1255.4,1393.3 1256.5,1391.3 1257.6,1388.8 1258.7,1385.9 1259.7,1382.7 1260.8,1379.1 1261.9,1375.3 1262.9,1371.4 1263.9,1367.3 1265.0,1363.2 1266.0,1359.1 1267.1,1355.1 1268.1,1351.3 1269.2,1347.7 1270.3,1344.5 1271.3,1341.5 1272.4,1339.0 1273.6,1336.9 1274.7,1335.3 1275.9,1334.2 1277.0,1333.6 1278.2,1333.5 1254.2,1334.4 1253.0,1334.5 1251.9,1335.1 1250.7,1336.2 1249.6,1337.8 1248.5,1339.9 1247.4,1342.4 1246.3,1345.4 1245.2,1348.6 1244.1,1352.2 1243.1,1356.0 1242.0,1360.0 1241.0,1364.1 1240.0,1368.2 1238.9,1372.3 1237.9,1376.2 1236.8,1380.0 1235.8,1383.6 1234.7,1386.8 1233.6,1389.7 1232.5,1392.2 1231.4,1394.2 1230.2,1395.8 1229.1,1396.8 1227.9,1397.4" fill="#666666" stroke="#4f4f4f" stroke-width="0.8" stroke-linejoin="round"/>
<polygon points="1309.2,1394.3 1310.4,1393.7 1311.5,1392.5 1312.7,1390.9 1313.8,1388.8 1314.9,1386.3 1316.0,1383.3 1317.0,1380.0 1318.1,1376.4 1319.1,1372.6 1320.2,1368.6 1321.2,1364.6 1322.3,1360.4 1323.3,1356.4 1324.4,1352.4 1325.4,1348.6 1326.5,1345.1 1327.6,1341.9 1328.6,1339.0 1329.7,1336.5 1330.9,1334.5 1332.0,1333.0 1333.2,1331.9 1334.3,1331.4 1335.5,1331.4 1311.6,1332.3 1310.4,1332.3 1309.2,1332.8 1308.0,1333.9 1306.9,1335.4 1305.8,1337.4 1304.7,1339.9 1303.6,1342.8 1302.5,1346.0 1301.4,1349.5 1300.4,1353.3 1299.3,1357.3 1298.3,1361.3 1297.2,1365.5 1296.2,1369.5 1295.2,1373.5 1294.1,1377.3 1293.0,1380.9 1292.0,1384.2 1290.9,1387.2 1289.8,1389.7 1288.7,1391.8 1287.5,1393.4 1286.4,1394.6 1285.2,1395.2" fill="#666666" stroke="#4f4f4f" stroke-width="0.8" stroke-linejoin="round"/>
<polygon points="1220.9,1335.7 1222.1,1336.1 1223.3,1337.0 1224.6,1338.4 1225.9,1340.3 1227.1,1342.7 1228.4,1345.5 1229.8,1348.6 1231.1,1352.1 1232.4,1355.7 1233.8,1359.6 1235.1,1363.6 1236.5,1367.6 1237.8,1371.6 1239.1,1375.5 1240.5,1379.2 1241.8,1382.7 1243.1,1385.9 1244.4,1388.8 1245.7,1391.3 1247.0,1393.3 1248.2,1394.9 1249.5,1395.9 1250.7,1396.5 1251.9,1396.5 1227.9,1397.4 1226.7,1397.4 1225.5,1396.8 1224.3,1395.8 1223.0,1394.2 1221.7,1392.2 1220.4,1389.7 1219.1,1386.8 1217.8,1383.6 1216.5,1380.1 1215.2,1376.4 1213.8,1372.5 1212.5,1368.5 1211.1,1364.5 1209.8,1360.5 1208.4,1356.6 1207.1,1353.0 1205.8,1349.5 1204.5,1346.4 1203.2,1343.6 1201.9,1341.2 1200.6,1339.3 1199.4,1337.9 1198.1,1337.0 1196.9,1336.6" fill="#9c9c9c" stroke="#5a5a5a" stroke-width="0.9" stroke-linejoin="round"/>
<polygon points="1278.2,1333.5 1279.4,1334.0 1280.7,1335.0 1281.9,1336.5 1283.2,1338.5 1284.5,1340.9 1285.8,1343.8 1287.1,1347.0 1288.4,1350.4 1289.8,1354.1 1291.1,1358.0 1292.4,1362.0 1293.8,1366.0 1295.1,1370.0 1296.5,1373.9 1297.8,1377.6 1299.1,1381.1 1300.4,1384.2 1301.7,1387.0 1303.0,1389.5 1304.3,1391.4 1305.6,1392.9 1306.8,1393.9 1308.0,1394.4 1309.2,1394.3 1285.2,1395.2 1284.0,1395.3 1282.8,1394.8 1281.6,1393.8 1280.3,1392.3 1279.1,1390.4 1277.8,1387.9 1276.5,1385.1 1275.2,1382.0 1273.8,1378.5 1272.5,1374.8 1271.1,1370.9 1269.8,1366.9 1268.5,1362.9 1267.1,1358.9 1265.8,1355.0 1264.4,1351.3 1263.1,1347.9 1261.8,1344.7 1260.5,1341.8 1259.2,1339.4 1257.9,1337.4 1256.7,1335.9 1255.5,1334.9 1254.2,1334.4" fill="#9c9c9c" stroke="#5a5a5a" stroke-width="0.9" stroke-linejoin="round"/>
<polygon points="1335.5,1331.4 1336.8,1332.0 1338.0,1333.1 1339.2,1334.6 1340.5,1336.7 1341.8,1339.2 1343.1,1342.1 1344.4,1345.3 1345.8,1348.8 1347.1,1352.5 1348.4,1356.4 1349.8,1360.4 1351.1,1364.5 1352.5,1368.4 1353.8,1372.3 1355.1,1376.0 1356.5,1379.4 1357.8,1382.5 1333.8,1383.4 1332.5,1380.3 1331.2,1376.9 1329.8,1373.2 1328.5,1369.3 1327.1,1365.4 1325.8,1361.3 1324.4,1357.3 1323.1,1353.4 1321.8,1349.7 1320.4,1346.2 1319.1,1343.0 1317.8,1340.1 1316.5,1337.6 1315.3,1335.5 1314.0,1334.0 1312.8,1332.9 1311.6,1332.3" fill="#9c9c9c" stroke="#5a5a5a" stroke-width="0.9" stroke-linejoin="round"/>
<polygon points="1404.1,1499.4 1408.3,1500.1 1413.7,1501.0 1420.0,1501.9 1427.1,1503.0 1434.8,1504.2 1442.7,1505.5 1450.8,1506.9 1458.9,1508.4 1466.6,1509.9 1473.8,1511.4 1480.8,1513.0 1487.8,1514.7 1494.9,1516.6 1502.0,1518.5 1509.1,1520.5 1516.2,1522.5 1523.2,1524.5 1530.1,1526.5 1536.9,1528.4 1543.5,1530.3 1550.2,1532.2 1557.1,1534.1 1564.1,1536.1 1571.1,1538.1 1577.9,1540.0 1584.3,1541.8 1590.2,1543.5 1595.5,1545.0 1600.0,1546.3 1603.5,1547.3 1606.5,1536.7 1603.0,1535.7 1598.5,1534.4 1593.2,1532.9 1587.3,1531.2 1580.9,1529.4 1574.1,1527.5 1567.1,1525.5 1560.1,1523.5 1553.2,1521.6 1546.5,1519.7 1539.9,1517.9 1533.2,1515.9 1526.3,1513.9 1519.2,1511.9 1512.1,1509.9 1504.9,1507.9 1497.7,1505.9 1490.5,1504.1 1483.3,1502.3 1476.2,1500.6 1468.8,1499.1 1460.9,1497.6 1452.7,1496.1 1444.5,1494.7 1436.5,1493.4 1428.8,1492.2 1421.7,1491.1 1415.4,1490.1 1410.0,1489.3 1405.9,1488.6" fill="#8a8a8a" stroke="#5a5a5a" stroke-width="1.0" stroke-linejoin="round"/>
<polygon points="1404.0,1504.4 1408.2,1505.2 1413.6,1506.1 1419.9,1507.2 1427.0,1508.4 1434.7,1509.8 1442.7,1511.2 1450.8,1512.7 1458.8,1514.2 1466.6,1515.8 1473.8,1517.4 1480.8,1519.0 1487.8,1520.7 1494.9,1522.5 1502.1,1524.4 1509.2,1526.4 1516.3,1528.3 1523.3,1530.3 1530.2,1532.2 1537.0,1534.0 1543.6,1535.8 1550.3,1537.6 1557.2,1539.4 1564.2,1541.3 1571.2,1543.2 1578.0,1545.0 1584.4,1546.7 1590.3,1548.3 1595.6,1549.7 1600.1,1550.9 1603.6,1551.8 1606.4,1541.2 1602.9,1540.2 1598.4,1539.1 1593.1,1537.6 1587.2,1536.1 1580.8,1534.3 1574.0,1532.5 1567.0,1530.7 1560.0,1528.8 1553.1,1527.0 1546.4,1525.2 1539.8,1523.4 1533.1,1521.6 1526.2,1519.7 1519.2,1517.7 1512.1,1515.8 1504.9,1513.8 1497.7,1511.9 1490.5,1510.1 1483.3,1508.3 1476.2,1506.6 1468.8,1505.0 1460.9,1503.4 1452.8,1501.9 1444.6,1500.4 1436.6,1498.9 1428.9,1497.6 1421.8,1496.4 1415.5,1495.3 1410.1,1494.3 1406.0,1493.6" fill="#c6c6c6" stroke="#5a5a5a" stroke-width="1.0" stroke-linejoin="round"/>
<polygon points="1403.9,1509.4 1408.1,1510.2 1413.5,1511.2 1419.8,1512.4 1426.9,1513.8 1434.6,1515.3 1442.6,1516.8 1450.7,1518.5 1458.8,1520.1 1466.5,1521.7 1473.8,1523.4 1480.8,1525.0 1487.8,1526.7 1495.0,1528.5 1502.1,1530.4 1509.2,1532.3 1516.3,1534.1 1523.3,1536.0 1530.2,1537.8 1537.0,1539.6 1543.6,1541.3 1550.3,1543.0 1557.3,1544.8 1564.3,1546.5 1571.3,1548.3 1578.0,1550.0 1584.5,1551.6 1590.4,1553.0 1595.7,1554.3 1600.1,1555.5 1603.7,1556.3 1606.3,1545.7 1602.8,1544.8 1598.3,1543.7 1593.1,1542.4 1587.1,1540.9 1580.7,1539.3 1573.9,1537.6 1567.0,1535.9 1559.9,1534.1 1553.0,1532.4 1546.4,1530.7 1539.8,1529.0 1533.0,1527.2 1526.1,1525.4 1519.1,1523.5 1512.0,1521.6 1504.9,1519.7 1497.7,1517.9 1490.5,1516.1 1483.3,1514.3 1476.2,1512.6 1468.9,1511.0 1461.0,1509.3 1452.9,1507.7 1444.7,1506.0 1436.7,1504.5 1429.0,1503.0 1421.9,1501.6 1415.6,1500.4 1410.2,1499.4 1406.1,1498.6" fill="#8a8a8a" stroke="#5a5a5a" stroke-width="1.0" stroke-linejoin="round"/>
<polygon points="1403.9,1514.4 1408.0,1515.3 1413.4,1516.4 1419.7,1517.7 1426.8,1519.2 1434.5,1520.8 1442.5,1522.5 1450.6,1524.2 1458.7,1526.0 1466.5,1527.7 1473.8,1529.4 1480.8,1531.0 1487.8,1532.7 1495.0,1534.5 1502.1,1536.3 1509.3,1538.1 1516.4,1540.0 1523.4,1541.8 1530.3,1543.5 1537.1,1545.2 1543.7,1546.8 1550.4,1548.5 1557.3,1550.1 1564.4,1551.8 1571.4,1553.4 1578.1,1555.0 1584.6,1556.4 1590.5,1557.8 1595.8,1559.0 1600.2,1560.0 1603.8,1560.9 1606.2,1550.1 1602.7,1549.3 1598.2,1548.3 1593.0,1547.1 1587.0,1545.7 1580.6,1544.2 1573.8,1542.7 1566.9,1541.0 1559.9,1539.4 1553.0,1537.8 1546.3,1536.2 1539.7,1534.5 1533.0,1532.9 1526.1,1531.1 1519.1,1529.3 1512.0,1527.5 1504.8,1525.7 1497.7,1523.8 1490.5,1522.1 1483.3,1520.3 1476.2,1518.6 1468.9,1517.0 1461.1,1515.2 1453.0,1513.5 1444.8,1511.7 1436.8,1510.0 1429.1,1508.4 1422.0,1506.9 1415.6,1505.6 1410.3,1504.5 1406.1,1503.6" fill="#c6c6c6" stroke="#5a5a5a" stroke-width="1.0" stroke-linejoin="round"/>
<polygon points="1403.8,1519.4 1407.9,1520.3 1413.3,1521.5 1419.6,1523.0 1426.7,1524.6 1434.4,1526.3 1442.4,1528.1 1450.6,1530.0 1458.6,1531.8 1466.4,1533.6 1473.7,1535.4 1480.8,1537.0 1487.9,1538.7 1495.0,1540.5 1502.2,1542.3 1509.3,1544.0 1516.4,1545.8 1523.4,1547.5 1530.4,1549.2 1537.1,1550.8 1543.8,1552.4 1550.5,1553.9 1557.4,1555.4 1564.5,1557.0 1571.4,1558.5 1578.2,1559.9 1584.7,1561.3 1590.6,1562.6 1595.9,1563.7 1600.3,1564.6 1603.8,1565.4 1606.2,1554.6 1602.6,1553.9 1598.1,1552.9 1592.9,1551.8 1586.9,1550.5 1580.5,1549.2 1573.8,1547.7 1566.8,1546.2 1559.8,1544.7 1552.9,1543.2 1546.2,1541.6 1539.7,1540.1 1532.9,1538.5 1526.0,1536.8 1519.0,1535.1 1511.9,1533.3 1504.8,1531.6 1497.6,1529.8 1490.5,1528.1 1483.3,1526.3 1476.3,1524.6 1468.9,1522.9 1461.1,1521.1 1453.0,1519.3 1444.9,1517.4 1436.8,1515.6 1429.2,1513.8 1422.1,1512.2 1415.7,1510.8 1410.4,1509.6 1406.2,1508.6" fill="#8a8a8a" stroke="#5a5a5a" stroke-width="1.0" stroke-linejoin="round"/>
<polygon points="1403.7,1524.3 1407.9,1525.4 1413.2,1526.7 1419.6,1528.2 1426.7,1529.9 1434.3,1531.8 1442.3,1533.8 1450.5,1535.7 1458.6,1537.7 1466.4,1539.6 1473.7,1541.3 1480.8,1543.0 1487.9,1544.8 1495.0,1546.5 1502.2,1548.2 1509.3,1549.9 1516.5,1551.6 1523.5,1553.3 1530.4,1554.9 1537.2,1556.4 1543.8,1557.9 1550.5,1559.3 1557.5,1560.8 1564.5,1562.2 1571.5,1563.6 1578.3,1564.9 1584.8,1566.2 1590.7,1567.3 1596.0,1568.3 1600.4,1569.2 1603.9,1569.9 1606.1,1559.1 1602.5,1558.4 1598.0,1557.5 1592.8,1556.5 1586.8,1555.4 1580.4,1554.1 1573.7,1552.8 1566.7,1551.4 1559.7,1550.0 1552.8,1548.6 1546.2,1547.1 1539.6,1545.7 1532.9,1544.1 1526.0,1542.5 1519.0,1540.9 1511.9,1539.2 1504.8,1537.5 1497.6,1535.8 1490.4,1534.1 1483.3,1532.3 1476.3,1530.7 1469.0,1528.9 1461.2,1527.0 1453.1,1525.1 1444.9,1523.1 1436.9,1521.1 1429.3,1519.3 1422.2,1517.5 1415.8,1516.0 1410.5,1514.7 1406.3,1513.7" fill="#c6c6c6" stroke="#5a5a5a" stroke-width="1.0" stroke-linejoin="round"/>
<polygon points="977.4,1432.8 980.0,1430.7 982.9,1428.0 986.2,1424.6 989.7,1420.7 993.5,1416.3 997.4,1411.4 1001.6,1406.3 1005.8,1400.9 1010.1,1395.4 1014.3,1390.0 1018.5,1384.6 1022.7,1379.4 1026.7,1374.5 1030.4,1370.0 1034.0,1366.1 1037.3,1362.6 1040.3,1359.8 1042.9,1357.7 1045.2,1356.3 1047.1,1355.8 1048.6,1355.9 1049.8,1356.9 1019.2,1342.2 1018.0,1341.2 1016.5,1341.0 1014.6,1341.6 1012.3,1342.9 1009.6,1345.0 1006.7,1347.8 1003.4,1351.3 999.8,1355.3 996.0,1359.7 992.1,1364.6 987.9,1369.8 983.7,1375.2 979.4,1380.7 975.2,1386.1 970.9,1391.5 966.8,1396.6 962.9,1401.5 959.1,1405.9 955.6,1409.9 952.3,1413.2 949.4,1416.0 946.8,1418.0" fill="#787878" stroke="#4f4f4f" stroke-width="0.8" stroke-linejoin="round"/>
<polygon points="1036.6,1465.2 1038.5,1464.7 1040.8,1463.4 1043.4,1461.3 1046.3,1458.6 1049.6,1455.2 1053.1,1451.3 1056.9,1446.9 1060.8,1442.0 1065.0,1436.9 1069.2,1431.5 1073.5,1426.0 1077.7,1420.6 1081.9,1415.2 1086.1,1410.0 1090.1,1405.1 1093.8,1400.6 1097.4,1396.7 1100.7,1393.2 1103.7,1390.4 1106.3,1388.3 1108.6,1386.9 1110.5,1386.4 1112.0,1386.5 1113.2,1387.5 1082.6,1372.8 1081.4,1371.8 1079.9,1371.6 1078.0,1372.2 1075.7,1373.5 1073.0,1375.6 1070.1,1378.4 1066.8,1381.9 1063.2,1385.9 1059.4,1390.3 1055.5,1395.2 1051.3,1400.4 1047.1,1405.8 1042.8,1411.3 1038.6,1416.7 1034.3,1422.1 1030.2,1427.2 1026.3,1432.1 1022.5,1436.5 1019.0,1440.5 1015.7,1443.8 1012.8,1446.6 1010.2,1448.6 1007.9,1449.9 1006.0,1450.4" fill="#787878" stroke="#4f4f4f" stroke-width="0.8" stroke-linejoin="round"/>
<polygon points="1100.0,1495.8 1101.9,1495.3 1104.2,1494.0 1106.8,1491.9 1109.7,1489.2 1113.0,1485.8 1116.5,1481.9 1120.3,1477.5 1124.2,1472.6 1128.4,1467.5 1132.6,1462.1 1136.9,1456.6 1141.1,1451.2 1145.3,1445.8 1149.5,1440.6 1153.5,1435.7 1157.2,1431.2 1160.8,1427.3 1164.1,1423.8 1167.1,1421.0 1169.7,1418.9 1172.0,1417.5 1173.9,1417.0 1175.4,1417.1 1176.6,1418.1 1146.0,1403.4 1144.8,1402.4 1143.3,1402.2 1141.4,1402.8 1139.1,1404.1 1136.4,1406.2 1133.5,1409.0 1130.2,1412.5 1126.6,1416.5 1122.8,1420.9 1118.9,1425.8 1114.7,1431.0 1110.5,1436.4 1106.2,1441.9 1102.0,1447.3 1097.7,1452.7 1093.6,1457.8 1089.7,1462.7 1085.9,1467.1 1082.4,1471.1 1079.1,1474.4 1076.2,1477.2 1073.6,1479.2 1071.3,1480.5 1069.4,1481.0" fill="#787878" stroke="#4f4f4f" stroke-width="0.8" stroke-linejoin="round"/>
<polygon points="1163.4,1526.4 1165.3,1525.9 1167.6,1524.6 1170.2,1522.5 1173.1,1519.8 1176.4,1516.4 1179.9,1512.5 1183.7,1508.1 1187.6,1503.2 1191.8,1498.1 1196.0,1492.7 1200.3,1487.2 1204.5,1481.8 1208.7,1476.4 1212.9,1471.2 1216.9,1466.3 1220.6,1461.8 1224.2,1457.9 1227.5,1454.4 1230.5,1451.6 1233.1,1449.5 1235.4,1448.1 1237.3,1447.6 1238.8,1447.7 1240.0,1448.7 1209.4,1434.0 1208.2,1433.0 1206.7,1432.8 1204.8,1433.4 1202.5,1434.7 1199.8,1436.8 1196.9,1439.6 1193.6,1443.1 1190.0,1447.1 1186.2,1451.5 1182.3,1456.4 1178.1,1461.6 1173.9,1467.0 1169.6,1472.5 1165.4,1477.9 1161.1,1483.3 1157.0,1488.4 1153.1,1493.3 1149.3,1497.7 1145.8,1501.7 1142.5,1505.0 1139.6,1507.8 1137.0,1509.8 1134.7,1511.1 1132.8,1511.6" fill="#787878" stroke="#4f4f4f" stroke-width="0.8" stroke-linejoin="round"/>
<polygon points="1226.8,1557.0 1228.7,1556.5 1231.0,1555.2 1233.6,1553.1 1236.5,1550.4 1239.8,1547.0 1243.3,1543.1 1247.1,1538.7 1251.0,1533.8 1255.2,1528.7 1259.4,1523.3 1263.7,1517.8 1267.9,1512.4 1272.1,1507.0 1276.3,1501.8 1280.3,1496.9 1284.0,1492.4 1287.6,1488.5 1290.9,1485.0 1293.9,1482.2 1296.5,1480.1 1298.8,1478.7 1300.7,1478.2 1302.2,1478.3 1303.4,1479.3 1272.8,1464.6 1271.6,1463.6 1270.1,1463.4 1268.2,1464.0 1265.9,1465.3 1263.2,1467.4 1260.3,1470.2 1257.0,1473.7 1253.4,1477.7 1249.6,1482.1 1245.7,1487.0 1241.5,1492.2 1237.3,1497.6 1233.0,1503.1 1228.8,1508.5 1224.5,1513.9 1220.4,1519.0 1216.5,1523.9 1212.7,1528.3 1209.2,1532.3 1205.9,1535.6 1203.0,1538.4 1200.4,1540.4 1198.1,1541.7 1196.2,1542.2" fill="#787878" stroke="#4f4f4f" stroke-width="0.8" stroke-linejoin="round"/>
<polygon points="1290.2,1587.6 1292.1,1587.1 1294.4,1585.8 1263.8,1571.0 1261.5,1572.3 1259.6,1572.8" fill="#787878" stroke="#4f4f4f" stroke-width="0.8" stroke-linejoin="round"/>
<polygon points="1049.8,1356.9 1050.6,1358.7 1050.9,1361.3 1051.0,1364.6 1050.7,1368.6 1050.1,1373.3 1049.2,1378.5 1048.0,1384.2 1046.7,1390.3 1045.2,1396.7 1043.7,1403.4 1042.0,1410.1 1040.4,1416.9 1038.8,1423.5 1037.3,1430.0 1036.0,1436.1 1034.9,1441.9 1033.9,1447.2 1033.3,1451.9 1033.0,1455.9 1033.0,1459.3 1033.3,1462.0 1034.0,1463.8 1035.1,1464.9 1036.6,1465.2 1006.0,1450.4 1004.5,1450.1 1003.4,1449.0 1002.7,1447.2 1002.3,1444.5 1002.3,1441.2 1002.7,1437.1 1003.3,1432.4 1004.2,1427.1 1005.4,1421.3 1006.7,1415.2 1008.2,1408.7 1009.8,1402.1 1011.4,1395.3 1013.1,1388.6 1014.6,1382.0 1016.1,1375.5 1017.4,1369.4 1018.5,1363.7 1019.4,1358.5 1020.1,1353.8 1020.4,1349.8 1020.3,1346.5 1019.9,1344.0 1019.2,1342.2" fill="url(#gHf)" stroke="#5a5a5a" stroke-width="0.9" stroke-linejoin="round"/>
<polygon points="1113.2,1387.5 1114.0,1389.3 1114.3,1391.9 1114.4,1395.2 1114.1,1399.2 1113.5,1403.9 1112.6,1409.1 1111.4,1414.8 1110.1,1420.9 1108.6,1427.3 1107.1,1434.0 1105.4,1440.7 1103.8,1447.5 1102.2,1454.1 1100.7,1460.6 1099.4,1466.7 1098.3,1472.5 1097.3,1477.8 1096.7,1482.5 1096.4,1486.5 1096.4,1489.9 1096.7,1492.6 1097.4,1494.4 1098.5,1495.5 1100.0,1495.8 1069.4,1481.0 1067.9,1480.7 1066.8,1479.6 1066.1,1477.8 1065.7,1475.1 1065.7,1471.8 1066.1,1467.7 1066.7,1463.0 1067.6,1457.7 1068.8,1451.9 1070.1,1445.8 1071.6,1439.3 1073.2,1432.7 1074.8,1425.9 1076.5,1419.2 1078.0,1412.6 1079.5,1406.1 1080.8,1400.0 1081.9,1394.3 1082.8,1389.1 1083.5,1384.4 1083.8,1380.4 1083.7,1377.1 1083.3,1374.6 1082.6,1372.8" fill="url(#gHf)" stroke="#5a5a5a" stroke-width="0.9" stroke-linejoin="round"/>
<polygon points="1176.6,1418.1 1177.4,1419.9 1177.7,1422.5 1177.8,1425.8 1177.5,1429.8 1176.9,1434.5 1176.0,1439.7 1174.8,1445.4 1173.5,1451.5 1172.0,1457.9 1170.5,1464.6 1168.8,1471.3 1167.2,1478.1 1165.6,1484.7 1164.1,1491.2 1162.8,1497.3 1161.7,1503.1 1160.7,1508.4 1160.1,1513.1 1159.8,1517.1 1159.8,1520.5 1160.1,1523.2 1160.8,1525.0 1161.9,1526.1 1163.4,1526.4 1132.8,1511.6 1131.3,1511.3 1130.2,1510.2 1129.5,1508.4 1129.1,1505.7 1129.1,1502.4 1129.5,1498.3 1130.1,1493.6 1131.0,1488.3 1132.2,1482.5 1133.5,1476.4 1135.0,1469.9 1136.6,1463.3 1138.2,1456.5 1139.9,1449.8 1141.4,1443.2 1142.9,1436.7 1144.2,1430.6 1145.3,1424.9 1146.2,1419.7 1146.9,1415.0 1147.2,1411.0 1147.1,1407.7 1146.7,1405.2 1146.0,1403.4" fill="url(#gHf)" stroke="#5a5a5a" stroke-width="0.9" stroke-linejoin="round"/>
<polygon points="1240.0,1448.7 1240.8,1450.5 1241.1,1453.1 1241.2,1456.4 1240.9,1460.4 1240.3,1465.1 1239.4,1470.3 1238.2,1476.0 1236.9,1482.1 1235.4,1488.5 1233.9,1495.2 1232.2,1501.9 1230.6,1508.7 1229.0,1515.3 1227.5,1521.8 1226.2,1527.9 1225.1,1533.7 1224.1,1539.0 1223.5,1543.7 1223.2,1547.7 1223.2,1551.1 1223.5,1553.8 1224.2,1555.6 1225.3,1556.7 1226.8,1557.0 1196.2,1542.2 1194.7,1541.9 1193.6,1540.8 1192.9,1539.0 1192.5,1536.3 1192.5,1533.0 1192.9,1528.9 1193.5,1524.2 1194.4,1518.9 1195.6,1513.1 1196.9,1507.0 1198.4,1500.5 1200.0,1493.9 1201.6,1487.1 1203.3,1480.4 1204.8,1473.8 1206.3,1467.3 1207.6,1461.2 1208.7,1455.5 1209.6,1450.3 1210.3,1445.6 1210.6,1441.6 1210.5,1438.3 1210.1,1435.8 1209.4,1434.0" fill="url(#gHf)" stroke="#5a5a5a" stroke-width="0.9" stroke-linejoin="round"/>
<polygon points="1303.4,1479.3 1304.2,1481.1 1304.5,1483.7 1304.6,1487.0 1304.3,1491.0 1303.7,1495.7 1302.8,1500.9 1301.6,1506.6 1300.3,1512.7 1298.8,1519.1 1297.3,1525.8 1295.6,1532.5 1294.0,1539.3 1292.4,1545.9 1290.9,1552.4 1289.6,1558.5 1288.5,1564.3 1287.5,1569.6 1286.9,1574.3 1286.6,1578.3 1286.6,1581.7 1286.9,1584.4 1287.6,1586.2 1288.7,1587.3 1290.2,1587.6 1259.6,1572.8 1258.1,1572.5 1257.0,1571.4 1256.3,1569.6 1255.9,1566.9 1255.9,1563.6 1256.3,1559.5 1256.9,1554.8 1257.8,1549.5 1259.0,1543.7 1260.3,1537.6 1261.8,1531.1 1263.4,1524.5 1265.0,1517.7 1266.7,1511.0 1268.2,1504.4 1269.7,1497.9 1271.0,1491.8 1272.1,1486.1 1273.0,1480.9 1273.7,1476.2 1274.0,1472.2 1273.9,1468.9 1273.5,1466.4 1272.8,1464.6" fill="url(#gHf)" stroke="#5a5a5a" stroke-width="0.9" stroke-linejoin="round"/>
<polygon points="986.5,1454.3 987.6,1453.7 988.5,1452.5 989.4,1450.8 990.1,1448.5 990.7,1445.7 991.3,1442.5 991.7,1438.9 992.1,1434.9 992.4,1430.7 992.7,1426.2 992.9,1421.6 993.2,1417.0 993.4,1412.4 993.7,1407.9 994.0,1403.5 994.3,1399.4 994.7,1395.6 995.2,1392.2 995.8,1389.1 996.5,1386.6 997.3,1384.6 998.2,1383.1 999.2,1382.2 1000.4,1381.9 978.8,1386.5 977.7,1386.8 976.7,1387.7 975.7,1389.2 975.0,1391.2 974.3,1393.7 973.7,1396.7 973.2,1400.1 972.8,1404.0 972.4,1408.1 972.2,1412.4 971.9,1416.9 971.7,1421.6 971.4,1426.2 971.2,1430.8 970.9,1435.2 970.6,1439.5 970.2,1443.5 969.8,1447.1 969.2,1450.3 968.6,1453.1 967.9,1455.4 967.0,1457.1 966.0,1458.3 964.9,1458.9" fill="#787878" stroke="#4f4f4f" stroke-width="0.8" stroke-linejoin="round"/>
<polygon points="965.4,1424.0 967.5,1428.2 969.6,1432.2 971.6,1436.2 973.6,1439.8 975.6,1443.2 977.4,1446.3 979.2,1448.9 980.9,1451.0 982.5,1452.7 983.9,1453.8 985.3,1454.4 986.5,1454.3 964.9,1458.9 963.7,1458.9 962.4,1458.4 960.9,1457.3 959.4,1455.6 957.7,1453.5 955.9,1450.8 954.1,1447.8 952.1,1444.4 950.1,1440.7 948.1,1436.8 946.0,1432.7 943.9,1428.6" fill="url(#gHf)" stroke="#5a5a5a" stroke-width="0.9" stroke-linejoin="round"/>
<polygon points="1000.4,1381.9 1001.6,1382.2 1003.0,1383.0 1004.5,1384.4 1006.2,1386.3 1007.9,1388.7 1009.7,1391.5 1011.6,1394.8 1013.6,1398.3 1015.6,1402.1 1017.7,1406.1 1019.8,1410.2 1021.9,1414.4 1024.0,1418.5 1026.0,1422.5 1028.0,1426.3 1030.0,1429.8 1031.9,1433.1 1033.7,1435.9 1035.5,1438.3 1037.1,1440.2 1038.6,1441.6 1017.1,1446.1 1015.6,1444.8 1013.9,1442.8 1012.2,1440.5 1010.4,1437.6 1008.5,1434.4 1006.5,1430.8 1004.5,1427.0 1002.4,1423.0 1000.3,1418.9 998.2,1414.8 996.2,1410.7 994.1,1406.7 992.1,1402.9 990.1,1399.3 988.2,1396.1 986.4,1393.3 984.6,1390.9 983.0,1389.0 981.5,1387.6 980.1,1386.7 978.8,1386.5" fill="url(#gHf)" stroke="#5a5a5a" stroke-width="0.9" stroke-linejoin="round"/>
<polygon points="1057.9,1612.0 1059.7,1612.6 1061.9,1613.3 1064.6,1614.2 1067.6,1615.3 1070.9,1616.4 1074.3,1617.5 1077.8,1618.7 1081.4,1619.9 1084.9,1621.0 1088.3,1622.1 1091.8,1623.2 1095.6,1624.3 1099.6,1625.5 1103.6,1626.7 1107.6,1627.8 1111.4,1629.0 1114.9,1630.0 1118.1,1630.9 1120.7,1631.7 1122.8,1632.3 1128.9,1611.1 1126.9,1610.5 1124.2,1609.8 1121.0,1608.8 1117.5,1607.8 1113.7,1606.7 1109.8,1605.6 1105.8,1604.4 1101.9,1603.3 1098.2,1602.2 1094.9,1601.1 1091.7,1600.1 1088.3,1599.0 1084.8,1597.8 1081.3,1596.7 1077.9,1595.5 1074.7,1594.4 1071.7,1593.4 1069.0,1592.5 1066.7,1591.7 1064.9,1591.1" fill="#6e6e6e" stroke="#5a5a5a" stroke-width="1.0" stroke-linejoin="round"/>
<polygon points="967.1,1465.1 971.2,1467.3 976.7,1470.2 983.0,1473.5 990.0,1477.2 997.6,1481.2 1005.4,1485.4 1013.2,1489.8 1020.9,1494.2 1028.1,1498.6 1034.6,1502.8 1040.8,1507.0 1046.9,1511.4 1053.0,1516.0 1059.1,1520.7 1065.0,1525.5 1071.0,1530.4 1076.8,1535.3 1082.5,1540.2 1088.2,1545.2 1093.7,1550.1 1099.1,1554.9 1104.4,1559.8 1109.6,1564.6 1114.6,1569.4 1119.6,1574.2 1124.4,1579.1 1129.1,1584.0 1133.8,1589.0 1138.4,1594.1 1142.9,1599.2 1147.4,1604.7 1152.1,1610.8 1157.0,1617.3 1161.8,1624.0 1166.5,1630.7 1171.0,1637.2 1175.1,1643.2 1178.8,1648.6 1182.0,1653.2 1184.5,1656.8 1204.1,1643.0 1201.7,1639.5 1198.6,1635.0 1194.9,1629.6 1190.7,1623.5 1186.2,1617.0 1181.3,1610.1 1176.3,1603.2 1171.3,1596.3 1166.2,1589.8 1161.2,1583.7 1156.4,1578.2 1151.5,1572.7 1146.6,1567.5 1141.5,1562.3 1136.4,1557.1 1131.3,1552.1 1126.0,1547.1 1120.7,1542.1 1115.2,1537.1 1109.7,1532.2 1104.0,1527.2 1098.2,1522.1 1092.3,1517.0 1086.3,1511.9 1080.2,1506.9 1073.9,1501.9 1067.6,1496.9 1061.1,1492.1 1054.6,1487.4 1047.9,1482.8 1040.8,1478.2 1033.1,1473.5 1025.1,1468.9 1016.9,1464.4 1008.9,1460.1 1001.2,1456.0 994.1,1452.2 987.8,1448.9 982.6,1446.2 978.5,1444.0" fill="url(#gS)" stroke="#5a5a5a" stroke-width="1.0" stroke-linejoin="round"/>
<polygon points="885.3,1499.6 889.5,1501.7 894.8,1504.3 901.1,1507.3 908.0,1510.7 915.6,1514.4 923.5,1518.3 931.7,1522.3 939.8,1526.5 947.8,1530.6 955.5,1534.7 963.2,1538.9 971.2,1543.3 979.4,1547.9 987.7,1552.6 996.1,1557.4 1004.5,1562.2 1012.7,1567.0 1020.7,1571.7 1028.3,1576.3 1035.5,1580.7 1042.5,1585.0 1049.2,1589.0 1055.6,1593.0 1061.8,1596.8 1067.8,1600.6 1073.5,1604.4 1079.1,1608.1 1084.4,1612.0 1089.6,1615.9 1094.5,1620.0 1099.5,1624.4 1104.5,1629.3 1109.5,1634.6 1114.5,1640.0 1119.3,1645.5 1115.0,1649.0 1146.0,1660.0 1140.2,1627.6 1135.9,1631.1 1130.9,1625.4 1125.6,1619.5 1120.1,1613.8 1114.5,1608.3 1108.8,1603.3 1103.2,1598.7 1097.5,1594.3 1091.7,1590.1 1085.8,1586.1 1079.7,1582.1 1073.5,1578.2 1067.1,1574.2 1060.6,1570.3 1053.9,1566.2 1047.0,1561.9 1039.7,1557.5 1031.9,1552.8 1023.8,1548.1 1015.5,1543.2 1007.1,1538.3 998.6,1533.5 990.2,1528.7 981.8,1524.1 973.7,1519.6 965.9,1515.3 958.0,1511.1 949.8,1506.9 941.5,1502.7 933.3,1498.6 925.3,1494.6 917.7,1490.9 910.7,1487.5 904.4,1484.5 899.2,1481.9 895.1,1479.9" fill="url(#gS)" stroke="#5a5a5a" stroke-width="1.0" stroke-linejoin="round"/>
<polygon points="884.6,1601.9 885.8,1598.5 887.0,1595.6 888.3,1593.3 889.7,1591.6 891.1,1590.5 892.6,1590.0 862.7,1592.7 861.2,1593.1 859.8,1594.2 858.5,1596.0 857.1,1598.3 855.9,1601.2 854.7,1604.6" fill="#787878" stroke="#4f4f4f" stroke-width="0.8" stroke-linejoin="round"/>
<polygon points="935.3,1662.5 936.8,1662.1 938.2,1661.0 939.5,1659.2 940.9,1656.9 942.1,1654.0 943.3,1650.6 944.5,1646.8 945.6,1642.5 946.7,1637.9 947.8,1633.1 948.9,1628.1 949.9,1623.1 951.0,1618.0 952.1,1613.0 953.2,1608.2 954.3,1603.6 955.4,1599.4 956.6,1595.5 957.8,1592.1 959.0,1589.2 960.3,1586.9 961.7,1585.2 963.1,1584.1 964.6,1583.6 934.7,1586.3 933.2,1586.7 931.8,1587.8 930.5,1589.6 929.1,1591.9 927.9,1594.8 926.7,1598.2 925.5,1602.0 924.4,1606.3 923.3,1610.8 922.2,1615.7 921.1,1620.6 920.1,1625.7 919.0,1630.8 917.9,1635.8 916.8,1640.6 915.7,1645.2 914.6,1649.4 913.4,1653.3 912.2,1656.7 911.0,1659.6 909.7,1661.9 908.3,1663.6 906.9,1664.7 905.4,1665.2" fill="#787878" stroke="#4f4f4f" stroke-width="0.8" stroke-linejoin="round"/>
<polygon points="1007.3,1656.1 1008.8,1655.7 1010.2,1654.6 1011.5,1652.8 1012.9,1650.5 1014.1,1647.6 1015.3,1644.2 1016.5,1640.4 1017.6,1636.1 1018.7,1631.5 1019.8,1626.7 1020.9,1621.7 1021.9,1616.7 1023.0,1611.6 1024.1,1606.6 1025.2,1601.8 1026.3,1597.2 1027.4,1593.0 1028.6,1589.1 1029.8,1585.7 1031.0,1582.8 1032.3,1580.5 1033.7,1578.8 1035.1,1577.7 1036.6,1577.2 1006.7,1579.9 1005.2,1580.3 1003.8,1581.4 1002.5,1583.2 1001.1,1585.5 999.9,1588.4 998.7,1591.8 997.5,1595.6 996.4,1599.9 995.3,1604.4 994.2,1609.3 993.1,1614.2 992.1,1619.3 991.0,1624.4 989.9,1629.4 988.8,1634.2 987.7,1638.8 986.6,1643.0 985.4,1646.9 984.2,1650.3 983.0,1653.2 981.7,1655.5 980.3,1657.2 978.9,1658.3 977.4,1658.8" fill="#787878" stroke="#4f4f4f" stroke-width="0.8" stroke-linejoin="round"/>
<polygon points="892.6,1590.0 894.1,1590.2 895.7,1591.0 897.3,1592.5 899.0,1594.6 900.8,1597.2 902.6,1600.3 904.4,1603.9 906.3,1607.9 908.2,1612.2 910.1,1616.7 912.0,1621.5 913.9,1626.3 915.9,1631.1 917.8,1635.8 919.7,1640.4 921.6,1644.7 923.5,1648.7 925.3,1652.2 927.1,1655.4 928.9,1658.0 930.5,1660.0 932.2,1661.5 933.8,1662.3 935.3,1662.5 905.4,1665.2 903.9,1665.0 902.3,1664.2 900.7,1662.7 899.0,1660.6 897.2,1658.0 895.4,1654.9 893.6,1651.3 891.7,1647.3 889.8,1643.0 887.9,1638.5 886.0,1633.7 884.1,1628.9 882.1,1624.1 880.2,1619.4 878.3,1614.9 876.4,1610.5 874.5,1606.6 872.7,1603.0 870.9,1599.8 869.1,1597.2 867.5,1595.2 865.8,1593.7 864.2,1592.9 862.7,1592.7" fill="url(#gHf)" stroke="#5a5a5a" stroke-width="0.9" stroke-linejoin="round"/>
<polygon points="964.6,1583.6 966.1,1583.8 967.7,1584.6 969.3,1586.1 971.0,1588.2 972.8,1590.8 974.6,1593.9 976.4,1597.5 978.3,1601.5 980.2,1605.8 982.1,1610.3 984.0,1615.1 985.9,1619.9 987.9,1624.7 989.8,1629.4 991.7,1634.0 993.6,1638.3 995.5,1642.3 997.3,1645.8 999.1,1649.0 1000.9,1651.6 1002.5,1653.6 1004.2,1655.1 1005.8,1655.9 1007.3,1656.1 977.4,1658.8 975.9,1658.6 974.3,1657.8 972.7,1656.3 971.0,1654.2 969.2,1651.6 967.4,1648.5 965.6,1644.9 963.7,1640.9 961.8,1636.6 959.9,1632.1 958.0,1627.3 956.1,1622.5 954.1,1617.7 952.2,1613.0 950.3,1608.5 948.4,1604.1 946.5,1600.2 944.7,1596.6 942.9,1593.4 941.1,1590.8 939.5,1588.8 937.8,1587.3 936.2,1586.5 934.7,1586.3" fill="url(#gHf)" stroke="#5a5a5a" stroke-width="0.9" stroke-linejoin="round"/>
<polygon points="1036.6,1577.2 1038.1,1577.4 1039.7,1578.2 1041.3,1579.7 1043.0,1581.8 1044.8,1584.4 1046.6,1587.5 1048.4,1591.1 1050.3,1595.1 1052.2,1599.4 1054.1,1603.9 1056.0,1608.7 1057.9,1613.5 1059.9,1618.3 1061.8,1623.0 1063.7,1627.6 1065.6,1631.9 1067.5,1635.9 1069.3,1639.4 1039.4,1642.1 1037.6,1638.5 1035.7,1634.5 1033.8,1630.2 1031.9,1625.7 1030.0,1620.9 1028.1,1616.1 1026.1,1611.3 1024.2,1606.6 1022.3,1602.1 1020.4,1597.7 1018.5,1593.8 1016.7,1590.2 1014.9,1587.0 1013.1,1584.4 1011.5,1582.4 1009.8,1580.9 1008.2,1580.1 1006.7,1579.9" fill="url(#gHf)" stroke="#5a5a5a" stroke-width="0.9" stroke-linejoin="round"/>
<path d="M866.0,1432.4 C867.0,1433.0 870.7,1435.1 872.1,1436.4 C873.4,1437.7 871.1,1439.1 874.1,1440.4 C877.1,1441.8 882.5,1442.1 890.2,1444.5 C897.9,1446.8 913.0,1452.8 920.4,1454.5 C927.8,1456.2 932.2,1454.5 934.5,1454.5" fill="none" stroke="#6d6d6d" stroke-width="6.3999999999999995" stroke-linecap="round" stroke-linejoin="round"/>
<path d="M866.0,1432.4 C867.0,1433.0 870.7,1435.1 872.1,1436.4 C873.4,1437.7 871.1,1439.1 874.1,1440.4 C877.1,1441.8 882.5,1442.1 890.2,1444.5 C897.9,1446.8 913.0,1452.8 920.4,1454.5 C927.8,1456.2 932.2,1454.5 934.5,1454.5" fill="none" stroke="#c4c4c4" stroke-width="4.6" stroke-linecap="round" stroke-linejoin="round"/>
<path d="M866.0,1432.4 C867.0,1433.0 870.7,1435.1 872.1,1436.4 C873.4,1437.7 871.1,1439.1 874.1,1440.4 C877.1,1441.8 882.5,1442.1 890.2,1444.5 C897.9,1446.8 913.0,1452.8 920.4,1454.5 C927.8,1456.2 932.2,1454.5 934.5,1454.5" fill="none" stroke="#e6e6e6" stroke-width="1.4" stroke-linecap="round" transform="translate(-0.6,-0.6)"/>
<path d="M874.1,1440.4 C875.1,1443.8 877.5,1453.2 880.1,1460.6 C882.8,1467.9 888.5,1480.7 890.2,1484.7" fill="none" stroke="#6d6d6d" stroke-width="6.3999999999999995" stroke-linecap="round" stroke-linejoin="round"/>
<path d="M874.1,1440.4 C875.1,1443.8 877.5,1453.2 880.1,1460.6 C882.8,1467.9 888.5,1480.7 890.2,1484.7" fill="none" stroke="#c4c4c4" stroke-width="4.6" stroke-linecap="round" stroke-linejoin="round"/>
<path d="M874.1,1440.4 C875.1,1443.8 877.5,1453.2 880.1,1460.6 C882.8,1467.9 888.5,1480.7 890.2,1484.7" fill="none" stroke="#e6e6e6" stroke-width="1.4" stroke-linecap="round" transform="translate(-0.6,-0.6)"/>
<path d="M936.5,1533.1 C932.2,1534.4 916.4,1536.4 910.4,1541.1 C904.3,1545.8 903.0,1552.9 900.3,1561.3 C897.6,1569.7 895.9,1585.1 894.2,1591.5 C892.6,1597.9 890.9,1598.2 890.2,1599.5" fill="none" stroke="#6d6d6d" stroke-width="6.3999999999999995" stroke-linecap="round" stroke-linejoin="round"/>
<path d="M936.5,1533.1 C932.2,1534.4 916.4,1536.4 910.4,1541.1 C904.3,1545.8 903.0,1552.9 900.3,1561.3 C897.6,1569.7 895.9,1585.1 894.2,1591.5 C892.6,1597.9 890.9,1598.2 890.2,1599.5" fill="none" stroke="#c4c4c4" stroke-width="4.6" stroke-linecap="round" stroke-linejoin="round"/>
<path d="M936.5,1533.1 C932.2,1534.4 916.4,1536.4 910.4,1541.1 C904.3,1545.8 903.0,1552.9 900.3,1561.3 C897.6,1569.7 895.9,1585.1 894.2,1591.5 C892.6,1597.9 890.9,1598.2 890.2,1599.5" fill="none" stroke="#e6e6e6" stroke-width="1.4" stroke-linecap="round" transform="translate(-0.6,-0.6)"/>
<polygon points="1170.5,1638.6 1171.3,1640.0 1172.3,1641.7 1173.6,1643.9 1175.0,1646.3 1176.5,1648.9 1178.0,1651.5 1179.6,1654.2 1181.2,1656.8 1182.8,1659.2 1184.2,1661.4 1185.7,1663.5 1187.2,1665.4 1188.6,1667.2 1190.0,1668.9 1191.4,1670.5 1192.7,1671.9 1193.8,1673.2 1194.7,1674.2 1195.5,1675.0 1196.0,1675.7 1212.7,1661.3 1212.0,1660.5 1211.1,1659.5 1210.1,1658.4 1209.0,1657.2 1207.9,1656.0 1206.8,1654.7 1205.6,1653.3 1204.5,1651.9 1203.4,1650.4 1202.4,1649.0 1201.2,1647.3 1199.9,1645.2 1198.5,1642.8 1197.0,1640.3 1195.4,1637.7 1194.0,1635.2 1192.6,1632.8 1191.4,1630.7 1190.3,1628.9 1189.5,1627.5" fill="#bdbdbd" stroke="#5a5a5a" stroke-width="1.0" stroke-linejoin="round"/>
<polygon points="1233.0,1731.8 1228.6,1732.9 1224.2,1733.4 1219.6,1733.3 1215.2,1732.5 1210.8,1731.0 1206.7,1729.0 1202.8,1726.4 1199.4,1723.2 1196.3,1719.6 1193.8,1715.5 1191.7,1711.1 1190.3,1706.4 1189.5,1701.6 1189.3,1696.6 1189.8,1691.6 1190.9,1686.6 1192.7,1681.8 1195.0,1677.2 1197.9,1672.9 1201.4,1668.9 1205.3,1665.4 1209.6,1662.5 1214.3,1660.0 1219.3,1658.2 1209.9,1661.5 1204.9,1663.4 1200.2,1665.8 1195.9,1668.8 1192.0,1672.3 1188.5,1676.2 1185.6,1680.5 1183.2,1685.1 1181.5,1690.0 1180.4,1694.9 1179.9,1699.9 1180.1,1704.9 1180.9,1709.8 1182.3,1714.5 1184.3,1718.9 1186.9,1722.9 1189.9,1726.6 1193.4,1729.7 1197.3,1732.3 1201.4,1734.4 1205.7,1735.8 1210.2,1736.6 1214.7,1736.8 1219.2,1736.3 1223.6,1735.1" fill="#5a5a5a" stroke="#4f4f4f" stroke-width="0.8" stroke-linejoin="round"/>
<polygon points="1248.3,1726.2 1243.9,1727.0 1239.4,1727.2 1234.9,1726.7 1230.5,1725.6 1226.2,1723.8 1222.2,1721.5 1218.5,1718.6 1215.3,1715.2 1212.5,1711.4 1210.2,1707.1 1208.5,1702.6 1207.3,1697.8 1206.8,1692.8 1207.0,1687.8 1207.8,1682.8 1209.2,1677.9 1199.8,1681.3 1198.4,1686.2 1197.6,1691.2 1197.4,1696.2 1197.9,1701.1 1199.0,1705.9 1200.8,1710.5 1203.0,1714.7 1205.9,1718.6 1209.1,1722.0 1212.8,1724.9 1216.8,1727.2 1221.0,1728.9 1225.5,1730.0 1230.0,1730.5 1234.5,1730.4 1238.9,1729.5" fill="#5a5a5a" stroke="#4f4f4f" stroke-width="0.8" stroke-linejoin="round"/>
<polygon points="1251.6,1685.9 1253.3,1690.4 1254.3,1695.2 1254.8,1699.9 1254.5,1704.6 1253.7,1709.2 1252.2,1713.6 1250.2,1717.8 1247.6,1721.5 1244.5,1724.9 1241.0,1727.7 1237.1,1730.0 1233.0,1731.8 1223.6,1735.1 1227.7,1733.4 1231.6,1731.1 1235.1,1728.2 1238.2,1724.9 1240.8,1721.1 1242.8,1717.0 1244.3,1712.6 1245.1,1708.0 1245.3,1703.3 1244.9,1698.5 1243.8,1693.8 1242.1,1689.2" fill="url(#gHf)" stroke="#5a5a5a" stroke-width="0.9" stroke-linejoin="round"/>
<polygon points="1219.3,1658.2 1224.4,1656.9 1229.6,1656.3 1234.9,1656.4 1240.1,1657.1 1245.1,1658.4 1249.9,1660.3 1254.4,1662.8 1258.5,1665.8 1262.2,1669.3 1265.4,1673.2 1268.0,1677.4 1270.0,1681.9 1271.4,1686.5 1272.1,1691.3 1272.2,1696.0 1271.7,1700.7 1270.5,1705.2 1268.8,1709.5 1266.4,1713.4 1263.6,1717.0 1260.3,1720.1 1256.6,1722.7 1252.6,1724.7 1248.3,1726.2 1238.9,1729.5 1243.2,1728.1 1247.2,1726.1 1250.9,1723.5 1254.2,1720.4 1257.0,1716.8 1259.4,1712.9 1261.1,1708.6 1262.3,1704.1 1262.8,1699.4 1262.7,1694.6 1262.0,1689.9 1260.6,1685.3 1258.6,1680.8 1255.9,1676.6 1252.8,1672.7 1249.1,1669.2 1245.0,1666.2 1240.5,1663.7 1235.7,1661.8 1230.7,1660.4 1225.5,1659.7 1220.2,1659.7 1215.0,1660.3 1209.9,1661.5" fill="url(#gHf)" stroke="#5a5a5a" stroke-width="0.9" stroke-linejoin="round"/>
<polygon points="1304.3,1698.5 1305.3,1697.7 1306.2,1696.3 1307.0,1694.4 1307.8,1692.0 1308.5,1689.1 1309.1,1685.7 1309.7,1682.0 1310.2,1678.0 1310.7,1673.7 1311.2,1669.2 1311.7,1664.7 1312.2,1660.1 1312.6,1655.5 1313.1,1651.1 1313.6,1647.0 1314.2,1643.0 1314.8,1639.4 1315.5,1636.3 1316.2,1633.5 1317.0,1631.3 1317.8,1629.6 1318.8,1628.4 1319.8,1627.8 1320.9,1627.8 1295.2,1631.4 1294.1,1631.4 1293.0,1632.0 1292.1,1633.2 1291.2,1634.9 1290.4,1637.1 1289.7,1639.9 1289.0,1643.1 1288.4,1646.6 1287.9,1650.6 1287.4,1654.8 1286.9,1659.2 1286.4,1663.7 1285.9,1668.3 1285.5,1672.8 1285.0,1677.3 1284.5,1681.6 1283.9,1685.6 1283.4,1689.3 1282.7,1692.7 1282.0,1695.6 1281.3,1698.0 1280.4,1700.0 1279.5,1701.3 1278.5,1702.1" fill="#787878" stroke="#4f4f4f" stroke-width="0.8" stroke-linejoin="round"/>
<polygon points="1356.4,1691.1 1357.3,1690.1 1358.2,1688.6 1359.0,1686.5 1359.8,1684.0 1360.5,1680.9 1361.1,1677.5 1361.7,1673.6 1362.2,1669.5 1362.7,1665.2 1363.2,1660.7 1363.6,1656.1 1364.1,1651.6 1364.6,1647.1 1365.1,1642.7 1365.6,1638.6 1366.2,1634.7 1366.8,1631.3 1367.5,1628.2 1368.2,1625.6 1369.0,1623.5 1369.9,1621.9 1370.9,1620.9 1371.9,1620.5 1346.2,1624.1 1345.1,1624.5 1344.2,1625.5 1343.3,1627.1 1342.5,1629.2 1341.7,1631.8 1341.0,1634.9 1340.4,1638.4 1339.9,1642.2 1339.3,1646.3 1338.8,1650.7 1338.4,1655.2 1337.9,1659.7 1337.4,1664.3 1336.9,1668.8 1336.4,1673.1 1335.9,1677.3 1335.3,1681.1 1334.7,1684.5 1334.0,1687.6 1333.3,1690.1 1332.5,1692.2 1331.6,1693.7 1330.6,1694.7" fill="#787878" stroke="#4f4f4f" stroke-width="0.8" stroke-linejoin="round"/>
<polygon points="1407.4,1684.2 1408.5,1683.6 1409.4,1682.5 1383.7,1686.1 1382.7,1687.2 1381.7,1687.8" fill="#787878" stroke="#4f4f4f" stroke-width="0.8" stroke-linejoin="round"/>
<polygon points="1293.5,1685.2 1295.1,1688.5 1296.6,1691.5 1298.1,1694.0 1299.5,1696.0 1300.8,1697.5 1302.0,1698.4 1303.2,1698.8 1304.3,1698.5 1278.5,1702.1 1277.4,1702.4 1276.3,1702.0 1275.1,1701.1 1273.7,1699.6 1272.3,1697.6 1270.9,1695.1 1269.4,1692.1 1267.8,1688.8" fill="url(#gHf)" stroke="#5a5a5a" stroke-width="0.9" stroke-linejoin="round"/>
<polygon points="1320.9,1627.8 1322.1,1628.4 1323.4,1629.5 1324.7,1631.2 1326.1,1633.4 1327.6,1636.1 1329.2,1639.2 1330.8,1642.7 1332.4,1646.5 1334.1,1650.5 1335.7,1654.6 1337.5,1658.9 1339.2,1663.2 1340.9,1667.4 1342.5,1671.4 1344.2,1675.3 1345.8,1678.9 1347.4,1682.1 1348.9,1684.9 1350.3,1687.3 1351.7,1689.2 1353.0,1690.5 1354.2,1691.3 1355.3,1691.5 1356.4,1691.1 1330.6,1694.7 1329.6,1695.1 1328.4,1694.9 1327.2,1694.1 1325.9,1692.8 1324.6,1690.9 1323.1,1688.5 1321.6,1685.7 1320.0,1682.5 1318.4,1678.9 1316.8,1675.1 1315.1,1671.0 1313.4,1666.8 1311.7,1662.5 1310.0,1658.2 1308.3,1654.1 1306.6,1650.1 1305.0,1646.3 1303.4,1642.8 1301.9,1639.7 1300.4,1637.1 1299.0,1634.8 1297.6,1633.2 1296.4,1632.0 1295.2,1631.4" fill="url(#gHf)" stroke="#5a5a5a" stroke-width="0.9" stroke-linejoin="round"/>
<polygon points="1371.9,1620.5 1373.0,1620.6 1374.3,1621.4 1375.5,1622.7 1376.9,1624.5 1378.3,1626.9 1379.8,1629.6 1381.4,1632.9 1383.0,1636.4 1384.7,1640.3 1386.3,1644.3 1388.0,1648.5 1389.7,1652.8 1391.4,1657.0 1393.1,1661.2 1394.8,1665.2 1396.4,1669.0 1398.0,1672.5 1399.6,1675.6 1401.1,1678.4 1402.5,1680.6 1403.8,1682.3 1405.1,1683.5 1406.3,1684.1 1407.4,1684.2 1381.7,1687.8 1380.6,1687.7 1379.4,1687.1 1378.1,1685.9 1376.7,1684.2 1375.3,1682.0 1373.8,1679.3 1372.3,1676.1 1370.7,1672.6 1369.1,1668.9 1367.4,1664.8 1365.7,1660.7 1364.0,1656.4 1362.3,1652.1 1360.6,1647.9 1358.9,1643.9 1357.3,1640.0 1355.7,1636.5 1354.1,1633.3 1352.6,1630.5 1351.2,1628.1 1349.8,1626.3 1348.5,1625.0 1347.3,1624.3 1346.2,1624.1" fill="url(#gHf)" stroke="#5a5a5a" stroke-width="0.9" stroke-linejoin="round"/>
<polygon points="1359.4,1487.3 1359.7,1488.7 1360.7,1490.1 1362.3,1491.5 1364.5,1493.0 1367.1,1494.5 1370.3,1496.0 1373.9,1497.5 1377.8,1499.0 1382.0,1500.6 1386.5,1502.1 1391.1,1503.7 1395.7,1505.3 1400.4,1506.9 1404.9,1508.4 1409.2,1510.0 1413.3,1511.5 1417.1,1513.1 1420.5,1514.6 1423.4,1516.1 1425.8,1517.6 1427.7,1519.0 1429.0,1520.4 1429.6,1521.8 1429.7,1523.2 1431.1,1493.2 1431.0,1491.8 1430.4,1490.5 1429.1,1489.0 1427.2,1487.6 1424.8,1486.1 1421.9,1484.6 1418.5,1483.1 1414.7,1481.6 1410.6,1480.0 1406.3,1478.5 1401.8,1476.9 1397.1,1475.3 1392.5,1473.8 1387.9,1472.2 1383.4,1470.6 1379.2,1469.1 1375.3,1467.5 1371.7,1466.0 1368.5,1464.5 1365.9,1463.0 1363.7,1461.5 1362.1,1460.1 1361.1,1458.7 1360.8,1457.3" fill="#787878" stroke="#4f4f4f" stroke-width="0.8" stroke-linejoin="round"/>
<polygon points="1356.3,1552.3 1356.8,1553.7 1357.9,1555.1 1359.5,1556.5 1361.7,1558.0 1364.5,1559.5 1367.7,1561.0 1371.3,1562.5 1375.3,1564.1 1379.5,1565.6 1384.0,1567.2 1388.6,1568.8 1393.3,1570.3 1397.9,1571.9 1402.4,1573.5 1406.7,1575.0 1410.8,1576.6 1414.5,1578.1 1417.8,1579.6 1420.7,1581.1 1423.0,1582.6 1424.8,1584.0 1426.0,1585.4 1426.7,1586.8 1426.7,1588.2 1428.1,1558.2 1428.1,1556.9 1427.4,1555.5 1426.2,1554.1 1424.4,1552.6 1422.1,1551.1 1419.2,1549.7 1415.9,1548.1 1412.2,1546.6 1408.1,1545.1 1403.8,1543.5 1399.3,1541.9 1394.7,1540.4 1390.0,1538.8 1385.4,1537.2 1380.9,1535.7 1376.7,1534.1 1372.7,1532.6 1369.1,1531.0 1365.9,1529.5 1363.1,1528.0 1360.9,1526.6 1359.3,1525.1 1358.2,1523.7 1357.7,1522.4" fill="#787878" stroke="#4f4f4f" stroke-width="0.8" stroke-linejoin="round"/>
<polygon points="1353.3,1617.3 1353.9,1618.7 1355.0,1620.1 1356.7,1621.6 1359.0,1623.0 1361.8,1624.5 1365.1,1626.0 1368.7,1627.6 1372.8,1629.1 1377.0,1630.7 1381.5,1632.2 1386.1,1633.8 1390.8,1635.4 1395.4,1636.9 1399.9,1638.5 1404.2,1640.1 1408.2,1641.6 1411.9,1643.1 1415.2,1644.7 1418.0,1646.1 1420.2,1647.6 1422.0,1649.0 1423.1,1650.5 1423.7,1651.8 1423.6,1653.2 1425.0,1623.2 1425.1,1621.9 1424.5,1620.5 1423.4,1619.1 1421.6,1617.6 1419.4,1616.2 1416.6,1614.7 1413.3,1613.2 1409.6,1611.6 1405.6,1610.1 1401.3,1608.5 1396.8,1607.0 1392.2,1605.4 1387.5,1603.8 1382.9,1602.3 1378.4,1600.7 1374.2,1599.1 1370.1,1597.6 1366.5,1596.1 1363.2,1594.5 1360.4,1593.1 1358.1,1591.6 1356.4,1590.2 1355.3,1588.7 1354.7,1587.4" fill="#787878" stroke="#4f4f4f" stroke-width="0.8" stroke-linejoin="round"/>
<polygon points="1350.3,1682.3 1350.9,1683.7 1352.1,1685.1 1353.9,1686.6 1356.3,1688.1 1359.1,1689.5 1362.5,1691.1 1366.2,1692.6 1370.2,1694.1 1374.6,1695.7 1379.1,1697.3 1383.7,1698.8 1388.3,1700.4 1392.9,1702.0 1397.4,1703.5 1398.8,1673.6 1394.3,1672.0 1389.7,1670.4 1385.1,1668.9 1380.5,1667.3 1376.0,1665.7 1371.6,1664.2 1367.6,1662.6 1363.9,1661.1 1360.5,1659.6 1357.7,1658.1 1355.3,1656.6 1353.6,1655.2 1352.3,1653.8 1351.7,1652.4" fill="#787878" stroke="#4f4f4f" stroke-width="0.8" stroke-linejoin="round"/>
<polygon points="1429.7,1523.2 1429.2,1524.5 1428.0,1525.8 1426.3,1527.1 1424.0,1528.3 1421.1,1529.6 1417.8,1530.8 1414.1,1531.9 1410.0,1533.1 1405.6,1534.3 1401.0,1535.4 1396.3,1536.5 1391.5,1537.7 1386.8,1538.8 1382.1,1539.9 1377.7,1541.1 1373.5,1542.3 1369.6,1543.4 1366.1,1544.6 1363.1,1545.8 1360.6,1547.1 1358.7,1548.4 1357.3,1549.6 1356.5,1551.0 1356.3,1552.3 1357.7,1522.4 1357.9,1521.0 1358.7,1519.7 1360.1,1518.4 1362.0,1517.1 1364.5,1515.9 1367.5,1514.7 1371.0,1513.5 1374.9,1512.3 1379.1,1511.1 1383.5,1510.0 1388.2,1508.8 1392.9,1507.7 1397.7,1506.6 1402.4,1505.4 1407.0,1504.3 1411.4,1503.1 1415.5,1502.0 1419.2,1500.8 1422.5,1499.6 1425.4,1498.4 1427.7,1497.1 1429.4,1495.8 1430.6,1494.5 1431.1,1493.2" fill="url(#gHf)" stroke="#5a5a5a" stroke-width="0.9" stroke-linejoin="round"/>
<polygon points="1426.7,1588.2 1426.0,1589.5 1424.8,1590.8 1423.0,1592.1 1420.6,1593.3 1417.7,1594.6 1414.4,1595.8 1410.6,1596.9 1406.5,1598.1 1402.1,1599.2 1397.4,1600.4 1392.7,1601.5 1387.9,1602.7 1383.2,1603.8 1378.6,1604.9 1374.1,1606.1 1370.0,1607.2 1366.1,1608.4 1362.7,1609.6 1359.8,1610.8 1357.3,1612.1 1355.4,1613.4 1354.1,1614.7 1353.4,1616.0 1353.3,1617.3 1354.7,1587.4 1354.8,1586.0 1355.5,1584.7 1356.8,1583.4 1358.7,1582.1 1361.2,1580.9 1364.1,1579.7 1367.5,1578.5 1371.4,1577.3 1375.5,1576.1 1380.0,1575.0 1384.6,1573.8 1389.3,1572.7 1394.1,1571.6 1398.8,1570.4 1403.5,1569.3 1407.9,1568.1 1412.0,1567.0 1415.8,1565.8 1419.1,1564.6 1422.0,1563.4 1424.4,1562.1 1426.2,1560.8 1427.4,1559.5 1428.1,1558.2" fill="url(#gHf)" stroke="#5a5a5a" stroke-width="0.9" stroke-linejoin="round"/>
<polygon points="1423.6,1653.2 1422.9,1654.5 1421.6,1655.8 1419.7,1657.1 1417.3,1658.3 1414.3,1659.5 1410.9,1660.7 1407.1,1661.9 1402.9,1663.1 1398.5,1664.2 1393.8,1665.4 1389.1,1666.5 1384.3,1667.6 1379.6,1668.8 1375.0,1669.9 1370.6,1671.1 1366.5,1672.2 1362.7,1673.4 1359.3,1674.6 1356.4,1675.8 1354.0,1677.1 1352.2,1678.4 1351.0,1679.7 1350.3,1681.0 1350.3,1682.3 1351.7,1652.4 1351.7,1651.0 1352.4,1649.7 1353.6,1648.4 1355.4,1647.1 1357.8,1645.9 1360.7,1644.7 1364.1,1643.5 1367.9,1642.3 1372.0,1641.1 1376.4,1640.0 1381.0,1638.8 1385.7,1637.7 1390.5,1636.5 1395.2,1635.4 1399.9,1634.3 1404.3,1633.1 1408.5,1632.0 1412.3,1630.8 1415.7,1629.6 1418.7,1628.4 1421.1,1627.1 1423.0,1625.8 1424.3,1624.5 1425.0,1623.2" fill="url(#gHf)" stroke="#5a5a5a" stroke-width="0.9" stroke-linejoin="round"/>
<polygon points="1399.8,1669.3 1400.9,1669.9 1402.5,1670.1 1404.7,1670.0 1407.2,1669.6 1410.2,1668.8 1413.5,1667.8 1417.2,1666.5 1421.2,1664.9 1425.4,1663.3 1429.7,1661.4 1434.2,1659.5 1438.7,1657.6 1443.2,1655.7 1447.5,1653.9 1451.7,1652.2 1455.7,1650.6 1459.5,1649.3 1462.9,1648.2 1465.9,1647.4 1468.5,1646.9 1470.7,1646.8 1472.4,1647.0 1473.6,1647.5 1474.3,1648.5 1456.1,1624.6 1455.4,1623.7 1454.2,1623.1 1452.5,1622.9 1450.3,1623.1 1447.7,1623.6 1444.7,1624.4 1441.3,1625.4 1437.6,1626.8 1433.6,1628.3 1429.3,1630.0 1425.0,1631.9 1420.5,1633.8 1416.0,1635.7 1411.5,1637.6 1407.2,1639.4 1403.0,1641.1 1399.0,1642.6 1395.3,1643.9 1392.0,1645.0 1389.0,1645.7 1386.5,1646.2 1384.4,1646.3 1382.7,1646.0 1381.6,1645.4" fill="#787878" stroke="#4f4f4f" stroke-width="0.8" stroke-linejoin="round"/>
<polygon points="1434.7,1714.9 1436.0,1715.4 1437.8,1715.5 1440.0,1715.3 1442.7,1714.8 1445.8,1713.9 1449.3,1712.8 1453.0,1711.4 1457.1,1709.8 1461.3,1708.1 1465.7,1706.2 1470.2,1704.3 1474.7,1702.4 1479.1,1700.5 1483.5,1698.7 1487.6,1697.1 1491.5,1695.6 1495.2,1694.3 1498.5,1693.3 1501.4,1692.6 1503.9,1692.2 1505.9,1692.2 1507.4,1692.5 1508.5,1693.2 1509.1,1694.3 1490.9,1670.4 1490.3,1669.3 1489.2,1668.6 1487.7,1668.3 1485.7,1668.4 1483.2,1668.7 1480.3,1669.5 1477.0,1670.5 1473.3,1671.7 1469.4,1673.2 1465.3,1674.9 1460.9,1676.7 1456.5,1678.6 1452.0,1680.5 1447.5,1682.4 1443.1,1684.2 1438.9,1686.0 1434.8,1687.6 1431.1,1688.9 1427.6,1690.1 1424.5,1690.9 1421.8,1691.5 1419.6,1691.7 1417.8,1691.5 1416.5,1691.0" fill="#787878" stroke="#4f4f4f" stroke-width="0.8" stroke-linejoin="round"/>
<polygon points="1469.6,1760.5 1471.1,1760.9 1473.0,1760.9 1475.4,1760.6 1478.2,1759.9 1481.4,1759.0 1485.0,1757.8 1488.9,1756.3 1493.0,1754.7 1497.3,1752.9 1501.7,1751.0 1506.2,1749.1 1510.7,1747.2 1515.1,1745.4 1519.4,1743.6 1523.5,1742.0 1527.3,1740.6 1530.8,1739.4 1534.0,1738.4 1515.8,1714.6 1512.6,1715.5 1509.1,1716.7 1505.3,1718.1 1501.2,1719.7 1496.9,1721.5 1492.5,1723.4 1488.0,1725.3 1483.5,1727.2 1479.1,1729.1 1474.8,1730.8 1470.7,1732.5 1466.8,1733.9 1463.2,1735.1 1460.0,1736.1 1457.2,1736.7 1454.8,1737.0 1452.9,1737.0 1451.4,1736.6" fill="#787878" stroke="#4f4f4f" stroke-width="0.8" stroke-linejoin="round"/>
<polygon points="1412.6,1644.4 1409.8,1648.0 1407.3,1651.5 1404.9,1654.8 1402.9,1657.8 1401.3,1660.6 1400.1,1663.0 1399.3,1665.1 1398.9,1666.9 1399.1,1668.2 1399.8,1669.3 1381.6,1645.4 1380.9,1644.4 1380.8,1643.0 1381.1,1641.3 1381.9,1639.1 1383.1,1636.7 1384.7,1633.9 1386.7,1630.9 1389.1,1627.6 1391.7,1624.2 1394.4,1620.5" fill="url(#gHf)" stroke="#5a5a5a" stroke-width="0.9" stroke-linejoin="round"/>
<polygon points="1474.3,1648.5 1474.6,1649.8 1474.3,1651.5 1473.6,1653.6 1472.4,1656.0 1470.8,1658.7 1468.9,1661.7 1466.6,1664.9 1464.0,1668.4 1461.3,1672.0 1458.3,1675.8 1455.3,1679.6 1452.3,1683.4 1449.3,1687.2 1446.4,1690.9 1443.6,1694.5 1441.1,1697.9 1438.9,1701.1 1437.0,1704.1 1435.5,1706.7 1434.4,1709.1 1433.7,1711.1 1433.6,1712.7 1433.9,1714.0 1434.7,1714.9 1416.5,1691.0 1415.7,1690.1 1415.4,1688.9 1415.5,1687.2 1416.2,1685.2 1417.3,1682.9 1418.8,1680.2 1420.7,1677.3 1422.9,1674.1 1425.4,1670.6 1428.2,1667.0 1431.1,1663.3 1434.1,1659.5 1437.1,1655.7 1440.1,1651.9 1443.1,1648.2 1445.8,1644.5 1448.4,1641.1 1450.7,1637.9 1452.6,1634.9 1454.2,1632.1 1455.4,1629.7 1456.1,1627.7 1456.4,1626.0 1456.1,1624.6" fill="url(#gHf)" stroke="#5a5a5a" stroke-width="0.9" stroke-linejoin="round"/>
<polygon points="1509.1,1694.3 1509.1,1695.7 1508.7,1697.5 1507.9,1699.7 1506.6,1702.2 1504.9,1705.0 1502.8,1708.1 1500.4,1711.4 1497.8,1714.9 1495.0,1718.5 1492.0,1722.3 1489.0,1726.1 1486.0,1729.9 1483.0,1733.7 1480.1,1737.4 1477.5,1740.9 1475.0,1744.3 1472.9,1747.4 1471.1,1750.3 1469.7,1752.9 1468.8,1755.1 1468.2,1757.0 1468.2,1758.5 1468.7,1759.7 1469.6,1760.5 1451.4,1736.6 1450.5,1735.8 1450.0,1734.7 1450.1,1733.1 1450.6,1731.3 1451.5,1729.0 1452.9,1726.4 1454.7,1723.6 1456.8,1720.4 1459.3,1717.1 1461.9,1713.5 1464.8,1709.9 1467.8,1706.1 1470.8,1702.3 1473.8,1698.4 1476.8,1694.7 1479.6,1691.0 1482.2,1687.5 1484.6,1684.2 1486.7,1681.1 1488.4,1678.3 1489.7,1675.8 1490.5,1673.7 1491.0,1671.8 1490.9,1670.4" fill="url(#gHf)" stroke="#5a5a5a" stroke-width="0.9" stroke-linejoin="round"/>
<path d="M1264.2,1606.5 C1267.1,1607.6 1273.8,1613.1 1281.9,1613.1 C1290.0,1613.1 1302.6,1608.3 1312.9,1606.5 C1323.3,1604.6 1335.5,1603.9 1343.9,1602.0 C1352.4,1600.2 1360.6,1596.5 1363.9,1595.4" fill="none" stroke="#6d6d6d" stroke-width="6.3999999999999995" stroke-linecap="round" stroke-linejoin="round"/>
<path d="M1264.2,1606.5 C1267.1,1607.6 1273.8,1613.1 1281.9,1613.1 C1290.0,1613.1 1302.6,1608.3 1312.9,1606.5 C1323.3,1604.6 1335.5,1603.9 1343.9,1602.0 C1352.4,1600.2 1360.6,1596.5 1363.9,1595.4" fill="none" stroke="#c4c4c4" stroke-width="4.6" stroke-linecap="round" stroke-linejoin="round"/>
<path d="M1264.2,1606.5 C1267.1,1607.6 1273.8,1613.1 1281.9,1613.1 C1290.0,1613.1 1302.6,1608.3 1312.9,1606.5 C1323.3,1604.6 1335.5,1603.9 1343.9,1602.0 C1352.4,1600.2 1360.6,1596.5 1363.9,1595.4" fill="none" stroke="#e6e6e6" stroke-width="1.4" stroke-linecap="round" transform="translate(-0.6,-0.6)"/>
<path d="M1569.9,1540.0 C1569.2,1545.5 1564.0,1562.2 1565.5,1573.2 C1567.0,1584.3 1577.3,1593.5 1578.8,1606.5 C1580.3,1619.4 1575.1,1636.0 1574.4,1650.8 C1573.6,1665.5 1571.8,1684.0 1574.4,1695.1 C1576.9,1706.2 1586.9,1709.9 1589.9,1717.2 C1592.8,1724.6 1596.1,1732.0 1592.1,1739.4 C1588.0,1746.8 1571.0,1754.9 1565.5,1761.6 C1560.0,1768.2 1560.0,1776.3 1558.9,1779.3" fill="none" stroke="#6d6d6d" stroke-width="6.3999999999999995" stroke-linecap="round" stroke-linejoin="round"/>
<path d="M1569.9,1540.0 C1569.2,1545.5 1564.0,1562.2 1565.5,1573.2 C1567.0,1584.3 1577.3,1593.5 1578.8,1606.5 C1580.3,1619.4 1575.1,1636.0 1574.4,1650.8 C1573.6,1665.5 1571.8,1684.0 1574.4,1695.1 C1576.9,1706.2 1586.9,1709.9 1589.9,1717.2 C1592.8,1724.6 1596.1,1732.0 1592.1,1739.4 C1588.0,1746.8 1571.0,1754.9 1565.5,1761.6 C1560.0,1768.2 1560.0,1776.3 1558.9,1779.3" fill="none" stroke="#c4c4c4" stroke-width="4.6" stroke-linecap="round" stroke-linejoin="round"/>
<path d="M1569.9,1540.0 C1569.2,1545.5 1564.0,1562.2 1565.5,1573.2 C1567.0,1584.3 1577.3,1593.5 1578.8,1606.5 C1580.3,1619.4 1575.1,1636.0 1574.4,1650.8 C1573.6,1665.5 1571.8,1684.0 1574.4,1695.1 C1576.9,1706.2 1586.9,1709.9 1589.9,1717.2 C1592.8,1724.6 1596.1,1732.0 1592.1,1739.4 C1588.0,1746.8 1571.0,1754.9 1565.5,1761.6 C1560.0,1768.2 1560.0,1776.3 1558.9,1779.3" fill="none" stroke="#e6e6e6" stroke-width="1.4" stroke-linecap="round" transform="translate(-0.6,-0.6)"/>
<path d="M1525.6,1708.4 C1528.6,1710.2 1538.2,1714.3 1543.3,1719.5 C1548.5,1724.6 1552.9,1732.4 1556.6,1739.4 C1560.3,1746.4 1564.0,1757.9 1565.5,1761.6" fill="none" stroke="#6d6d6d" stroke-width="6.3999999999999995" stroke-linecap="round" stroke-linejoin="round"/>
<path d="M1525.6,1708.4 C1528.6,1710.2 1538.2,1714.3 1543.3,1719.5 C1548.5,1724.6 1552.9,1732.4 1556.6,1739.4 C1560.3,1746.4 1564.0,1757.9 1565.5,1761.6" fill="none" stroke="#c4c4c4" stroke-width="4.6" stroke-linecap="round" stroke-linejoin="round"/>
<path d="M1525.6,1708.4 C1528.6,1710.2 1538.2,1714.3 1543.3,1719.5 C1548.5,1724.6 1552.9,1732.4 1556.6,1739.4 C1560.3,1746.4 1564.0,1757.9 1565.5,1761.6" fill="none" stroke="#e6e6e6" stroke-width="1.4" stroke-linecap="round" transform="translate(-0.6,-0.6)"/>
<path d="M1180.0,1684.0 C1183.7,1683.6 1192.9,1681.8 1202.2,1681.8 C1211.4,1681.8 1225.0,1685.5 1235.4,1684.0 C1245.7,1682.5 1256.8,1678.5 1264.2,1672.9 C1271.6,1667.4 1277.1,1654.5 1279.7,1650.8" fill="none" stroke="#6d6d6d" stroke-width="6.3999999999999995" stroke-linecap="round" stroke-linejoin="round"/>
<path d="M1180.0,1684.0 C1183.7,1683.6 1192.9,1681.8 1202.2,1681.8 C1211.4,1681.8 1225.0,1685.5 1235.4,1684.0 C1245.7,1682.5 1256.8,1678.5 1264.2,1672.9 C1271.6,1667.4 1277.1,1654.5 1279.7,1650.8" fill="none" stroke="#c4c4c4" stroke-width="4.6" stroke-linecap="round" stroke-linejoin="round"/>
<path d="M1180.0,1684.0 C1183.7,1683.6 1192.9,1681.8 1202.2,1681.8 C1211.4,1681.8 1225.0,1685.5 1235.4,1684.0 C1245.7,1682.5 1256.8,1678.5 1264.2,1672.9 C1271.6,1667.4 1277.1,1654.5 1279.7,1650.8" fill="none" stroke="#e6e6e6" stroke-width="1.4" stroke-linecap="round" transform="translate(-0.6,-0.6)"/>
<polygon points="1615.7,1725.9 1616.6,1725.7 1617.4,1725.1 1618.3,1724.1 1619.2,1722.8 1620.0,1721.1 1620.9,1719.1 1621.8,1716.8 1622.7,1714.3 1623.5,1711.5 1624.4,1708.7 1625.3,1705.8 1626.1,1702.8 1627.0,1699.9 1627.9,1697.0 1628.8,1694.3 1629.6,1691.7 1630.5,1689.4 1631.4,1687.3 1632.2,1685.5 1633.1,1684.1 1613.1,1684.1 1612.2,1685.5 1611.4,1687.3 1610.5,1689.4 1609.6,1691.7 1608.8,1694.3 1607.9,1697.0 1607.0,1699.9 1606.1,1702.8 1605.3,1705.8 1604.4,1708.7 1603.5,1711.5 1602.7,1714.3 1601.8,1716.8 1600.9,1719.1 1600.0,1721.1 1599.2,1722.8 1598.3,1724.1 1597.4,1725.1 1596.6,1725.7 1595.7,1725.9" fill="#787878" stroke="#4f4f4f" stroke-width="0.8" stroke-linejoin="round"/>
<polygon points="1608.7,1714.5 1609.6,1717.0 1610.5,1719.3 1611.3,1721.2 1612.2,1722.9 1613.1,1724.2 1614.0,1725.2 1614.8,1725.8 1615.7,1725.9 1595.7,1725.9 1594.8,1725.8 1594.0,1725.2 1593.1,1724.2 1592.2,1722.9 1591.3,1721.2 1590.5,1719.3 1589.6,1717.0 1588.7,1714.5" fill="url(#gHf)" stroke="#5a5a5a" stroke-width="0.9" stroke-linejoin="round"/>
<path d="M1462.0,1412.0 C1460.3,1416.7 1452.0,1430.3 1452.0,1440.0 C1452.0,1449.7 1456.5,1461.3 1462.0,1470.0 C1467.5,1478.7 1478.7,1486.2 1485.0,1492.0 C1491.3,1497.8 1497.5,1502.8 1500.0,1505.0" fill="none" stroke="#6d6d6d" stroke-width="6.3999999999999995" stroke-linecap="round" stroke-linejoin="round"/>
<path d="M1462.0,1412.0 C1460.3,1416.7 1452.0,1430.3 1452.0,1440.0 C1452.0,1449.7 1456.5,1461.3 1462.0,1470.0 C1467.5,1478.7 1478.7,1486.2 1485.0,1492.0 C1491.3,1497.8 1497.5,1502.8 1500.0,1505.0" fill="none" stroke="#c4c4c4" stroke-width="4.6" stroke-linecap="round" stroke-linejoin="round"/>
<path d="M1462.0,1412.0 C1460.3,1416.7 1452.0,1430.3 1452.0,1440.0 C1452.0,1449.7 1456.5,1461.3 1462.0,1470.0 C1467.5,1478.7 1478.7,1486.2 1485.0,1492.0 C1491.3,1497.8 1497.5,1502.8 1500.0,1505.0" fill="none" stroke="#e6e6e6" stroke-width="1.4" stroke-linecap="round" transform="translate(-0.6,-0.6)"/>
<polygon points="1553.6,1555.7 1556.8,1556.3 1560.8,1557.2 1565.6,1558.2 1571.0,1559.3 1576.8,1560.5 1583.0,1561.8 1589.4,1563.1 1595.9,1564.4 1602.3,1565.6 1608.5,1566.6 1614.6,1567.6 1621.0,1568.6 1627.4,1569.5 1633.9,1570.4 1640.5,1571.2 1647.0,1572.1 1653.5,1573.0 1659.8,1573.9 1666.0,1574.8 1672.0,1575.7 1678.0,1576.8 1684.5,1577.9 1691.1,1579.1 1697.6,1580.4 1704.1,1581.6 1710.2,1582.9 1715.9,1584.0 1721.0,1585.0 1725.3,1585.9 1728.7,1586.5 1733.6,1561.0 1730.3,1560.4 1726.0,1559.5 1721.0,1558.5 1715.3,1557.4 1709.1,1556.1 1702.6,1554.9 1695.9,1553.6 1689.1,1552.3 1682.5,1551.1 1676.2,1550.1 1669.9,1549.1 1663.5,1548.1 1657.0,1547.2 1650.4,1546.3 1643.9,1545.5 1637.4,1544.6 1631.0,1543.7 1624.7,1542.9 1618.6,1541.9 1612.8,1541.0 1606.9,1540.0 1600.7,1538.8 1594.5,1537.6 1588.2,1536.3 1582.1,1535.1 1576.3,1533.9 1571.0,1532.7 1566.2,1531.7 1562.1,1530.9 1558.9,1530.2" fill="url(#gS)" stroke="#5a5a5a" stroke-width="1.0" stroke-linejoin="round"/>
<polygon points="1595.5,1521.3 1599.6,1521.5 1604.8,1521.8 1611.0,1522.2 1618.0,1522.6 1625.5,1523.0 1633.4,1523.4 1641.5,1523.9 1649.5,1524.3 1657.2,1524.6 1664.6,1524.9 1672.0,1525.2 1679.8,1525.4 1688.0,1525.7 1696.3,1525.9 1704.4,1526.1 1704.3,1530.5 1735.7,1515.8 1705.0,1499.7 1704.9,1504.1 1696.8,1503.9 1688.6,1503.7 1680.5,1503.5 1672.7,1503.2 1665.4,1503.0 1658.2,1502.7 1650.5,1502.3 1642.6,1501.9 1634.6,1501.5 1626.8,1501.0 1619.3,1500.6 1612.3,1500.2 1606.1,1499.9 1600.8,1499.6 1596.7,1499.3" fill="#7d7d7d" stroke="#5a5a5a" stroke-width="1.0" stroke-linejoin="round"/>
<polygon points="1593.7,1513.2 1598.1,1512.8 1603.7,1512.2 1610.4,1511.5 1617.9,1510.7 1626.0,1509.9 1634.4,1509.1 1642.8,1508.2 1651.1,1507.4 1658.9,1506.6 1666.1,1506.0 1672.9,1505.3 1679.6,1504.8 1686.2,1504.2 1692.8,1503.7 1699.3,1503.1 1705.7,1502.6 1711.9,1502.1 1718.0,1501.6 1723.9,1501.1 1729.6,1500.5 1735.3,1499.9 1741.0,1499.3 1746.6,1498.7 1747.3,1503.4 1775.6,1483.1 1743.3,1470.1 1743.9,1474.8 1738.4,1475.5 1732.8,1476.1 1727.3,1476.6 1721.7,1477.2 1715.9,1477.7 1709.9,1478.2 1703.7,1478.7 1697.3,1479.2 1690.8,1479.7 1684.2,1480.3 1677.5,1480.8 1670.7,1481.4 1663.9,1482.1 1656.6,1482.7 1648.8,1483.5 1640.4,1484.3 1632.0,1485.2 1623.6,1486.0 1615.5,1486.9 1608.0,1487.6 1601.3,1488.3 1595.6,1488.9 1591.3,1489.3" fill="url(#gS2)" stroke="#5a5a5a" stroke-width="1.0" stroke-linejoin="round"/>
<polygon points="1596.6,1581.3 1598.3,1582.4 1600.5,1583.8 1603.1,1585.5 1606.0,1587.4 1609.1,1589.4 1612.3,1591.5 1615.4,1593.6 1618.4,1595.6 1621.1,1597.5 1623.5,1599.2 1625.6,1600.8 1627.7,1602.4 1629.8,1604.0 1631.9,1605.6 1633.8,1607.2 1635.6,1608.7 1637.3,1610.1 1638.8,1611.4 1640.1,1612.5 1641.2,1613.4 1652.6,1599.4 1651.6,1598.6 1650.3,1597.6 1648.8,1596.3 1647.1,1594.9 1645.2,1593.3 1643.2,1591.6 1641.0,1589.9 1638.8,1588.1 1636.4,1586.3 1634.0,1584.6 1631.4,1582.8 1628.5,1580.8 1625.4,1578.7 1622.2,1576.5 1619.0,1574.4 1615.8,1572.3 1612.9,1570.4 1610.3,1568.7 1608.2,1567.3 1606.5,1566.2" fill="#9a9a9a" stroke="#5a5a5a" stroke-width="1.0" stroke-linejoin="round"/>
<polygon points="1609.4,1492.1 1608.8,1491.4 1608.4,1490.0 1608.1,1488.0 1608.0,1485.2 1608.1,1481.9 1608.5,1478.1 1609.2,1473.8 1610.1,1469.2 1611.4,1464.2 1613.0,1459.0 1614.9,1453.7 1617.2,1448.4 1619.8,1443.2 1622.7,1438.1 1625.8,1433.2 1629.3,1428.7 1632.9,1424.6 1636.8,1421.0 1640.9,1417.9 1645.0,1415.4 1649.3,1413.6 1653.6,1412.5 1658.0,1412.1 1662.3,1412.3 1638.4,1410.4 1634.1,1410.1 1629.7,1410.5 1625.4,1411.6 1621.1,1413.4 1616.9,1415.9 1612.9,1419.0 1609.0,1422.6 1605.3,1426.7 1601.9,1431.2 1598.7,1436.1 1595.9,1441.2 1593.3,1446.4 1591.0,1451.8 1589.1,1457.1 1587.5,1462.2 1586.2,1467.2 1585.3,1471.9 1584.6,1476.2 1584.2,1480.0 1584.1,1483.3 1584.2,1486.0 1584.5,1488.1 1584.9,1489.5 1585.5,1490.2" fill="#787878" stroke="#4f4f4f" stroke-width="0.8" stroke-linejoin="round"/>
<polygon points="1697.3,1499.4 1696.7,1498.7 1696.3,1497.3 1696.0,1495.2 1695.9,1492.5 1696.0,1489.2 1696.4,1485.4 1697.1,1481.1 1698.0,1476.4 1699.3,1471.5 1700.9,1466.3 1702.9,1461.0 1705.1,1455.7 1707.7,1450.4 1710.6,1445.3 1713.7,1440.4 1717.2,1435.9 1720.8,1431.8 1724.7,1428.2 1728.8,1425.1 1732.9,1422.7 1737.2,1420.9 1741.6,1419.7 1745.9,1419.3 1750.2,1419.6 1726.3,1417.6 1722.0,1417.3 1717.6,1417.8 1713.3,1418.9 1709.0,1420.7 1704.8,1423.2 1700.8,1426.2 1696.9,1429.8 1693.3,1434.0 1689.8,1438.5 1686.7,1443.3 1683.8,1448.4 1681.2,1453.7 1678.9,1459.0 1677.0,1464.3 1675.4,1469.5 1674.1,1474.5 1673.2,1479.1 1672.5,1483.4 1672.1,1487.2 1672.0,1490.5 1672.1,1493.2 1672.4,1495.3 1672.8,1496.7 1673.4,1497.4" fill="#787878" stroke="#4f4f4f" stroke-width="0.8" stroke-linejoin="round"/>
<polygon points="1600.2,1425.5 1602.9,1430.5 1605.3,1435.7 1607.3,1441.2 1609.1,1446.8 1610.5,1452.5 1611.6,1458.0 1612.4,1463.4 1612.9,1468.6 1613.1,1473.4 1613.1,1477.8 1612.9,1481.7 1612.5,1485.1 1612.0,1487.9 1611.3,1490.0 1610.7,1491.4 1610.0,1492.1 1609.4,1492.1 1585.5,1490.2 1586.1,1490.2 1586.8,1489.4 1587.4,1488.0 1588.0,1485.9 1588.6,1483.1 1588.9,1479.8 1589.2,1475.8 1589.2,1471.4 1588.9,1466.6 1588.4,1461.4 1587.7,1456.0 1586.6,1450.5 1585.2,1444.9 1583.4,1439.3 1581.4,1433.8 1579.0,1428.5 1576.3,1423.5" fill="url(#gHf)" stroke="#5a5a5a" stroke-width="0.9" stroke-linejoin="round"/>
<polygon points="1662.3,1412.3 1666.5,1413.4 1670.6,1415.1 1674.6,1417.4 1678.3,1420.5 1681.8,1424.1 1685.1,1428.2 1688.1,1432.8 1690.8,1437.7 1693.2,1443.0 1695.3,1448.5 1697.0,1454.1 1698.4,1459.7 1699.5,1465.3 1700.3,1470.7 1700.8,1475.8 1701.0,1480.7 1701.0,1485.1 1700.8,1489.0 1700.4,1492.4 1699.9,1495.1 1699.3,1497.2 1698.6,1498.7 1697.9,1499.4 1697.3,1499.4 1673.4,1497.4 1674.0,1497.4 1674.7,1496.7 1675.3,1495.3 1675.9,1493.1 1676.5,1490.4 1676.9,1487.0 1677.1,1483.1 1677.1,1478.7 1676.8,1473.9 1676.4,1468.7 1675.6,1463.3 1674.5,1457.7 1673.1,1452.1 1671.3,1446.5 1669.3,1441.0 1666.9,1435.8 1664.2,1430.8 1661.2,1426.2 1657.9,1422.1 1654.4,1418.5 1650.6,1415.5 1646.7,1413.1 1642.6,1411.4 1638.4,1410.4" fill="url(#gHf)" stroke="#5a5a5a" stroke-width="0.9" stroke-linejoin="round"/>
<polygon points="1750.2,1419.6 1754.4,1420.6 1758.5,1422.3 1762.5,1424.7 1766.2,1427.7 1769.8,1431.3 1773.0,1435.4 1776.0,1440.0 1752.1,1438.0 1749.1,1433.5 1745.8,1429.3 1742.3,1425.7 1738.5,1422.7 1734.6,1420.3 1730.5,1418.6 1726.3,1417.6" fill="url(#gHf)" stroke="#5a5a5a" stroke-width="0.9" stroke-linejoin="round"/>
<polygon points="1677.7,1464.9 1679.8,1463.8 1682.6,1462.4 1685.7,1460.7 1689.2,1458.9 1693.0,1456.9 1697.0,1454.9 1701.2,1452.8 1705.4,1450.8 1709.5,1448.8 1713.6,1446.9 1717.8,1445.1 1722.6,1443.1 1727.7,1441.0 1732.9,1438.9 1738.2,1436.9 1739.9,1441.4 1755.6,1421.5 1730.6,1417.5 1732.3,1422.0 1727.0,1424.1 1721.7,1426.2 1716.5,1428.3 1711.6,1430.4 1707.1,1432.3 1702.8,1434.3 1698.4,1436.3 1694.1,1438.5 1689.8,1440.6 1685.7,1442.7 1681.8,1444.7 1678.3,1446.6 1675.2,1448.2 1672.5,1449.6 1670.4,1450.6" fill="#8a8a8a" stroke="#5a5a5a" stroke-width="1.0" stroke-linejoin="round"/>
<path d="M1746.6,1417.9 C1749.0,1417.3 1755.0,1412.4 1761.1,1414.3 C1767.1,1416.1 1774.7,1423.9 1782.8,1428.8 C1791.0,1433.6 1804.3,1438.4 1810.0,1443.3 C1815.8,1448.1 1816.7,1452.3 1817.3,1457.8 C1817.9,1463.2 1817.9,1470.7 1813.6,1475.9 C1809.4,1481.0 1796.4,1483.1 1791.9,1488.6 C1787.4,1494.0 1783.4,1502.8 1786.4,1508.5 C1789.5,1514.2 1802.5,1518.8 1810.0,1523.0 C1817.6,1527.2 1827.5,1530.0 1831.8,1533.9 C1836.0,1537.8 1836.6,1542.9 1835.4,1546.6 C1834.2,1550.2 1831.8,1554.4 1824.5,1555.6 C1817.3,1556.8 1800.3,1553.8 1791.9,1553.8 C1783.4,1553.8 1781.3,1553.2 1773.8,1555.6 C1766.2,1558.1 1753.5,1565.6 1746.6,1568.3 C1739.6,1571.0 1734.5,1571.3 1732.1,1571.9" fill="none" stroke="#6d6d6d" stroke-width="6.3999999999999995" stroke-linecap="round" stroke-linejoin="round"/>
<path d="M1746.6,1417.9 C1749.0,1417.3 1755.0,1412.4 1761.1,1414.3 C1767.1,1416.1 1774.7,1423.9 1782.8,1428.8 C1791.0,1433.6 1804.3,1438.4 1810.0,1443.3 C1815.8,1448.1 1816.7,1452.3 1817.3,1457.8 C1817.9,1463.2 1817.9,1470.7 1813.6,1475.9 C1809.4,1481.0 1796.4,1483.1 1791.9,1488.6 C1787.4,1494.0 1783.4,1502.8 1786.4,1508.5 C1789.5,1514.2 1802.5,1518.8 1810.0,1523.0 C1817.6,1527.2 1827.5,1530.0 1831.8,1533.9 C1836.0,1537.8 1836.6,1542.9 1835.4,1546.6 C1834.2,1550.2 1831.8,1554.4 1824.5,1555.6 C1817.3,1556.8 1800.3,1553.8 1791.9,1553.8 C1783.4,1553.8 1781.3,1553.2 1773.8,1555.6 C1766.2,1558.1 1753.5,1565.6 1746.6,1568.3 C1739.6,1571.0 1734.5,1571.3 1732.1,1571.9" fill="none" stroke="#c4c4c4" stroke-width="4.6" stroke-linecap="round" stroke-linejoin="round"/>
<path d="M1746.6,1417.9 C1749.0,1417.3 1755.0,1412.4 1761.1,1414.3 C1767.1,1416.1 1774.7,1423.9 1782.8,1428.8 C1791.0,1433.6 1804.3,1438.4 1810.0,1443.3 C1815.8,1448.1 1816.7,1452.3 1817.3,1457.8 C1817.9,1463.2 1817.9,1470.7 1813.6,1475.9 C1809.4,1481.0 1796.4,1483.1 1791.9,1488.6 C1787.4,1494.0 1783.4,1502.8 1786.4,1508.5 C1789.5,1514.2 1802.5,1518.8 1810.0,1523.0 C1817.6,1527.2 1827.5,1530.0 1831.8,1533.9 C1836.0,1537.8 1836.6,1542.9 1835.4,1546.6 C1834.2,1550.2 1831.8,1554.4 1824.5,1555.6 C1817.3,1556.8 1800.3,1553.8 1791.9,1553.8 C1783.4,1553.8 1781.3,1553.2 1773.8,1555.6 C1766.2,1558.1 1753.5,1565.6 1746.6,1568.3 C1739.6,1571.0 1734.5,1571.3 1732.1,1571.9" fill="none" stroke="#e6e6e6" stroke-width="1.4" stroke-linecap="round" transform="translate(-0.6,-0.6)"/>
<path d="M1556.3,1474.1 C1557.5,1478.6 1562.0,1490.7 1563.5,1501.3 C1565.0,1511.8 1564.4,1526.0 1565.3,1537.5 C1566.2,1549.0 1565.0,1563.2 1568.9,1570.1 C1572.9,1577.1 1585.0,1575.6 1588.9,1579.2 C1592.8,1582.8 1593.7,1585.2 1592.5,1591.9 C1591.3,1598.5 1583.4,1614.5 1581.6,1619.1" fill="none" stroke="#6d6d6d" stroke-width="6.3999999999999995" stroke-linecap="round" stroke-linejoin="round"/>
<path d="M1556.3,1474.1 C1557.5,1478.6 1562.0,1490.7 1563.5,1501.3 C1565.0,1511.8 1564.4,1526.0 1565.3,1537.5 C1566.2,1549.0 1565.0,1563.2 1568.9,1570.1 C1572.9,1577.1 1585.0,1575.6 1588.9,1579.2 C1592.8,1582.8 1593.7,1585.2 1592.5,1591.9 C1591.3,1598.5 1583.4,1614.5 1581.6,1619.1" fill="none" stroke="#c4c4c4" stroke-width="4.6" stroke-linecap="round" stroke-linejoin="round"/>
<path d="M1556.3,1474.1 C1557.5,1478.6 1562.0,1490.7 1563.5,1501.3 C1565.0,1511.8 1564.4,1526.0 1565.3,1537.5 C1566.2,1549.0 1565.0,1563.2 1568.9,1570.1 C1572.9,1577.1 1585.0,1575.6 1588.9,1579.2 C1592.8,1582.8 1593.7,1585.2 1592.5,1591.9 C1591.3,1598.5 1583.4,1614.5 1581.6,1619.1" fill="none" stroke="#e6e6e6" stroke-width="1.4" stroke-linecap="round" transform="translate(-0.6,-0.6)"/>
<polygon points="1349.4,1343.0 1347.0,1343.1 1344.6,1342.7 1342.1,1341.7 1339.7,1340.3 1337.4,1338.4 1335.3,1336.1 1333.3,1333.3 1331.6,1330.2 1330.2,1326.8 1329.1,1323.1 1328.4,1319.3 1328.1,1315.3 1328.1,1311.2 1328.6,1307.1 1329.5,1303.0 1330.9,1299.1 1332.6,1295.4 1334.8,1291.9 1337.3,1288.7 1340.1,1285.8 1343.2,1283.4 1346.7,1281.4 1350.3,1279.8 1354.1,1278.7 1342.7,1282.5 1338.9,1283.5 1335.2,1285.1 1331.8,1287.1 1328.7,1289.6 1325.9,1292.4 1323.3,1295.6 1321.2,1299.1 1319.5,1302.8 1318.1,1306.7 1317.2,1310.8 1316.7,1314.9 1316.7,1319.0 1317.0,1323.0 1317.7,1326.9 1318.8,1330.6 1320.2,1334.0 1321.9,1337.1 1323.8,1339.8 1326.0,1342.1 1328.3,1344.0 1330.7,1345.5 1333.2,1346.4 1335.6,1346.8 1338.0,1346.8" fill="#5e5e5e" stroke="#4f4f4f" stroke-width="0.8" stroke-linejoin="round"/>
<polygon points="1386.1,1331.0 1383.7,1331.1 1381.2,1330.7 1378.8,1329.7 1376.4,1328.3 1374.1,1326.4 1371.9,1324.1 1370.0,1321.3 1368.3,1318.2 1366.9,1314.8 1365.8,1311.1 1365.1,1307.3 1364.7,1303.3 1364.8,1299.2 1365.3,1295.1 1366.2,1291.0 1354.8,1294.7 1353.9,1298.8 1353.4,1302.9 1353.3,1307.0 1353.7,1311.0 1354.4,1314.9 1355.5,1318.6 1356.9,1322.0 1358.6,1325.1 1360.5,1327.8 1362.7,1330.1 1365.0,1332.0 1367.4,1333.5 1369.8,1334.4 1372.3,1334.8 1374.7,1334.8" fill="#5e5e5e" stroke="#4f4f4f" stroke-width="0.8" stroke-linejoin="round"/>
<polygon points="1360.2,1323.3 1360.4,1326.7 1360.2,1329.9 1359.6,1332.9 1358.6,1335.6 1357.3,1337.9 1355.7,1339.9 1353.8,1341.4 1351.7,1342.5 1349.4,1343.0 1338.0,1346.8 1340.3,1346.2 1342.4,1345.1 1344.3,1343.6 1345.9,1341.7 1347.2,1339.3 1348.2,1336.6 1348.8,1333.6 1349.0,1330.4 1348.8,1327.0" fill="#8a8a8a" stroke="#5a5a5a" stroke-width="0.9" stroke-linejoin="round"/>
<polygon points="1354.1,1278.7 1358.0,1278.2 1362.0,1278.1 1365.9,1278.5 1369.9,1279.5 1373.7,1280.9 1377.4,1282.7 1380.9,1284.9 1384.1,1287.5 1387.0,1290.4 1389.7,1293.6 1391.9,1297.0 1393.8,1300.5 1395.2,1304.1 1396.2,1307.7 1396.9,1311.3 1397.1,1314.7 1396.8,1317.9 1396.2,1320.9 1395.3,1323.6 1393.9,1325.9 1392.3,1327.9 1390.4,1329.4 1388.3,1330.5 1386.1,1331.0 1374.7,1334.8 1376.9,1334.2 1379.0,1333.1 1380.9,1331.6 1382.5,1329.7 1383.9,1327.3 1384.8,1324.6 1385.4,1321.6 1385.7,1318.4 1385.5,1315.0 1384.8,1311.4 1383.8,1307.8 1382.4,1304.2 1380.5,1300.7 1378.2,1297.4 1375.6,1294.2 1372.7,1291.3 1369.5,1288.7 1366.0,1286.4 1362.3,1284.6 1358.5,1283.2 1354.5,1282.3 1350.6,1281.8 1346.6,1281.9 1342.7,1282.5" fill="#8a8a8a" stroke="#5a5a5a" stroke-width="0.9" stroke-linejoin="round"/>
<polygon points="1645.2,1735.7 1641.6,1735.7 1638.1,1735.0 1634.5,1733.6 1631.2,1731.5 1628.1,1728.7 1625.3,1725.3 1622.8,1721.4 1620.8,1716.9 1619.4,1712.0 1618.4,1706.8 1618.1,1701.3 1618.4,1695.7 1619.3,1689.9 1620.9,1684.2 1623.2,1678.6 1626.0,1673.1 1629.5,1668.0 1633.5,1663.2 1638.1,1658.9 1643.1,1655.0 1648.6,1651.8 1654.4,1649.1 1634.8,1653.1 1629.0,1655.7 1623.5,1658.9 1618.5,1662.8 1613.9,1667.1 1609.9,1671.9 1606.4,1677.1 1603.6,1682.5 1601.3,1688.1 1599.7,1693.8 1598.8,1699.6 1598.5,1705.3 1598.8,1710.7 1599.8,1716.0 1601.2,1720.8 1603.2,1725.3 1605.6,1729.2 1608.5,1732.6 1611.6,1735.4 1614.9,1737.5 1618.4,1738.9 1622.0,1739.6 1625.6,1739.6" fill="#707070" stroke="#4f4f4f" stroke-width="0.8" stroke-linejoin="round"/>
<polygon points="1654.5,1682.6 1657.6,1687.5 1660.1,1692.6 1661.9,1697.8 1663.1,1703.0 1663.7,1708.1 1663.6,1712.9 1662.9,1717.5 1661.6,1721.8 1659.8,1725.6 1657.6,1728.8 1654.9,1731.5 1651.9,1733.6 1648.6,1735.0 1645.2,1735.7 1625.6,1739.6 1629.0,1738.9 1632.3,1737.5 1635.3,1735.4 1638.0,1732.8 1640.2,1729.5 1642.0,1725.7 1643.3,1721.5 1644.0,1716.9 1644.1,1712.0 1643.5,1706.9 1642.3,1701.7 1640.5,1696.6 1638.0,1691.4 1634.9,1686.5" fill="#707070" stroke="#5a5a5a" stroke-width="0.9" stroke-linejoin="round"/>
<polygon points="1599.3,1581.5 1600.6,1582.4 1602.2,1583.5 1604.0,1584.9 1606.1,1586.4 1608.4,1588.0 1610.8,1589.7 1613.2,1591.5 1615.7,1593.2 1618.1,1594.9 1620.4,1596.5 1622.7,1598.2 1625.3,1600.0 1627.9,1601.8 1630.6,1603.7 1633.3,1605.5 1635.8,1607.3 1638.2,1608.9 1640.3,1610.4 1642.1,1611.6 1643.4,1612.6 1652.6,1599.4 1651.2,1598.5 1649.4,1597.2 1647.3,1595.8 1644.9,1594.1 1642.4,1592.4 1639.7,1590.5 1637.0,1588.7 1634.4,1586.8 1631.9,1585.1 1629.6,1583.5 1627.3,1581.9 1625.0,1580.2 1622.5,1578.4 1620.1,1576.7 1617.7,1575.0 1615.5,1573.4 1613.4,1571.9 1611.5,1570.5 1609.9,1569.4 1608.7,1568.5" fill="url(#gS)" stroke="#5a5a5a" stroke-width="1.0" stroke-linejoin="round"/>
<path d="M1647.6,1603.4 C1651.9,1605.9 1667.2,1614.0 1673.3,1618.5 C1679.3,1623.0 1683.2,1627.6 1683.9,1630.6 C1684.7,1633.6 1683.3,1635.2 1677.8,1636.7 C1672.2,1638.2 1656.1,1638.2 1650.6,1639.7 C1645.1,1641.2 1646.4,1640.9 1644.6,1645.7 C1642.8,1650.5 1642.0,1662.1 1640.0,1668.4 C1638.0,1674.7 1635.8,1678.5 1632.5,1683.5 C1629.2,1688.5 1622.4,1696.1 1620.4,1698.6" fill="none" stroke="#6d6d6d" stroke-width="6.3999999999999995" stroke-linecap="round" stroke-linejoin="round"/>
<path d="M1647.6,1603.4 C1651.9,1605.9 1667.2,1614.0 1673.3,1618.5 C1679.3,1623.0 1683.2,1627.6 1683.9,1630.6 C1684.7,1633.6 1683.3,1635.2 1677.8,1636.7 C1672.2,1638.2 1656.1,1638.2 1650.6,1639.7 C1645.1,1641.2 1646.4,1640.9 1644.6,1645.7 C1642.8,1650.5 1642.0,1662.1 1640.0,1668.4 C1638.0,1674.7 1635.8,1678.5 1632.5,1683.5 C1629.2,1688.5 1622.4,1696.1 1620.4,1698.6" fill="none" stroke="#c4c4c4" stroke-width="4.6" stroke-linecap="round" stroke-linejoin="round"/>
<path d="M1647.6,1603.4 C1651.9,1605.9 1667.2,1614.0 1673.3,1618.5 C1679.3,1623.0 1683.2,1627.6 1683.9,1630.6 C1684.7,1633.6 1683.3,1635.2 1677.8,1636.7 C1672.2,1638.2 1656.1,1638.2 1650.6,1639.7 C1645.1,1641.2 1646.4,1640.9 1644.6,1645.7 C1642.8,1650.5 1642.0,1662.1 1640.0,1668.4 C1638.0,1674.7 1635.8,1678.5 1632.5,1683.5 C1629.2,1688.5 1622.4,1696.1 1620.4,1698.6" fill="none" stroke="#e6e6e6" stroke-width="1.4" stroke-linecap="round" transform="translate(-0.6,-0.6)"/>
<polygon points="1548.5,1617.1 1549.6,1618.2 1551.1,1619.0 1553.0,1619.6 1555.2,1620.1 1557.8,1620.4 1560.6,1620.6 1563.7,1620.7 1567.0,1620.7 1570.5,1620.6 1574.1,1620.4 1577.8,1620.2 1581.4,1620.0 1585.0,1619.9 1588.6,1619.8 1591.9,1619.7 1595.1,1619.7 1598.1,1619.9 1600.8,1620.2 1603.1,1620.6 1605.1,1621.2 1606.8,1621.9 1608.0,1622.9 1608.9,1624.0 1609.3,1625.3 1600.0,1605.4 1599.6,1604.0 1598.7,1602.9 1597.5,1602.0 1595.8,1601.2 1593.8,1600.6 1591.4,1600.2 1588.8,1599.9 1585.8,1599.8 1582.6,1599.8 1579.3,1599.8 1575.7,1599.9 1572.1,1600.1 1568.5,1600.3 1564.8,1600.5 1561.2,1600.6 1557.7,1600.7 1554.4,1600.8 1551.3,1600.7 1548.5,1600.5 1545.9,1600.2 1543.7,1599.7 1541.8,1599.0 1540.3,1598.2 1539.2,1597.2" fill="#787878" stroke="#4f4f4f" stroke-width="0.8" stroke-linejoin="round"/>
<polygon points="1555.4,1600.2 1553.3,1602.7 1551.6,1605.1 1550.1,1607.3 1548.9,1609.4 1548.0,1611.3 1547.5,1613.0 1547.5,1614.6 1547.8,1616.0 1548.5,1617.1 1539.2,1597.2 1538.5,1596.0 1538.2,1594.6 1538.2,1593.1 1538.7,1591.3 1539.6,1589.4 1540.7,1587.3 1542.3,1585.1 1544.0,1582.8 1546.1,1580.3" fill="url(#gHf)" stroke="#5a5a5a" stroke-width="0.9" stroke-linejoin="round"/>
<polygon points="1609.3,1625.3 1609.4,1626.8 1609.0,1628.5 1608.3,1630.3 1607.3,1632.3 1605.9,1634.5 1604.2,1636.8 1602.2,1639.2 1600.1,1641.8 1597.8,1644.4 1595.4,1647.0 1592.9,1649.7 1590.4,1652.4 1587.9,1655.1 1585.6,1657.7 1583.4,1660.2 1574.1,1640.3 1576.3,1637.7 1578.6,1635.1 1581.1,1632.5 1583.6,1629.8 1586.1,1627.1 1588.5,1624.4 1590.8,1621.8 1592.9,1619.3 1594.9,1616.9 1596.6,1614.6 1598.0,1612.4 1599.0,1610.4 1599.7,1608.5 1600.1,1606.8 1600.0,1605.4" fill="url(#gHf)" stroke="#5a5a5a" stroke-width="0.9" stroke-linejoin="round"/>
<polygon points="1509.5,1336.8 1509.7,1338.3 1510.3,1339.8 1511.4,1341.4 1512.9,1343.0 1514.8,1344.6 1517.1,1346.2 1519.7,1347.9 1522.5,1349.6 1525.6,1351.3 1528.9,1353.0 1532.2,1354.8 1535.7,1356.5 1539.1,1358.2 1542.4,1360.0 1545.6,1361.7 1548.6,1363.4 1551.4,1365.1 1553.9,1366.8 1556.1,1368.4 1557.9,1370.0 1559.2,1371.6 1560.2,1373.1 1560.7,1374.7 1560.7,1376.2 1562.5,1352.2 1562.5,1350.7 1562.0,1349.2 1561.0,1347.7 1559.6,1346.1 1557.9,1344.5 1555.7,1342.8 1553.2,1341.2 1550.4,1339.5 1547.4,1337.8 1544.2,1336.0 1540.9,1334.3 1537.4,1332.6 1534.0,1330.8 1530.7,1329.1 1527.4,1327.4 1524.3,1325.7 1521.5,1324.0 1518.9,1322.3 1516.6,1320.7 1514.7,1319.0 1513.2,1317.4 1512.1,1315.9 1511.5,1314.4 1511.3,1312.9" fill="#787878" stroke="#4f4f4f" stroke-width="0.8" stroke-linejoin="round"/>
<polygon points="1504.3,1407.5 1504.5,1409.0 1505.2,1410.5 1506.3,1412.1 1507.8,1413.7 1509.8,1415.3 1512.1,1416.9 1514.7,1418.6 1517.6,1420.3 1520.7,1422.0 1524.0,1423.8 1527.3,1425.5 1530.8,1427.2 1534.2,1429.0 1537.5,1430.7 1540.7,1432.4 1543.7,1434.1 1546.4,1435.8 1548.9,1437.5 1551.0,1439.1 1552.8,1440.7 1554.1,1442.3 1555.0,1443.8 1555.5,1445.4 1555.4,1446.8 1557.2,1422.9 1557.2,1421.4 1556.8,1419.9 1555.9,1418.4 1554.5,1416.8 1552.8,1415.2 1550.7,1413.5 1548.2,1411.9 1545.5,1410.2 1542.5,1408.5 1539.3,1406.8 1535.9,1405.0 1532.5,1403.3 1529.1,1401.6 1525.8,1399.8 1522.5,1398.1 1519.4,1396.4 1516.5,1394.7 1513.9,1393.0 1511.6,1391.4 1509.6,1389.7 1508.1,1388.1 1507.0,1386.6 1506.3,1385.0 1506.0,1383.5" fill="#787878" stroke="#4f4f4f" stroke-width="0.8" stroke-linejoin="round"/>
<polygon points="1517.8,1328.5 1515.4,1329.8 1513.4,1331.2 1511.7,1332.5 1510.6,1333.9 1509.8,1335.3 1509.5,1336.8 1511.3,1312.9 1511.6,1311.4 1512.3,1310.0 1513.5,1308.6 1515.2,1307.2 1517.2,1305.9 1519.6,1304.6" fill="url(#gHf)" stroke="#5a5a5a" stroke-width="0.9" stroke-linejoin="round"/>
<polygon points="1560.7,1376.2 1560.3,1377.6 1559.4,1379.0 1558.1,1380.4 1556.4,1381.7 1554.2,1383.1 1551.7,1384.4 1548.9,1385.6 1545.8,1386.9 1542.5,1388.1 1539.0,1389.3 1535.4,1390.5 1531.8,1391.8 1528.1,1393.0 1524.6,1394.2 1521.2,1395.4 1517.9,1396.7 1515.0,1397.9 1512.3,1399.2 1509.9,1400.5 1507.9,1401.8 1506.3,1403.2 1505.2,1404.6 1504.5,1406.0 1504.3,1407.5 1506.0,1383.5 1506.3,1382.1 1507.0,1380.6 1508.1,1379.3 1509.7,1377.9 1511.7,1376.6 1514.0,1375.3 1516.7,1374.0 1519.7,1372.7 1523.0,1371.5 1526.4,1370.3 1529.9,1369.0 1533.6,1367.8 1537.2,1366.6 1540.8,1365.4 1544.3,1364.2 1547.6,1362.9 1550.7,1361.7 1553.5,1360.4 1556.0,1359.1 1558.1,1357.8 1559.9,1356.5 1561.2,1355.1 1562.1,1353.7 1562.5,1352.2" fill="url(#gHf)" stroke="#5a5a5a" stroke-width="0.9" stroke-linejoin="round"/>
<polygon points="1555.4,1446.8 1555.0,1448.3 1554.0,1449.7 1552.7,1451.1 1550.9,1452.4 1548.7,1453.7 1546.2,1455.0 1543.3,1456.3 1540.2,1457.5 1536.9,1458.8 1533.4,1460.0 1529.8,1461.2 1526.1,1462.4 1522.5,1463.6 1524.3,1439.7 1527.9,1438.5 1531.6,1437.3 1535.1,1436.1 1538.6,1434.8 1542.0,1433.6 1545.1,1432.4 1547.9,1431.1 1550.5,1429.8 1552.7,1428.5 1554.5,1427.1 1555.8,1425.8 1556.8,1424.3 1557.2,1422.9" fill="url(#gHf)" stroke="#5a5a5a" stroke-width="0.9" stroke-linejoin="round"/>
<path d="M1445.0,1425.0 C1447.8,1422.2 1454.5,1412.0 1462.0,1408.0 C1469.5,1404.0 1480.3,1401.3 1490.0,1401.0 C1499.7,1400.7 1510.3,1403.5 1520.0,1406.0 C1529.7,1408.5 1543.3,1414.3 1548.0,1416.0" fill="none" stroke="#6d6d6d" stroke-width="6.3999999999999995" stroke-linecap="round" stroke-linejoin="round"/>
<path d="M1445.0,1425.0 C1447.8,1422.2 1454.5,1412.0 1462.0,1408.0 C1469.5,1404.0 1480.3,1401.3 1490.0,1401.0 C1499.7,1400.7 1510.3,1403.5 1520.0,1406.0 C1529.7,1408.5 1543.3,1414.3 1548.0,1416.0" fill="none" stroke="#c4c4c4" stroke-width="4.6" stroke-linecap="round" stroke-linejoin="round"/>
<path d="M1445.0,1425.0 C1447.8,1422.2 1454.5,1412.0 1462.0,1408.0 C1469.5,1404.0 1480.3,1401.3 1490.0,1401.0 C1499.7,1400.7 1510.3,1403.5 1520.0,1406.0 C1529.7,1408.5 1543.3,1414.3 1548.0,1416.0" fill="none" stroke="#e6e6e6" stroke-width="1.4" stroke-linecap="round" transform="translate(-0.6,-0.6)"/>
<circle cx="1186.6" cy="1082.7" r="18.5" fill="url(#gG)"/>
<circle cx="1301.4" cy="1143.1" r="18.5" fill="url(#gG)"/>
<circle cx="1206.8" cy="1165.9" r="18.5" fill="url(#gG)"/>
<circle cx="1293.4" cy="1179.0" r="18.5" fill="url(#gG)"/>
<circle cx="1253.9" cy="1193.1" r="18.5" fill="url(#gG)"/>
<circle cx="1198.1" cy="1208.2" r="18.5" fill="url(#gG)"/>
<circle cx="1286.7" cy="1213.2" r="18.5" fill="url(#gG)"/>
<circle cx="1301.8" cy="1235.4" r="18.5" fill="url(#gG)"/>
<circle cx="1269.2" cy="1243.4" r="18.5" fill="url(#gG)"/>
<circle cx="1241.4" cy="1233.4" r="18.5" fill="url(#gG)"/>
<circle cx="1263.6" cy="1263.6" r="18.5" fill="url(#gG)"/>
<circle cx="1254.5" cy="1309.9" r="18.5" fill="url(#gG)"/>
<circle cx="1415.6" cy="1124.6" r="18.5" fill="url(#gG)"/>
<circle cx="1348.2" cy="1239.4" r="18.5" fill="url(#gG)"/>
<circle cx="1377.4" cy="1250.5" r="18.5" fill="url(#gG)"/>
<circle cx="1416.6" cy="1268.6" r="18.5" fill="url(#gG)"/>
<circle cx="1352.2" cy="1305.9" r="18.5" fill="url(#gG)"/>
<circle cx="1541.2" cy="1152.8" r="18.5" fill="url(#gG)"/>
<circle cx="1676.6" cy="1110.9" r="18.5" fill="url(#gG)"/>
<circle cx="1675.8" cy="1129.4" r="18.5" fill="url(#gG)"/>
<circle cx="1671.8" cy="1164.1" r="18.5" fill="url(#gG)"/>
<circle cx="1641.1" cy="1170.5" r="18.5" fill="url(#gG)"/>
<circle cx="1617.0" cy="1197.9" r="18.5" fill="url(#gG)"/>
<circle cx="1531.6" cy="1180.2" r="18.5" fill="url(#gG)"/>
<circle cx="1538.0" cy="1188.2" r="18.5" fill="url(#gG)"/>
<circle cx="1492.9" cy="1217.2" r="18.5" fill="url(#gG)"/>
<circle cx="1559.0" cy="1217.2" r="18.5" fill="url(#gG)"/>
<circle cx="1523.5" cy="1233.4" r="18.5" fill="url(#gG)"/>
<circle cx="1504.2" cy="1231.7" r="18.5" fill="url(#gG)"/>
<circle cx="1563.8" cy="1235.0" r="18.5" fill="url(#gG)"/>
<circle cx="1460.4" cy="1253.5" r="18.5" fill="url(#gG)"/>
<circle cx="1419.1" cy="1267.6" r="18.5" fill="url(#gG)"/>
<circle cx="1620.2" cy="1247.9" r="18.5" fill="url(#gG)"/>
<circle cx="1602.5" cy="1276.9" r="18.5" fill="url(#gG)"/>
<circle cx="1733.0" cy="1286.5" r="18.5" fill="url(#gG)"/>
<circle cx="1522.3" cy="1348.3" r="18.5" fill="url(#gG)"/>
<circle cx="1578.7" cy="1344.3" r="18.5" fill="url(#gG)"/>
<circle cx="1679.5" cy="1351.7" r="18.5" fill="url(#gG)"/>
<circle cx="1648.7" cy="1363.5" r="18.5" fill="url(#gG)"/>
<circle cx="1660.5" cy="1382.5" r="18.5" fill="url(#gG)"/>
<circle cx="1621.5" cy="1349.0" r="18.5" fill="url(#gG)"/>
<circle cx="1582.5" cy="1347.2" r="18.5" fill="url(#gG)"/>
<circle cx="1527.3" cy="1352.6" r="18.5" fill="url(#gG)"/>
<circle cx="1779.2" cy="1407.0" r="18.5" fill="url(#gG)"/>
<circle cx="1740.2" cy="1466.8" r="18.5" fill="url(#gG)"/>
<circle cx="1525.4" cy="1486.8" r="18.5" fill="url(#gG)"/>
<circle cx="1578.0" cy="1508.5" r="18.5" fill="url(#gG)"/>
<circle cx="1570.8" cy="1515.8" r="18.5" fill="url(#gG)"/>
<circle cx="1599.8" cy="1534.8" r="18.5" fill="url(#gG)"/>
<circle cx="1671.3" cy="1517.6" r="18.5" fill="url(#gG)"/>
<circle cx="1544.5" cy="1582.8" r="18.5" fill="url(#gG)"/>
<circle cx="1520.0" cy="1561.0" r="18.5" fill="url(#gG)"/>
<circle cx="1625.1" cy="1617.3" r="18.5" fill="url(#gG)"/>
<circle cx="1494.0" cy="1461.1" r="18.5" fill="url(#gG)"/>
<circle cx="1521.2" cy="1487.3" r="18.5" fill="url(#gG)"/>
<circle cx="1573.6" cy="1513.5" r="18.5" fill="url(#gG)"/>
<circle cx="1332.9" cy="1581.0" r="18.5" fill="url(#gG)"/>
<circle cx="1309.6" cy="1723.9" r="18.5" fill="url(#gG)"/>
<circle cx="1195.5" cy="1591.0" r="18.5" fill="url(#gG)"/>
<circle cx="1389.4" cy="1617.5" r="18.5" fill="url(#gG)"/>
<circle cx="1432.6" cy="1658.5" r="18.5" fill="url(#gG)"/>
<circle cx="1481.3" cy="1558.8" r="18.5" fill="url(#gG)"/>
<circle cx="1515.6" cy="1563.3" r="18.5" fill="url(#gG)"/>
<circle cx="1544.5" cy="1582.1" r="18.5" fill="url(#gG)"/>
<circle cx="1490.2" cy="1614.2" r="18.5" fill="url(#gG)"/>
<circle cx="1470.2" cy="1634.2" r="18.5" fill="url(#gG)"/>
<circle cx="1521.2" cy="1630.8" r="18.5" fill="url(#gG)"/>
<circle cx="1505.7" cy="1643.0" r="18.5" fill="url(#gG)"/>
<circle cx="1578.8" cy="1654.1" r="18.5" fill="url(#gG)"/>
<circle cx="1614.2" cy="1622.0" r="18.5" fill="url(#gG)"/>
<circle cx="1598.7" cy="1543.3" r="18.5" fill="url(#gG)"/>
<circle cx="1053.4" cy="1442.4" r="18.5" fill="url(#gG)"/>
<circle cx="1054.4" cy="1476.7" r="18.5" fill="url(#gG)"/>
<circle cx="1013.1" cy="1496.8" r="18.5" fill="url(#gG)"/>
<circle cx="993.9" cy="1519.0" r="18.5" fill="url(#gG)"/>
<circle cx="1081.5" cy="1515.0" r="18.5" fill="url(#gG)"/>
<circle cx="1111.8" cy="1488.8" r="18.5" fill="url(#gG)"/>
<circle cx="1140.0" cy="1530.0" r="18.5" fill="url(#gG)"/>
<circle cx="1175.2" cy="1534.1" r="18.5" fill="url(#gG)"/>
<circle cx="1130.9" cy="1560.3" r="18.5" fill="url(#gG)"/>
<circle cx="1162.1" cy="1581.4" r="18.5" fill="url(#gG)"/>
<circle cx="1195.3" cy="1590.5" r="18.5" fill="url(#gG)"/>
<circle cx="1421.7" cy="1240.4" r="18" fill="url(#gW)"/>
<circle cx="1538.0" cy="1133.5" r="18" fill="url(#gW)"/>
<circle cx="1749.1" cy="1260.8" r="18" fill="url(#gW)"/>
<circle cx="1364.8" cy="1397.7" r="18" fill="url(#gW)"/>
<circle cx="1591.6" cy="1455.0" r="18" fill="url(#gW)"/>
<circle cx="1543.6" cy="1504.9" r="18" fill="url(#gW)"/>
<circle cx="1588.7" cy="1453.0" r="18" fill="url(#gW)"/>
<circle cx="1642.3" cy="1539.3" r="18" fill="url(#gK)"/>
<circle cx="1313.0" cy="1300.8" r="17" fill="url(#gK)"/>
<path d="M1115.5,1069.0 C1118.7,1069.9 1128.1,1072.3 1134.4,1074.6 C1140.7,1076.9 1147.0,1080.2 1153.3,1082.8 C1159.6,1085.4 1165.9,1087.4 1172.2,1090.4 C1178.5,1093.3 1185.2,1097.1 1191.1,1100.4 C1196.9,1103.8 1202.6,1106.3 1207.4,1110.5 C1212.2,1114.7 1217.9,1123.1 1220.0,1125.6" fill="none" stroke="#6d6d6d" stroke-width="6.3999999999999995" stroke-linecap="round" stroke-linejoin="round"/>
<path d="M1115.5,1069.0 C1118.7,1069.9 1128.1,1072.3 1134.4,1074.6 C1140.7,1076.9 1147.0,1080.2 1153.3,1082.8 C1159.6,1085.4 1165.9,1087.4 1172.2,1090.4 C1178.5,1093.3 1185.2,1097.1 1191.1,1100.4 C1196.9,1103.8 1202.6,1106.3 1207.4,1110.5 C1212.2,1114.7 1217.9,1123.1 1220.0,1125.6" fill="none" stroke="#c4c4c4" stroke-width="4.6" stroke-linecap="round" stroke-linejoin="round"/>
<path d="M1115.5,1069.0 C1118.7,1069.9 1128.1,1072.3 1134.4,1074.6 C1140.7,1076.9 1147.0,1080.2 1153.3,1082.8 C1159.6,1085.4 1165.9,1087.4 1172.2,1090.4 C1178.5,1093.3 1185.2,1097.1 1191.1,1100.4 C1196.9,1103.8 1202.6,1106.3 1207.4,1110.5 C1212.2,1114.7 1217.9,1123.1 1220.0,1125.6" fill="none" stroke="#e6e6e6" stroke-width="1.4" stroke-linecap="round" transform="translate(-0.6,-0.6)"/>
<path d="M1691.1,1051.3 C1688.1,1054.8 1679.0,1065.5 1673.4,1072.2 C1667.7,1078.9 1661.8,1087.8 1657.2,1091.6 C1652.7,1095.3 1649.7,1091.0 1646.0,1094.8 C1642.2,1098.5 1638.7,1106.6 1634.7,1114.1 C1630.7,1121.6 1624.8,1131.8 1621.8,1139.9 C1618.8,1148.0 1619.1,1156.0 1617.0,1162.5 C1614.8,1168.9 1612.9,1174.0 1608.9,1178.6 C1604.9,1183.1 1598.7,1185.3 1592.8,1189.9 C1586.9,1194.4 1576.7,1203.3 1573.5,1206.0" fill="none" stroke="#6d6d6d" stroke-width="6.3999999999999995" stroke-linecap="round" stroke-linejoin="round"/>
<path d="M1691.1,1051.3 C1688.1,1054.8 1679.0,1065.5 1673.4,1072.2 C1667.7,1078.9 1661.8,1087.8 1657.2,1091.6 C1652.7,1095.3 1649.7,1091.0 1646.0,1094.8 C1642.2,1098.5 1638.7,1106.6 1634.7,1114.1 C1630.7,1121.6 1624.8,1131.8 1621.8,1139.9 C1618.8,1148.0 1619.1,1156.0 1617.0,1162.5 C1614.8,1168.9 1612.9,1174.0 1608.9,1178.6 C1604.9,1183.1 1598.7,1185.3 1592.8,1189.9 C1586.9,1194.4 1576.7,1203.3 1573.5,1206.0" fill="none" stroke="#c4c4c4" stroke-width="4.6" stroke-linecap="round" stroke-linejoin="round"/>
<path d="M1691.1,1051.3 C1688.1,1054.8 1679.0,1065.5 1673.4,1072.2 C1667.7,1078.9 1661.8,1087.8 1657.2,1091.6 C1652.7,1095.3 1649.7,1091.0 1646.0,1094.8 C1642.2,1098.5 1638.7,1106.6 1634.7,1114.1 C1630.7,1121.6 1624.8,1131.8 1621.8,1139.9 C1618.8,1148.0 1619.1,1156.0 1617.0,1162.5 C1614.8,1168.9 1612.9,1174.0 1608.9,1178.6 C1604.9,1183.1 1598.7,1185.3 1592.8,1189.9 C1586.9,1194.4 1576.7,1203.3 1573.5,1206.0" fill="none" stroke="#e6e6e6" stroke-width="1.4" stroke-linecap="round" transform="translate(-0.6,-0.6)"/>
<path d="M1266.6,1180.0 C1269.1,1185.0 1278.2,1200.1 1281.7,1210.2 C1285.2,1220.3 1287.2,1231.4 1287.7,1240.4 C1288.2,1249.5 1286.7,1258.5 1284.7,1264.6 C1282.7,1270.6 1278.7,1273.2 1275.6,1276.7 C1272.6,1280.2 1268.1,1284.2 1266.6,1285.7" fill="none" stroke="#6d6d6d" stroke-width="6.3999999999999995" stroke-linecap="round" stroke-linejoin="round"/>
<path d="M1266.6,1180.0 C1269.1,1185.0 1278.2,1200.1 1281.7,1210.2 C1285.2,1220.3 1287.2,1231.4 1287.7,1240.4 C1288.2,1249.5 1286.7,1258.5 1284.7,1264.6 C1282.7,1270.6 1278.7,1273.2 1275.6,1276.7 C1272.6,1280.2 1268.1,1284.2 1266.6,1285.7" fill="none" stroke="#c4c4c4" stroke-width="4.6" stroke-linecap="round" stroke-linejoin="round"/>
<path d="M1266.6,1180.0 C1269.1,1185.0 1278.2,1200.1 1281.7,1210.2 C1285.2,1220.3 1287.2,1231.4 1287.7,1240.4 C1288.2,1249.5 1286.7,1258.5 1284.7,1264.6 C1282.7,1270.6 1278.7,1273.2 1275.6,1276.7 C1272.6,1280.2 1268.1,1284.2 1266.6,1285.7" fill="none" stroke="#e6e6e6" stroke-width="1.4" stroke-linecap="round" transform="translate(-0.6,-0.6)"/>
<path d="M1340.0,1214.7 C1335.3,1215.5 1319.1,1216.8 1311.9,1219.3 C1304.7,1221.8 1300.6,1225.1 1296.8,1229.8 C1293.0,1234.6 1290.5,1242.2 1289.2,1248.0 C1288.0,1253.8 1288.0,1259.3 1289.2,1264.6 C1290.5,1269.9 1291.8,1276.2 1296.8,1279.7 C1301.8,1283.2 1312.3,1283.2 1319.5,1285.7 C1326.7,1288.3 1336.6,1293.3 1340.0,1294.8" fill="none" stroke="#6d6d6d" stroke-width="6.3999999999999995" stroke-linecap="round" stroke-linejoin="round"/>
<path d="M1340.0,1214.7 C1335.3,1215.5 1319.1,1216.8 1311.9,1219.3 C1304.7,1221.8 1300.6,1225.1 1296.8,1229.8 C1293.0,1234.6 1290.5,1242.2 1289.2,1248.0 C1288.0,1253.8 1288.0,1259.3 1289.2,1264.6 C1290.5,1269.9 1291.8,1276.2 1296.8,1279.7 C1301.8,1283.2 1312.3,1283.2 1319.5,1285.7 C1326.7,1288.3 1336.6,1293.3 1340.0,1294.8" fill="none" stroke="#c4c4c4" stroke-width="4.6" stroke-linecap="round" stroke-linejoin="round"/>
<path d="M1340.0,1214.7 C1335.3,1215.5 1319.1,1216.8 1311.9,1219.3 C1304.7,1221.8 1300.6,1225.1 1296.8,1229.8 C1293.0,1234.6 1290.5,1242.2 1289.2,1248.0 C1288.0,1253.8 1288.0,1259.3 1289.2,1264.6 C1290.5,1269.9 1291.8,1276.2 1296.8,1279.7 C1301.8,1283.2 1312.3,1283.2 1319.5,1285.7 C1326.7,1288.3 1336.6,1293.3 1340.0,1294.8" fill="none" stroke="#e6e6e6" stroke-width="1.4" stroke-linecap="round" transform="translate(-0.6,-0.6)"/>
<path d="M1556.3,1474.1 C1557.5,1478.6 1562.0,1490.7 1563.5,1501.3 C1565.0,1511.8 1564.4,1526.0 1565.3,1537.5 C1566.2,1549.0 1565.0,1563.2 1568.9,1570.1 C1572.9,1577.1 1585.0,1575.6 1588.9,1579.2 C1592.8,1582.8 1593.7,1585.2 1592.5,1591.9 C1591.3,1598.5 1583.4,1614.5 1581.6,1619.1" fill="none" stroke="#6d6d6d" stroke-width="6.3999999999999995" stroke-linecap="round" stroke-linejoin="round"/>
<path d="M1556.3,1474.1 C1557.5,1478.6 1562.0,1490.7 1563.5,1501.3 C1565.0,1511.8 1564.4,1526.0 1565.3,1537.5 C1566.2,1549.0 1565.0,1563.2 1568.9,1570.1 C1572.9,1577.1 1585.0,1575.6 1588.9,1579.2 C1592.8,1582.8 1593.7,1585.2 1592.5,1591.9 C1591.3,1598.5 1583.4,1614.5 1581.6,1619.1" fill="none" stroke="#c4c4c4" stroke-width="4.6" stroke-linecap="round" stroke-linejoin="round"/>
<path d="M1556.3,1474.1 C1557.5,1478.6 1562.0,1490.7 1563.5,1501.3 C1565.0,1511.8 1564.4,1526.0 1565.3,1537.5 C1566.2,1549.0 1565.0,1563.2 1568.9,1570.1 C1572.9,1577.1 1585.0,1575.6 1588.9,1579.2 C1592.8,1582.8 1593.7,1585.2 1592.5,1591.9 C1591.3,1598.5 1583.4,1614.5 1581.6,1619.1" fill="none" stroke="#e6e6e6" stroke-width="1.4" stroke-linecap="round" transform="translate(-0.6,-0.6)"/>
<circle cx="1406.4" cy="1400.7" r="15.5" fill="url(#gO)"/>
<circle cx="1452.8" cy="1396.7" r="15.5" fill="url(#gO)"/>
<circle cx="1427.6" cy="1392.0" r="15.5" fill="url(#gO)"/>
<circle cx="1424.6" cy="1374.5" r="15.5" fill="url(#gO)"/>
<circle cx="1420.0" cy="1410.0" r="15.5" fill="url(#gO)"/>
<circle cx="1437.7" cy="1413.8" r="18" fill="url(#gT)"/>
<path d="M1387.3,1402.7 C1386.8,1404.8 1383.5,1411.3 1384.0,1415.0 C1384.5,1418.7 1389.5,1422.2 1390.0,1425.0 C1390.5,1427.8 1386.2,1430.2 1387.0,1432.0 C1387.8,1433.8 1391.2,1435.2 1395.0,1436.0 C1398.8,1436.8 1407.5,1436.8 1410.0,1437.0" fill="none" stroke="#1b548f" stroke-width="7.5" stroke-linecap="round" stroke-linejoin="round"/>
<path d="M1387.3,1402.7 C1386.8,1404.8 1383.5,1411.3 1384.0,1415.0 C1384.5,1418.7 1389.5,1422.2 1390.0,1425.0 C1390.5,1427.8 1386.2,1430.2 1387.0,1432.0 C1387.8,1433.8 1391.2,1435.2 1395.0,1436.0 C1398.8,1436.8 1407.5,1436.8 1410.0,1437.0" fill="none" stroke="#3a86d4" stroke-width="4.5" stroke-linecap="round" stroke-linejoin="round"/>
<path d="M1390.0,1425.0 C1388.7,1427.5 1384.5,1435.5 1382.0,1440.0 C1379.5,1444.5 1380.3,1450.3 1375.0,1452.0 C1369.7,1453.7 1354.7,1448.3 1350.0,1450.0 C1345.3,1451.7 1349.5,1458.7 1347.0,1462.0 C1344.5,1465.3 1339.2,1469.0 1335.0,1470.0 C1330.8,1471.0 1327.8,1467.2 1322.0,1468.0 C1316.2,1468.8 1303.7,1473.8 1300.0,1475.0" fill="none" stroke="#1b548f" stroke-width="7.5" stroke-linecap="round" stroke-linejoin="round"/>
<path d="M1390.0,1425.0 C1388.7,1427.5 1384.5,1435.5 1382.0,1440.0 C1379.5,1444.5 1380.3,1450.3 1375.0,1452.0 C1369.7,1453.7 1354.7,1448.3 1350.0,1450.0 C1345.3,1451.7 1349.5,1458.7 1347.0,1462.0 C1344.5,1465.3 1339.2,1469.0 1335.0,1470.0 C1330.8,1471.0 1327.8,1467.2 1322.0,1468.0 C1316.2,1468.8 1303.7,1473.8 1300.0,1475.0" fill="none" stroke="#3a86d4" stroke-width="4.5" stroke-linecap="round" stroke-linejoin="round"/>
<path d="M1335.0,1470.0 C1335.8,1473.3 1338.3,1483.3 1340.0,1490.0 C1341.7,1496.7 1345.0,1503.3 1345.0,1510.0 C1345.0,1516.7 1341.7,1524.2 1340.0,1530.0 C1338.3,1535.8 1337.0,1543.2 1335.0,1545.0 C1333.0,1546.8 1329.2,1541.7 1328.0,1541.0" fill="none" stroke="#1b548f" stroke-width="7.5" stroke-linecap="round" stroke-linejoin="round"/>
<path d="M1335.0,1470.0 C1335.8,1473.3 1338.3,1483.3 1340.0,1490.0 C1341.7,1496.7 1345.0,1503.3 1345.0,1510.0 C1345.0,1516.7 1341.7,1524.2 1340.0,1530.0 C1338.3,1535.8 1337.0,1543.2 1335.0,1545.0 C1333.0,1546.8 1329.2,1541.7 1328.0,1541.0" fill="none" stroke="#3a86d4" stroke-width="4.5" stroke-linecap="round" stroke-linejoin="round"/>
<path d="M1347.0,1462.0 C1347.8,1468.3 1351.7,1490.3 1352.0,1500.0 C1352.3,1509.7 1350.3,1513.7 1349.0,1520.0 C1347.7,1526.3 1344.7,1537.2 1344.0,1538.0 C1343.3,1538.8 1344.8,1527.2 1345.0,1525.0" fill="none" stroke="#1b548f" stroke-width="7.5" stroke-linecap="round" stroke-linejoin="round"/>
<path d="M1347.0,1462.0 C1347.8,1468.3 1351.7,1490.3 1352.0,1500.0 C1352.3,1509.7 1350.3,1513.7 1349.0,1520.0 C1347.7,1526.3 1344.7,1537.2 1344.0,1538.0 C1343.3,1538.8 1344.8,1527.2 1345.0,1525.0" fill="none" stroke="#3a86d4" stroke-width="4.5" stroke-linecap="round" stroke-linejoin="round"/>
<path d="M1322.0,1468.0 C1321.3,1469.2 1316.7,1472.2 1318.0,1475.0 C1319.3,1477.8 1326.3,1483.8 1330.0,1485.0 C1333.7,1486.2 1338.3,1482.5 1340.0,1482.0" fill="none" stroke="#1b548f" stroke-width="7.5" stroke-linecap="round" stroke-linejoin="round"/>
<path d="M1322.0,1468.0 C1321.3,1469.2 1316.7,1472.2 1318.0,1475.0 C1319.3,1477.8 1326.3,1483.8 1330.0,1485.0 C1333.7,1486.2 1338.3,1482.5 1340.0,1482.0" fill="none" stroke="#3a86d4" stroke-width="4.5" stroke-linecap="round" stroke-linejoin="round"/></g>
<text x="971.7" y="1058.6" font-size="41" font-weight="bold" fill="#000">d</text>
<text x="1239.4" y="1086.9" font-size="54" fill="#000" textLength="51.5" lengthAdjust="spacingAndGlyphs">IB</text>
<text x="1779.6" y="1229.8" font-size="54" fill="#000" textLength="50.0" lengthAdjust="spacingAndGlyphs">IA</text>
<text x="1030.4" y="1710.6" font-size="54" fill="#000" textLength="64.0" lengthAdjust="spacingAndGlyphs">IIB</text>
<text x="1373.5" y="1779.3" font-size="54" fill="#000" textLength="63.6" lengthAdjust="spacingAndGlyphs">IIA</text>
<text x="1258.6" y="1436.6" font-size="33.5" font-weight="bold" fill="#2385e0" textLength="71.5" lengthAdjust="spacingAndGlyphs">ADP</text>
<text x="1426.3" y="1359.4" font-size="33.5" font-weight="bold" fill="#e07820" textLength="33.0" lengthAdjust="spacingAndGlyphs">Pi</text>
<text x="1439.3" y="1448.0" font-size="33.5" font-weight="bold" fill="#6aa8aa" textLength="51.0" lengthAdjust="spacingAndGlyphs">Mg</text>
<circle cx="1764.9" cy="1652.6" r="18.1" fill="#437c30"/>
<circle cx="1764.9" cy="1713.3" r="18.1" fill="#aaaaaa"/>
<text x="1797.9" y="1660.8" font-size="30" fill="#000" textLength="122.4" lengthAdjust="spacingAndGlyphs">assigned</text>
<text x="1797.5" y="1720.9" font-size="30" fill="#000" textLength="172.7" lengthAdjust="spacingAndGlyphs">not assigned</text>
</svg></body></html>
